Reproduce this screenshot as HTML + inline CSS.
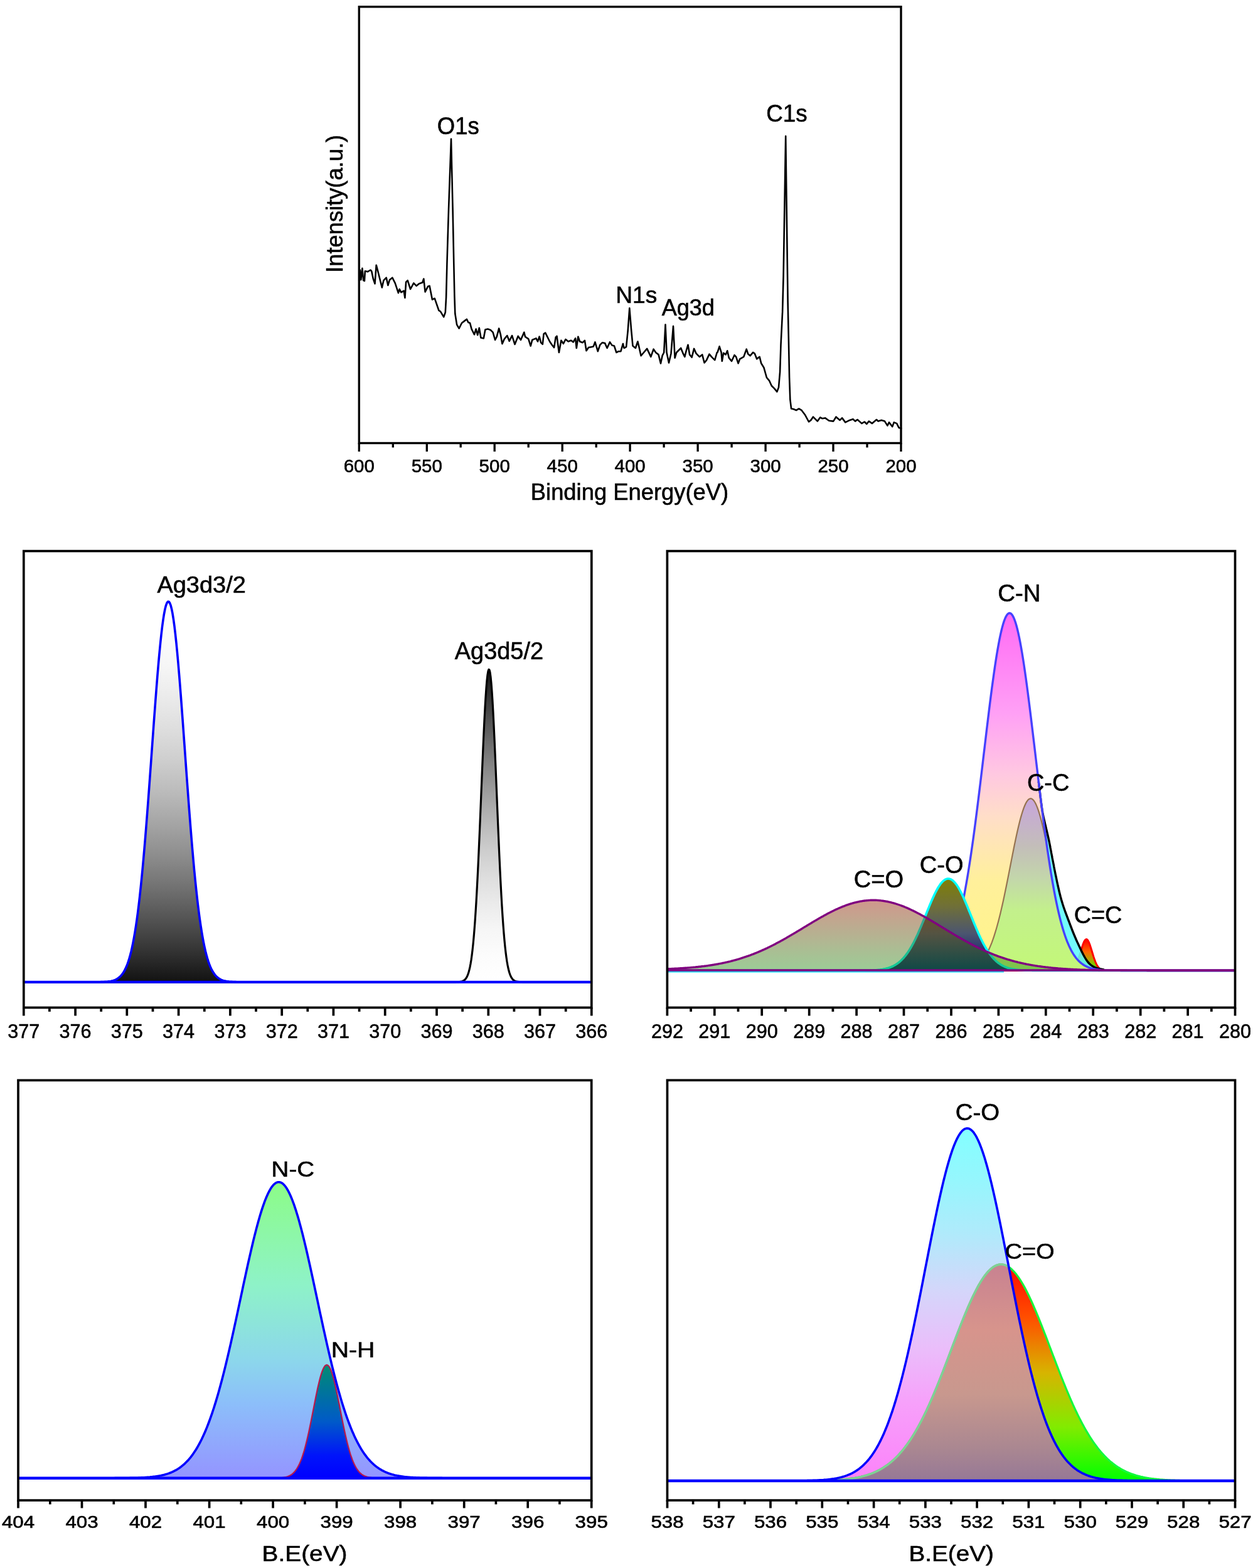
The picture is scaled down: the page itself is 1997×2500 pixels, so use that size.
<!DOCTYPE html>
<html lang="en"><head><meta charset="utf-8"><title>XPS spectra</title>
<style>html,body{margin:0;padding:0;background:#fff}body{width:1997px;height:2500px;overflow:hidden}svg{display:block}text{font-family:'Liberation Sans', sans-serif;fill:#000}</style>
</head><body>
<svg width="1997" height="2500" viewBox="0 0 1997 2500">
<rect width="1997" height="2500" fill="#fff"/>
<g id="survey">
<path d="M572.2 447.9 L573.9 430.5 L575.3 446.2 L577.4 427.9 L579.2 447.1 L580.9 447.9 L581.8 432.3 L586.1 433.1 L590.5 430.5 L592.2 432.3 L594.8 444.5 L597.5 452.3 L599.7 422.7 L601.8 430.5 L605.3 444.5 L608.8 458.4 L611.4 447.1 L615.7 442.7 L618.4 454.9 L621 446.2 L625.3 442.7 L629.7 451.4 L634.9 467.1 L636.7 461 L639.3 466.2 L643.6 463.6 L645.4 474.9 L647.1 449.7 L649.7 447.1 L654.1 461 L659.3 451.4 L663.7 455.8 L668 452.3 L673.2 450.6 L675.3 444.5 L677.6 465.4 L682 456.7 L684.6 455.8 L688.9 477.6 L692.8 475.8 L699.4 495 L702 496.7 L707.2 505.4 L709.8 498 L711.1 473.6 L712.4 421.3 L715 334.2 L719 221.5 L721.6 334.2 L723.3 421.3 L724.4 473 L725.3 500 L727.2 512 L728.1 517.6 L731.6 523.7 L736 515 L739.4 512.4 L743.8 508.9 L746.4 514.1 L749 515 L751.6 524.6 L756 533.3 L758.6 524.6 L761.2 534.2 L763.8 522.9 L766.4 538.5 L770.8 539.4 L773.4 525.5 L777.8 524.6 L782.1 526.3 L785.6 529.8 L789.1 542 L791.7 536.8 L795.2 523.7 L797.8 533.3 L800.4 548.1 L803.9 540.3 L808.3 535.1 L811.7 543.8 L816.1 535.1 L820.5 549 L825.7 535.9 L830 542 L835.3 529.8 L837 536.8 L842.2 540.3 L845.7 551.6 L848.3 542 L854.4 539.4 L857 544.5 L859.6 536.7 L862.2 546.3 L864.8 548.9 L866.6 532.3 L869.2 530.6 L871.8 535.8 L876.1 544.5 L879.6 549.8 L883.1 554.1 L885.7 537.6 L887.5 535.8 L890.9 562 L894.4 542.8 L897.9 548 L901.4 541 L905.7 544.5 L910.1 542.8 L913.6 545.4 L917.1 539.3 L918.8 555 L921.4 536.7 L924 544.5 L928.4 546.3 L931.9 542.8 L934.5 559.3 L938 554.1 L942.3 553.2 L945.8 552.4 L948.4 545.4 L952.8 560.2 L956.3 549.8 L959.8 546.3 L964.1 547.1 L967.6 555 L972 545.4 L975.4 550.6 L978.9 551.5 L982.4 562 L985.9 560.2 L989.4 560.2 L992.9 548 L994.6 555 L998.1 553.2 L1000.7 527.1 L1003.3 491.4 L1005.9 523.6 L1008.5 551.5 L1012.9 555 L1016.4 544.5 L1018.1 551.5 L1021.6 567.2 L1026 562 L1031.2 555.9 L1037.3 568.9 L1041.6 556.7 L1045.1 562 L1049.5 565.4 L1053 579.4 L1055.6 567.2 L1058.2 562 L1060.5 517.5 L1062.5 562 L1066 578.5 L1069.5 563.7 L1073 520.1 L1075.6 570.7 L1078.2 562 L1081.7 558.5 L1085.2 555 L1088.7 563.7 L1091.3 568.9 L1093.9 558.5 L1096.5 549.8 L1099.1 565.4 L1102.6 569.8 L1106.1 555.9 L1109.6 563.7 L1114.8 568.9 L1119.2 565.4 L1122.6 578.5 L1126.1 574.1 L1130.5 564.6 L1134 568.9 L1139.2 574.1 L1142.7 562 L1143.5 561.9 L1146.6 552.3 L1149.6 561.9 L1150.8 575.8 L1153.1 562.8 L1156.6 565.4 L1159.2 559.3 L1161.8 570.6 L1166.1 575.8 L1170.5 566.2 L1173.1 568.9 L1176.6 579.3 L1179.2 572.3 L1185.3 568.9 L1189.7 556.7 L1192.3 564.5 L1195.7 567.1 L1200.1 561.9 L1202.7 563.6 L1206.2 572.3 L1210.6 568.9 L1213.2 579.3 L1217.5 586.3 L1221.9 602 L1226.2 607.2 L1229.7 615 L1234.1 619.4 L1238.4 624.6 L1241 617.6 L1243.1 593.2 L1244.5 549.7 L1247.1 497.4 L1248.6 440 L1252.2 217 L1255.6 480 L1256.7 532.3 L1258.1 602 L1259.3 636.8 L1261.1 651.6 L1265.4 652.5 L1268.9 654.2 L1273.3 651.6 L1277.6 654.2 L1282.9 661.2 L1289 672.5 L1292.4 669.9 L1295.9 664.7 L1299.4 668.2 L1302.9 671.6 L1307.2 665.5 L1310.7 667.3 L1315.1 666.4 L1321.2 670.8 L1328.2 671.6 L1332.5 664.7 L1338.6 669.9 L1342.1 666.4 L1347.3 673.4 L1354.3 669.9 L1359.5 668.2 L1363 671.6 L1366.5 669 L1373.4 675.1 L1377.8 672.5 L1381.3 676 L1384.8 671.6 L1390 675.1 L1397 669 L1399.6 671.6 L1404.8 669.9 L1410 671.6 L1414.4 678.6 L1417 673.4 L1422.2 680.3 L1424.8 673.4 L1429.2 675.1 L1432.7 682.1 L1436.2 683" fill="none" stroke="#000" stroke-width="2.6" stroke-linejoin="round" stroke-linecap="round"/>
<rect x="572.3" y="10.8" width="863.7" height="695.7" fill="none" stroke="#000" stroke-width="3.4"/>
<path d="M572.3 706.5 V720 M626.3 706.5 V713.5 M680.3 706.5 V720 M734.2 706.5 V713.5 M788.2 706.5 V720 M842.2 706.5 V713.5 M896.2 706.5 V720 M950.2 706.5 V713.5 M1004.1 706.5 V720 M1058.1 706.5 V713.5 M1112.1 706.5 V720 M1166.1 706.5 V713.5 M1220.1 706.5 V720 M1274.1 706.5 V713.5 M1328 706.5 V720 M1382 706.5 V713.5 M1436 706.5 V720" fill="none" stroke="#000" stroke-width="3.3"/>
<g font-size="29.82" text-anchor="middle" stroke="#000" stroke-width="0.6">
<text transform="translate(572.30,752.50) scale(0.9891,1)">600</text>
<text transform="translate(680.26,752.50) scale(0.9891,1)">550</text>
<text transform="translate(788.22,752.50) scale(0.9891,1)">500</text>
<text transform="translate(896.19,752.50) scale(0.9891,1)">450</text>
<text transform="translate(1004.15,752.50) scale(0.9891,1)">400</text>
<text transform="translate(1112.11,752.50) scale(0.9891,1)">350</text>
<text transform="translate(1220.08,752.50) scale(0.9891,1)">300</text>
<text transform="translate(1328.04,752.50) scale(0.9891,1)">250</text>
<text transform="translate(1436.00,752.50) scale(0.9891,1)">200</text>
</g>
<text transform="translate(845.80,797.40) scale(0.9843,1)" font-size="36.95" stroke="#000" stroke-width="0.6">Binding Energy(eV)</text>
<text transform="translate(546.30,434.76) rotate(-90) scale(0.9818,1)" font-size="36.95" stroke="#000" stroke-width="0.6">Intensity(a.u.)</text>
<text transform="translate(696.77,213.72) scale(0.9534,1)" font-size="38.30" stroke="#000" stroke-width="0.6">O1s</text>
<text transform="translate(1221.26,193.92) scale(0.9681,1)" font-size="38.02" stroke="#000" stroke-width="0.6">C1s</text>
<text transform="translate(981.23,483.13) scale(0.9933,1)" font-size="37.42" stroke="#000" stroke-width="0.6">N1s</text>
<text transform="translate(1054.71,502.90) scale(0.9754,1)" font-size="36.95" stroke="#000" stroke-width="0.6">Ag3d</text>
</g>
<g id="ag3d">
<defs>
<linearGradient id="g2a" gradientUnits="userSpaceOnUse" x1="0" y1="959" x2="0" y2="1565.8"><stop offset="0" stop-color="rgb(255,255,255)"/><stop offset="0.083" stop-color="rgb(252,252,252)"/><stop offset="0.167" stop-color="rgb(246,246,246)"/><stop offset="0.25" stop-color="rgb(235,235,235)"/><stop offset="0.333" stop-color="rgb(222,222,222)"/><stop offset="0.417" stop-color="rgb(206,206,206)"/><stop offset="0.5" stop-color="rgb(187,187,187)"/><stop offset="0.583" stop-color="rgb(165,165,165)"/><stop offset="0.667" stop-color="rgb(141,141,141)"/><stop offset="0.75" stop-color="rgb(114,114,114)"/><stop offset="0.833" stop-color="rgb(84,84,84)"/><stop offset="0.917" stop-color="rgb(52,52,52)"/><stop offset="1" stop-color="rgb(18,18,18)"/></linearGradient>
<linearGradient id="g2b" gradientUnits="userSpaceOnUse" x1="0" y1="1067" x2="0" y2="1565.8"><stop offset="0" stop-color="rgb(18,18,18)"/><stop offset="0.083" stop-color="rgb(52,52,52)"/><stop offset="0.167" stop-color="rgb(84,84,84)"/><stop offset="0.25" stop-color="rgb(114,114,114)"/><stop offset="0.333" stop-color="rgb(141,141,141)"/><stop offset="0.417" stop-color="rgb(165,165,165)"/><stop offset="0.5" stop-color="rgb(187,187,187)"/><stop offset="0.583" stop-color="rgb(206,206,206)"/><stop offset="0.667" stop-color="rgb(222,222,222)"/><stop offset="0.75" stop-color="rgb(235,235,235)"/><stop offset="0.833" stop-color="rgb(246,246,246)"/><stop offset="0.917" stop-color="rgb(252,252,252)"/><stop offset="1" stop-color="rgb(255,255,255)"/></linearGradient>
</defs>
<path d="M715 1565.8 L716 1565.8 L717 1565.8 L718 1565.8 L719 1565.8 L720 1565.8 L721 1565.8 L722 1565.8 L723 1565.8 L724 1565.8 L725 1565.8 L726 1565.8 L727 1565.7 L728 1565.7 L729 1565.7 L730 1565.6 L731 1565.6 L732 1565.5 L733 1565.4 L734 1565.2 L735 1565 L736 1564.8 L737 1564.5 L738 1564 L739 1563.5 L740 1562.8 L741 1561.9 L742 1560.8 L743 1559.4 L744 1557.7 L745 1555.6 L746 1553 L747 1549.9 L748 1546.2 L749 1541.8 L750 1536.6 L751 1530.5 L752 1523.3 L753 1515.1 L754 1505.7 L755 1495 L756 1482.9 L757 1469.4 L758 1454.5 L759 1438.1 L760 1420.2 L761 1401 L762 1380.4 L763 1358.6 L764 1335.8 L765 1312.2 L766 1288 L767 1263.4 L768 1238.9 L769 1214.7 L770 1191.2 L771 1168.8 L772 1147.8 L773 1128.6 L774 1111.5 L775 1096.9 L776 1084.9 L777 1075.9 L778 1070.1 L779 1067.4 L780 1068.1 L781 1072 L782 1079.2 L783 1089.4 L784 1102.4 L785 1118.1 L786 1136 L787 1156 L788 1177.6 L789 1200.5 L790 1224.3 L791 1248.7 L792 1273.3 L793 1297.7 L794 1321.7 L795 1345.1 L796 1367.5 L797 1388.8 L798 1408.9 L799 1427.6 L800 1444.8 L801 1460.7 L802 1475 L803 1487.9 L804 1499.4 L805 1509.6 L806 1518.5 L807 1526.3 L808 1533 L809 1538.8 L810 1543.7 L811 1547.8 L812 1551.2 L813 1554.1 L814 1556.5 L815 1558.4 L816 1560 L817 1561.3 L818 1562.3 L819 1563.1 L820 1563.7 L821 1564.2 L822 1564.6 L823 1564.9 L824 1565.1 L825 1565.3 L826 1565.4 L827 1565.5 L828 1565.6 L829 1565.7 L830 1565.7 L831 1565.7 L832 1565.7 L833 1565.8 L834 1565.8 L835 1565.8 L836 1565.8 L837 1565.8 L838 1565.8 L839 1565.8 L840 1565.8 L841 1565.8 L842 1565.8 L843 1565.8 L844 1565.8 L845 1565.8 L845 1565.8 L715 1565.8 Z" fill="url(#g2b)" stroke="none"/>
<path d="M37.8 1565.8 L715 1565.8 L716 1565.8 L717 1565.8 L718 1565.8 L719 1565.8 L720 1565.8 L721 1565.8 L722 1565.8 L723 1565.8 L724 1565.8 L725 1565.8 L726 1565.8 L727 1565.7 L728 1565.7 L729 1565.7 L730 1565.6 L731 1565.6 L732 1565.5 L733 1565.4 L734 1565.2 L735 1565 L736 1564.8 L737 1564.5 L738 1564 L739 1563.5 L740 1562.8 L741 1561.9 L742 1560.8 L743 1559.4 L744 1557.7 L745 1555.6 L746 1553 L747 1549.9 L748 1546.2 L749 1541.8 L750 1536.6 L751 1530.5 L752 1523.3 L753 1515.1 L754 1505.7 L755 1495 L756 1482.9 L757 1469.4 L758 1454.5 L759 1438.1 L760 1420.2 L761 1401 L762 1380.4 L763 1358.6 L764 1335.8 L765 1312.2 L766 1288 L767 1263.4 L768 1238.9 L769 1214.7 L770 1191.2 L771 1168.8 L772 1147.8 L773 1128.6 L774 1111.5 L775 1096.9 L776 1084.9 L777 1075.9 L778 1070.1 L779 1067.4 L780 1068.1 L781 1072 L782 1079.2 L783 1089.4 L784 1102.4 L785 1118.1 L786 1136 L787 1156 L788 1177.6 L789 1200.5 L790 1224.3 L791 1248.7 L792 1273.3 L793 1297.7 L794 1321.7 L795 1345.1 L796 1367.5 L797 1388.8 L798 1408.9 L799 1427.6 L800 1444.8 L801 1460.7 L802 1475 L803 1487.9 L804 1499.4 L805 1509.6 L806 1518.5 L807 1526.3 L808 1533 L809 1538.8 L810 1543.7 L811 1547.8 L812 1551.2 L813 1554.1 L814 1556.5 L815 1558.4 L816 1560 L817 1561.3 L818 1562.3 L819 1563.1 L820 1563.7 L821 1564.2 L822 1564.6 L823 1564.9 L824 1565.1 L825 1565.3 L826 1565.4 L827 1565.5 L828 1565.6 L829 1565.7 L830 1565.7 L831 1565.7 L832 1565.7 L833 1565.8 L834 1565.8 L835 1565.8 L836 1565.8 L837 1565.8 L838 1565.8 L839 1565.8 L840 1565.8 L841 1565.8 L842 1565.8 L843 1565.8 L844 1565.8 L845 1565.8 L942.8 1565.8" fill="none" stroke="#000" stroke-width="3.2" stroke-linejoin="round"/>
<path d="M140 1565.8 L141.5 1565.8 L143 1565.8 L144.5 1565.8 L146 1565.8 L147.5 1565.8 L149 1565.8 L150.5 1565.8 L152 1565.8 L153.5 1565.8 L155 1565.7 L156.5 1565.7 L158 1565.7 L159.5 1565.7 L161 1565.6 L162.5 1565.6 L164 1565.6 L165.5 1565.5 L167 1565.4 L168.5 1565.3 L170 1565.2 L171.5 1565.1 L173 1564.9 L174.5 1564.7 L176 1564.5 L177.5 1564.2 L179 1563.8 L180.5 1563.4 L182 1562.9 L183.5 1562.3 L185 1561.6 L186.5 1560.8 L188 1559.9 L189.5 1558.7 L191 1557.5 L192.5 1556 L194 1554.2 L195.5 1552.3 L197 1550 L198.5 1547.4 L200 1544.4 L201.5 1541.1 L203 1537.3 L204.5 1533.1 L206 1528.3 L207.5 1523 L209 1517.1 L210.5 1510.6 L212 1503.4 L213.5 1495.4 L215 1486.7 L216.5 1477.3 L218 1467 L219.5 1455.9 L221 1443.9 L222.5 1431.1 L224 1417.3 L225.5 1402.8 L227 1387.3 L228.5 1371 L230 1354 L231.5 1336.1 L233 1317.6 L234.5 1298.4 L236 1278.7 L237.5 1258.6 L239 1238 L240.5 1217.3 L242 1196.4 L243.5 1175.5 L245 1154.7 L246.5 1134.3 L248 1114.3 L249.5 1094.9 L251 1076.2 L252.5 1058.5 L254 1041.8 L255.5 1026.3 L257 1012.1 L258.5 999.4 L260 988.3 L261.5 978.8 L263 971.1 L264.5 965.3 L266 961.3 L267.5 959.3 L269 959.2 L270.5 961.1 L272 964.9 L273.5 970.7 L275 978.2 L276.5 987.6 L278 998.6 L279.5 1011.2 L281 1025.3 L282.5 1040.7 L284 1057.3 L285.5 1075 L287 1093.6 L288.5 1113 L290 1133 L291.5 1153.4 L293 1174.1 L294.5 1195 L296 1215.9 L297.5 1236.6 L299 1257.2 L300.5 1277.4 L302 1297.1 L303.5 1316.3 L305 1334.9 L306.5 1352.8 L308 1369.9 L309.5 1386.3 L311 1401.8 L312.5 1416.4 L314 1430.2 L315.5 1443.1 L317 1455.1 L318.5 1466.3 L320 1476.6 L321.5 1486.1 L323 1494.9 L324.5 1502.9 L326 1510.1 L327.5 1516.7 L329 1522.6 L330.5 1528 L332 1532.8 L333.5 1537.1 L335 1540.9 L336.5 1544.2 L338 1547.2 L339.5 1549.8 L341 1552.1 L342.5 1554.1 L344 1555.9 L345.5 1557.4 L347 1558.7 L348.5 1559.8 L350 1560.7 L351.5 1561.6 L353 1562.3 L354.5 1562.9 L356 1563.4 L357.5 1563.8 L359 1564.1 L360.5 1564.4 L362 1564.7 L363.5 1564.9 L365 1565.1 L366.5 1565.2 L368 1565.3 L369.5 1565.4 L371 1565.5 L372.5 1565.5 L374 1565.6 L375.5 1565.6 L377 1565.7 L378.5 1565.7 L380 1565.7 L381.5 1565.7 L383 1565.8 L384.5 1565.8 L386 1565.8 L387.5 1565.8 L389 1565.8 L390.5 1565.8 L392 1565.8 L393.5 1565.8 L395 1565.8 L396.5 1565.8 L398 1565.8 L399.5 1565.8 L399.5 1565.8 L140 1565.8 Z" fill="url(#g2a)" stroke="none"/>
<path d="M37.8 1565.8 L140 1565.8 L141.5 1565.8 L143 1565.8 L144.5 1565.8 L146 1565.8 L147.5 1565.8 L149 1565.8 L150.5 1565.8 L152 1565.8 L153.5 1565.8 L155 1565.7 L156.5 1565.7 L158 1565.7 L159.5 1565.7 L161 1565.6 L162.5 1565.6 L164 1565.6 L165.5 1565.5 L167 1565.4 L168.5 1565.3 L170 1565.2 L171.5 1565.1 L173 1564.9 L174.5 1564.7 L176 1564.5 L177.5 1564.2 L179 1563.8 L180.5 1563.4 L182 1562.9 L183.5 1562.3 L185 1561.6 L186.5 1560.8 L188 1559.9 L189.5 1558.7 L191 1557.5 L192.5 1556 L194 1554.2 L195.5 1552.3 L197 1550 L198.5 1547.4 L200 1544.4 L201.5 1541.1 L203 1537.3 L204.5 1533.1 L206 1528.3 L207.5 1523 L209 1517.1 L210.5 1510.6 L212 1503.4 L213.5 1495.4 L215 1486.7 L216.5 1477.3 L218 1467 L219.5 1455.9 L221 1443.9 L222.5 1431.1 L224 1417.3 L225.5 1402.8 L227 1387.3 L228.5 1371 L230 1354 L231.5 1336.1 L233 1317.6 L234.5 1298.4 L236 1278.7 L237.5 1258.6 L239 1238 L240.5 1217.3 L242 1196.4 L243.5 1175.5 L245 1154.7 L246.5 1134.3 L248 1114.3 L249.5 1094.9 L251 1076.2 L252.5 1058.5 L254 1041.8 L255.5 1026.3 L257 1012.1 L258.5 999.4 L260 988.3 L261.5 978.8 L263 971.1 L264.5 965.3 L266 961.3 L267.5 959.3 L269 959.2 L270.5 961.1 L272 964.9 L273.5 970.7 L275 978.2 L276.5 987.6 L278 998.6 L279.5 1011.2 L281 1025.3 L282.5 1040.7 L284 1057.3 L285.5 1075 L287 1093.6 L288.5 1113 L290 1133 L291.5 1153.4 L293 1174.1 L294.5 1195 L296 1215.9 L297.5 1236.6 L299 1257.2 L300.5 1277.4 L302 1297.1 L303.5 1316.3 L305 1334.9 L306.5 1352.8 L308 1369.9 L309.5 1386.3 L311 1401.8 L312.5 1416.4 L314 1430.2 L315.5 1443.1 L317 1455.1 L318.5 1466.3 L320 1476.6 L321.5 1486.1 L323 1494.9 L324.5 1502.9 L326 1510.1 L327.5 1516.7 L329 1522.6 L330.5 1528 L332 1532.8 L333.5 1537.1 L335 1540.9 L336.5 1544.2 L338 1547.2 L339.5 1549.8 L341 1552.1 L342.5 1554.1 L344 1555.9 L345.5 1557.4 L347 1558.7 L348.5 1559.8 L350 1560.7 L351.5 1561.6 L353 1562.3 L354.5 1562.9 L356 1563.4 L357.5 1563.8 L359 1564.1 L360.5 1564.4 L362 1564.7 L363.5 1564.9 L365 1565.1 L366.5 1565.2 L368 1565.3 L369.5 1565.4 L371 1565.5 L372.5 1565.5 L374 1565.6 L375.5 1565.6 L377 1565.7 L378.5 1565.7 L380 1565.7 L381.5 1565.7 L383 1565.8 L384.5 1565.8 L386 1565.8 L387.5 1565.8 L389 1565.8 L390.5 1565.8 L392 1565.8 L393.5 1565.8 L395 1565.8 L396.5 1565.8 L398 1565.8 L399.5 1565.8 L942.8 1565.8" fill="none" stroke="#0000ff" stroke-width="3.6" stroke-linejoin="round"/>
<path d="M37.8 1565.8 H942.8" fill="none" stroke="#0000ff" stroke-width="4"/>
<rect x="37.8" y="878.6" width="905" height="727.9" fill="none" stroke="#000" stroke-width="3.7"/>
<path d="M37.8 1606.5 V1619.5 M78.9 1606.5 V1613 M120.1 1606.5 V1619.5 M161.2 1606.5 V1613 M202.3 1606.5 V1619.5 M243.5 1606.5 V1613 M284.6 1606.5 V1619.5 M325.8 1606.5 V1613 M366.9 1606.5 V1619.5 M408 1606.5 V1613 M449.2 1606.5 V1619.5 M490.3 1606.5 V1613 M531.4 1606.5 V1619.5 M572.6 1606.5 V1613 M613.7 1606.5 V1619.5 M654.8 1606.5 V1613 M696 1606.5 V1619.5 M737.1 1606.5 V1613 M778.3 1606.5 V1619.5 M819.4 1606.5 V1613 M860.5 1606.5 V1619.5 M901.7 1606.5 V1613 M942.8 1606.5 V1619.5" fill="none" stroke="#000" stroke-width="3.7"/>
<g font-size="32.23" text-anchor="middle" stroke="#000" stroke-width="0.6">
<text transform="translate(37.80,1655.18) scale(0.9485,1)">377</text>
<text transform="translate(120.07,1655.18) scale(0.9485,1)">376</text>
<text transform="translate(202.35,1655.18) scale(0.9485,1)">375</text>
<text transform="translate(284.62,1655.18) scale(0.9485,1)">374</text>
<text transform="translate(366.89,1655.18) scale(0.9485,1)">373</text>
<text transform="translate(449.16,1655.18) scale(0.9485,1)">372</text>
<text transform="translate(531.44,1655.18) scale(0.9485,1)">371</text>
<text transform="translate(613.71,1655.18) scale(0.9485,1)">370</text>
<text transform="translate(695.98,1655.18) scale(0.9485,1)">369</text>
<text transform="translate(778.25,1655.18) scale(0.9485,1)">368</text>
<text transform="translate(860.53,1655.18) scale(0.9485,1)">367</text>
<text transform="translate(942.80,1655.18) scale(0.9485,1)">366</text>
</g>
<text transform="translate(250.41,945.00) scale(1.0044,1)" font-size="37.82" stroke="#000" stroke-width="0.6">Ag3d3/2</text>
<text transform="translate(724.81,1051.20) scale(0.9915,1)" font-size="38.25" stroke="#000" stroke-width="0.6">Ag3d5/2</text>
</g>
<g id="c1s">
<defs>
<linearGradient id="g3cn" gradientUnits="userSpaceOnUse" x1="0" y1="977" x2="0" y2="1547.5"><stop offset="0" stop-color="rgb(255,105,245)"/><stop offset="0.28" stop-color="rgb(255,160,245)"/><stop offset="0.45" stop-color="rgb(255,200,225)"/><stop offset="0.57" stop-color="rgb(255,222,200)"/><stop offset="0.75" stop-color="rgb(255,240,155)"/><stop offset="1" stop-color="rgb(255,245,135)"/></linearGradient>
<linearGradient id="g3cc" gradientUnits="userSpaceOnUse" x1="0" y1="1273" x2="0" y2="1547.5"><stop offset="0" stop-color="rgb(200,165,220)"/><stop offset="0.28" stop-color="rgb(195,190,185)"/><stop offset="0.47" stop-color="rgb(195,215,170)"/><stop offset="0.65" stop-color="rgb(195,240,140)"/><stop offset="1" stop-color="rgb(195,248,120)"/></linearGradient>
<linearGradient id="g3co" gradientUnits="userSpaceOnUse" x1="0" y1="1400" x2="0" y2="1547.5"><stop offset="0" stop-color="rgb(128,128,5)"/><stop offset="0.3" stop-color="rgb(112,112,55)"/><stop offset="0.6" stop-color="rgb(75,85,112)"/><stop offset="1" stop-color="rgb(0,15,110)"/></linearGradient>
<linearGradient id="g3ceo" gradientUnits="userSpaceOnUse" x1="0" y1="1436" x2="0" y2="1547.5"><stop offset="0" stop-color="rgb(150,25,0)" stop-opacity="0.45"/><stop offset="1" stop-color="rgb(33,144,22)" stop-opacity="0.45"/></linearGradient>
<linearGradient id="g3cec" gradientUnits="userSpaceOnUse" x1="0" y1="1498" x2="0" y2="1547.5"><stop offset="0" stop-color="rgb(255,0,0)"/><stop offset="0.4" stop-color="rgb(255,100,0)"/><stop offset="1" stop-color="rgb(60,255,0)"/></linearGradient>
</defs>
<path d="M1063.4 1547.5 L1064.9 1547.5 L1066.4 1547.5 L1067.9 1547.5 L1069.4 1547.5 L1070.9 1547.5 L1072.4 1547.5 L1073.9 1547.5 L1075.4 1547.5 L1076.9 1547.5 L1078.4 1547.5 L1079.9 1547.5 L1081.4 1547.5 L1082.9 1547.5 L1084.4 1547.5 L1085.9 1547.5 L1087.4 1547.5 L1088.9 1547.5 L1090.4 1547.5 L1091.9 1547.5 L1093.4 1547.5 L1094.9 1547.5 L1096.4 1547.5 L1097.9 1547.5 L1099.4 1547.5 L1100.9 1547.5 L1102.4 1547.5 L1103.9 1547.5 L1105.4 1547.5 L1106.9 1547.5 L1108.4 1547.5 L1109.9 1547.5 L1111.4 1547.5 L1112.9 1547.5 L1114.4 1547.5 L1115.9 1547.5 L1117.4 1547.5 L1118.9 1547.5 L1120.4 1547.5 L1121.9 1547.5 L1123.4 1547.5 L1124.9 1547.5 L1126.4 1547.5 L1127.9 1547.5 L1129.4 1547.5 L1130.9 1547.5 L1132.4 1547.5 L1133.9 1547.5 L1135.4 1547.5 L1136.9 1547.5 L1138.4 1547.5 L1139.9 1547.5 L1141.4 1547.5 L1142.9 1547.5 L1144.4 1547.5 L1145.9 1547.5 L1147.4 1547.5 L1148.9 1547.5 L1150.4 1547.5 L1151.9 1547.5 L1153.4 1547.5 L1154.9 1547.5 L1156.4 1547.5 L1157.9 1547.5 L1159.4 1547.5 L1160.9 1547.5 L1162.4 1547.5 L1163.9 1547.5 L1165.4 1547.5 L1166.9 1547.5 L1168.4 1547.5 L1169.9 1547.5 L1171.4 1547.5 L1172.9 1547.5 L1174.4 1547.5 L1175.9 1547.5 L1177.4 1547.5 L1178.9 1547.5 L1180.4 1547.5 L1181.9 1547.5 L1183.4 1547.5 L1184.9 1547.5 L1186.4 1547.5 L1187.9 1547.5 L1189.4 1547.5 L1190.9 1547.5 L1192.4 1547.5 L1193.9 1547.5 L1195.4 1547.5 L1196.9 1547.5 L1198.4 1547.5 L1199.9 1547.5 L1201.4 1547.5 L1202.9 1547.5 L1204.4 1547.5 L1205.9 1547.5 L1207.4 1547.5 L1208.9 1547.5 L1210.4 1547.5 L1211.9 1547.5 L1213.4 1547.5 L1214.9 1547.5 L1216.4 1547.5 L1217.9 1547.5 L1219.4 1547.5 L1220.9 1547.5 L1222.4 1547.5 L1223.9 1547.5 L1225.4 1547.5 L1226.9 1547.5 L1228.4 1547.5 L1229.9 1547.5 L1231.4 1547.5 L1232.9 1547.5 L1234.4 1547.5 L1235.9 1547.5 L1237.4 1547.5 L1238.9 1547.5 L1240.4 1547.5 L1241.9 1547.5 L1243.4 1547.5 L1244.9 1547.5 L1246.4 1547.5 L1247.9 1547.5 L1249.4 1547.5 L1250.9 1547.5 L1252.4 1547.5 L1253.9 1547.5 L1255.4 1547.5 L1256.9 1547.5 L1258.4 1547.5 L1259.9 1547.5 L1261.4 1547.5 L1262.9 1547.5 L1264.4 1547.5 L1265.9 1547.5 L1267.4 1547.5 L1268.9 1547.5 L1270.4 1547.5 L1271.9 1547.5 L1273.4 1547.5 L1274.9 1547.5 L1276.4 1547.5 L1277.9 1547.5 L1279.4 1547.5 L1280.9 1547.5 L1282.4 1547.5 L1283.9 1547.5 L1285.4 1547.5 L1286.9 1547.5 L1288.4 1547.5 L1289.9 1547.5 L1291.4 1547.5 L1292.9 1547.5 L1294.4 1547.5 L1295.9 1547.5 L1297.4 1547.5 L1298.9 1547.5 L1300.4 1547.5 L1301.9 1547.5 L1303.4 1547.5 L1304.9 1547.5 L1306.4 1547.5 L1307.9 1547.5 L1309.4 1547.5 L1310.9 1547.5 L1312.4 1547.5 L1313.9 1547.5 L1315.4 1547.5 L1316.9 1547.5 L1318.4 1547.5 L1319.9 1547.5 L1321.4 1547.5 L1322.9 1547.5 L1324.4 1547.5 L1325.9 1547.5 L1327.4 1547.5 L1328.9 1547.5 L1330.4 1547.5 L1331.9 1547.5 L1333.4 1547.5 L1334.9 1547.5 L1336.4 1547.5 L1337.9 1547.5 L1339.4 1547.5 L1340.9 1547.5 L1342.4 1547.5 L1343.9 1547.5 L1345.4 1547.5 L1346.9 1547.5 L1348.4 1547.5 L1349.9 1547.5 L1351.4 1547.5 L1352.9 1547.5 L1354.4 1547.5 L1355.9 1547.5 L1357.4 1547.5 L1358.9 1547.5 L1360.4 1547.5 L1361.9 1547.5 L1363.4 1547.5 L1364.9 1547.5 L1366.4 1547.5 L1367.9 1547.5 L1369.4 1547.5 L1370.9 1547.5 L1372.4 1547.5 L1373.9 1547.5 L1375.4 1547.5 L1376.9 1547.5 L1378.4 1547.5 L1379.9 1547.5 L1381.4 1547.5 L1382.9 1547.5 L1384.4 1547.5 L1385.9 1547.5 L1387.4 1547.5 L1388.9 1547.5 L1390.4 1547.5 L1391.9 1547.5 L1393.4 1547.5 L1394.9 1547.5 L1396.4 1547.5 L1397.9 1547.5 L1399.4 1547.5 L1400.9 1547.5 L1402.4 1547.5 L1403.9 1547.5 L1405.4 1547.5 L1406.9 1547.5 L1408.4 1547.5 L1409.9 1547.5 L1411.4 1547.5 L1412.9 1547.5 L1414.4 1547.5 L1415.9 1547.5 L1417.4 1547.5 L1418.9 1547.5 L1420.4 1547.5 L1421.9 1547.5 L1423.4 1547.5 L1424.9 1547.5 L1426.4 1547.5 L1427.9 1547.5 L1429.4 1547.5 L1430.9 1547.5 L1432.4 1547.5 L1433.9 1547.5 L1435.4 1547.5 L1436.9 1547.5 L1438.4 1547.5 L1439.9 1547.5 L1441.4 1547.5 L1442.9 1547.5 L1444.4 1547.5 L1445.9 1547.5 L1447.4 1547.5 L1448.9 1547.5 L1450.4 1547.5 L1451.9 1547.5 L1453.4 1547.5 L1454.9 1547.5 L1456.4 1547.5 L1457.9 1547.5 L1459.4 1547.5 L1460.9 1547.5 L1462.4 1547.5 L1463.9 1547.5 L1465.4 1547.5 L1466.9 1547.5 L1468.4 1547.5 L1469.9 1547.5 L1471.4 1547.5 L1472.9 1547.5 L1474.4 1547.5 L1475.9 1547.5 L1477.4 1547.5 L1478.9 1547.5 L1480.4 1547.5 L1481.9 1547.5 L1483.4 1547.5 L1484.9 1547.5 L1486.4 1547.5 L1487.9 1547.5 L1489.4 1547.5 L1490.9 1547.5 L1492.4 1547.5 L1493.9 1547.5 L1495.4 1547.5 L1496.9 1547.5 L1498.4 1547.5 L1499.9 1547.5 L1501.4 1547.5 L1502.9 1547.5 L1504.4 1547.5 L1505.9 1547.5 L1507.4 1547.5 L1508.9 1547.5 L1510.4 1547.5 L1511.9 1547.5 L1513.4 1547.5 L1514.9 1547.5 L1516.4 1547.5 L1517.9 1547.5 L1519.4 1547.5 L1520.9 1547.5 L1522.4 1547.5 L1523.9 1547.5 L1525.4 1547.5 L1526.9 1547.5 L1528.4 1547.5 L1529.9 1547.5 L1531.4 1547.5 L1532.9 1547.5 L1534.4 1547.5 L1535.9 1547.5 L1537.4 1547.5 L1538.9 1547.5 L1540.4 1547.5 L1541.9 1547.5 L1543.4 1547.5 L1544.9 1547.5 L1546.4 1547.5 L1547.9 1547.5 L1549.4 1547.5 L1550.9 1547.5 L1552.4 1547.5 L1553.9 1547.5 L1555.4 1547.5 L1556.9 1547.5 L1558.4 1547.5 L1559.9 1547.5 L1561.4 1547.5 L1562.9 1547.5 L1564.4 1547.5 L1565.9 1547.5 L1567.4 1547.5 L1568.9 1547.5 L1570.4 1547.5 L1571.9 1547.5 L1573.4 1547.5 L1574.9 1547.5 L1576.4 1547.5 L1577.9 1547.5 L1579.4 1547.5 L1580.9 1547.5 L1582.4 1547.5 L1583.9 1547.5 L1585.4 1547.5 L1586.9 1547.5 L1588.4 1547.5 L1589.9 1547.5 L1591.4 1547.5 L1592.9 1547.5 L1594.4 1547.5 L1595.9 1547.5 L1597.4 1547.5 L1598.9 1547.5 L1600.4 1547.5 L1601.9 1547.5 L1603.4 1547.5 L1604.9 1547.5 L1606.4 1547.5 L1607.9 1547.5 L1609.4 1547.5 L1610.9 1547.5 L1612.4 1547.5 L1613.9 1547.5 L1615.4 1547.5 L1616.9 1547.5 L1618.4 1547.5 L1619.9 1547.5 L1621.4 1547.5 L1622.9 1547.5 L1624.4 1547.5 L1625.9 1547.5 L1627.4 1547.5 L1628.9 1547.5 L1630.4 1547.5 L1631.9 1547.5 L1633.4 1547.5 L1634.9 1547.5 L1636.4 1547.5 L1637.9 1547.5 L1639.4 1547.5 L1640.9 1547.5 L1642.4 1547.5 L1643.9 1547.5 L1645.4 1547.5 L1646.9 1547.5 L1648.4 1547.5 L1649.9 1547.5 L1651.4 1547.5 L1652.9 1547.5 L1654.4 1547.5 L1655.9 1547.5 L1657.4 1547.5 L1658.9 1547.5 L1660.4 1547.5 L1661.9 1547.5 L1663.4 1547.5 L1664.9 1547.5 L1666.4 1547.5 L1667.9 1547.5 L1669.4 1547.5 L1670.9 1547.5 L1672.4 1547.5 L1673.9 1547.5 L1675.4 1547.5 L1676.9 1547.5 L1678.4 1547.5 L1679.9 1547.5 L1681.4 1547.5 L1682.9 1547.5 L1684.4 1547.5 L1685.9 1547.5 L1687.4 1547.5 L1688.9 1547.5 L1690.4 1547.5 L1691.9 1547.5 L1693.4 1547.5 L1694.9 1547.5 L1696.4 1547.5 L1697.9 1547.5 L1699.4 1547.4 L1700.9 1547.3 L1702.4 1547.2 L1703.9 1547 L1705.4 1546.7 L1706.9 1546.3 L1708.4 1545.6 L1709.9 1544.6 L1711.4 1543.3 L1712.9 1541.5 L1714.4 1539.1 L1715.9 1536.2 L1717.4 1532.6 L1718.9 1528.4 L1720.4 1523.8 L1721.9 1518.9 L1723.4 1513.8 L1724.9 1509 L1726.4 1504.7 L1727.9 1501.1 L1729.4 1498.7 L1730.9 1497.6 L1732.4 1497.8 L1733.9 1499.4 L1735.4 1502.2 L1736.9 1506 L1738.4 1510.6 L1739.9 1515.5 L1741.4 1520.5 L1742.9 1525.4 L1744.4 1529.9 L1745.9 1533.8 L1747.4 1537.2 L1748.9 1539.9 L1750.4 1542.1 L1751.9 1543.8 L1753.4 1545 L1754.9 1545.8 L1756.4 1546.4 L1757.9 1546.8 L1759.4 1547.1 L1760.9 1547.3 L1762.4 1547.4 L1763.9 1547.4 L1765.4 1547.5 L1766.9 1547.5 L1768.4 1547.5 L1769.9 1547.5 L1771.4 1547.5 L1772.9 1547.5 L1774.4 1547.5 L1775.9 1547.5 L1777.4 1547.5 L1778.9 1547.5 L1780.4 1547.5 L1781.9 1547.5 L1783.4 1547.5 L1784.9 1547.5 L1786.4 1547.5 L1787.9 1547.5 L1789.4 1547.5 L1790.9 1547.5 L1792.4 1547.5 L1793.9 1547.5 L1795.4 1547.5 L1796.9 1547.5 L1798.4 1547.5 L1799.9 1547.5 L1801.4 1547.5 L1802.9 1547.5 L1804.4 1547.5 L1805.9 1547.5 L1807.4 1547.5 L1808.9 1547.5 L1810.4 1547.5 L1811.9 1547.5 L1813.4 1547.5 L1814.9 1547.5 L1816.4 1547.5 L1817.9 1547.5 L1819.4 1547.5 L1820.9 1547.5 L1822.4 1547.5 L1823.9 1547.5 L1825.4 1547.5 L1826.9 1547.5 L1828.4 1547.5 L1829.9 1547.5 L1831.4 1547.5 L1832.9 1547.5 L1834.4 1547.5 L1835.9 1547.5 L1837.4 1547.5 L1838.9 1547.5 L1840.4 1547.5 L1841.9 1547.5 L1843.4 1547.5 L1844.9 1547.5 L1846.4 1547.5 L1847.9 1547.5 L1849.4 1547.5 L1850.9 1547.5 L1852.4 1547.5 L1853.9 1547.5 L1855.4 1547.5 L1856.9 1547.5 L1858.4 1547.5 L1859.9 1547.5 L1861.4 1547.5 L1862.9 1547.5 L1864.4 1547.5 L1865.9 1547.5 L1867.4 1547.5 L1868.9 1547.5 L1870.4 1547.5 L1871.9 1547.5 L1873.4 1547.5 L1874.9 1547.5 L1876.4 1547.5 L1877.9 1547.5 L1879.4 1547.5 L1880.9 1547.5 L1882.4 1547.5 L1883.9 1547.5 L1885.4 1547.5 L1886.9 1547.5 L1888.4 1547.5 L1889.9 1547.5 L1891.4 1547.5 L1892.9 1547.5 L1894.4 1547.5 L1895.9 1547.5 L1897.4 1547.5 L1898.9 1547.5 L1900.4 1547.5 L1901.9 1547.5 L1903.4 1547.5 L1904.9 1547.5 L1906.4 1547.5 L1907.9 1547.5 L1909.4 1547.5 L1910.9 1547.5 L1912.4 1547.5 L1913.9 1547.5 L1915.4 1547.5 L1916.9 1547.5 L1918.4 1547.5 L1919.9 1547.5 L1921.4 1547.5 L1922.9 1547.5 L1924.4 1547.5 L1925.9 1547.5 L1927.4 1547.5 L1928.9 1547.5 L1930.4 1547.5 L1931.9 1547.5 L1933.4 1547.5 L1934.9 1547.5 L1936.4 1547.5 L1937.9 1547.5 L1939.4 1547.5 L1940.9 1547.5 L1942.4 1547.5 L1943.9 1547.5 L1945.4 1547.5 L1946.9 1547.5 L1948.4 1547.5 L1949.9 1547.5 L1951.4 1547.5 L1952.9 1547.5 L1954.4 1547.5 L1955.9 1547.5 L1957.4 1547.5 L1958.9 1547.5 L1960.4 1547.5 L1961.9 1547.5 L1963.4 1547.5 L1964.9 1547.5 L1966.4 1547.5 L1967.9 1547.5 L1968.5 1547.5 L1968.5 1547.5 L1063.4 1547.5 Z" fill="url(#g3cec)" stroke="#ff0000" stroke-width="3" stroke-linejoin="round"/>
<clipPath id="clip3cn"><path d="M1063.4 1547.5 L1064.9 1547.5 L1066.4 1547.5 L1067.9 1547.5 L1069.4 1547.5 L1070.9 1547.5 L1072.4 1547.5 L1073.9 1547.5 L1075.4 1547.5 L1076.9 1547.5 L1078.4 1547.5 L1079.9 1547.5 L1081.4 1547.5 L1082.9 1547.5 L1084.4 1547.5 L1085.9 1547.5 L1087.4 1547.5 L1088.9 1547.5 L1090.4 1547.5 L1091.9 1547.5 L1093.4 1547.5 L1094.9 1547.5 L1096.4 1547.5 L1097.9 1547.5 L1099.4 1547.5 L1100.9 1547.5 L1102.4 1547.5 L1103.9 1547.5 L1105.4 1547.5 L1106.9 1547.5 L1108.4 1547.5 L1109.9 1547.5 L1111.4 1547.5 L1112.9 1547.5 L1114.4 1547.5 L1115.9 1547.5 L1117.4 1547.5 L1118.9 1547.5 L1120.4 1547.5 L1121.9 1547.5 L1123.4 1547.5 L1124.9 1547.5 L1126.4 1547.5 L1127.9 1547.5 L1129.4 1547.5 L1130.9 1547.5 L1132.4 1547.5 L1133.9 1547.5 L1135.4 1547.5 L1136.9 1547.5 L1138.4 1547.5 L1139.9 1547.5 L1141.4 1547.5 L1142.9 1547.5 L1144.4 1547.5 L1145.9 1547.5 L1147.4 1547.5 L1148.9 1547.5 L1150.4 1547.5 L1151.9 1547.5 L1153.4 1547.5 L1154.9 1547.5 L1156.4 1547.5 L1157.9 1547.5 L1159.4 1547.5 L1160.9 1547.5 L1162.4 1547.5 L1163.9 1547.5 L1165.4 1547.5 L1166.9 1547.5 L1168.4 1547.5 L1169.9 1547.5 L1171.4 1547.5 L1172.9 1547.5 L1174.4 1547.5 L1175.9 1547.5 L1177.4 1547.5 L1178.9 1547.5 L1180.4 1547.5 L1181.9 1547.5 L1183.4 1547.5 L1184.9 1547.5 L1186.4 1547.5 L1187.9 1547.5 L1189.4 1547.5 L1190.9 1547.5 L1192.4 1547.5 L1193.9 1547.5 L1195.4 1547.5 L1196.9 1547.5 L1198.4 1547.5 L1199.9 1547.5 L1201.4 1547.5 L1202.9 1547.5 L1204.4 1547.5 L1205.9 1547.5 L1207.4 1547.5 L1208.9 1547.5 L1210.4 1547.5 L1211.9 1547.5 L1213.4 1547.5 L1214.9 1547.5 L1216.4 1547.5 L1217.9 1547.5 L1219.4 1547.5 L1220.9 1547.5 L1222.4 1547.5 L1223.9 1547.5 L1225.4 1547.5 L1226.9 1547.5 L1228.4 1547.5 L1229.9 1547.5 L1231.4 1547.5 L1232.9 1547.5 L1234.4 1547.5 L1235.9 1547.5 L1237.4 1547.5 L1238.9 1547.5 L1240.4 1547.5 L1241.9 1547.5 L1243.4 1547.5 L1244.9 1547.5 L1246.4 1547.5 L1247.9 1547.5 L1249.4 1547.5 L1250.9 1547.5 L1252.4 1547.5 L1253.9 1547.5 L1255.4 1547.5 L1256.9 1547.5 L1258.4 1547.5 L1259.9 1547.5 L1261.4 1547.5 L1262.9 1547.5 L1264.4 1547.5 L1265.9 1547.5 L1267.4 1547.5 L1268.9 1547.5 L1270.4 1547.5 L1271.9 1547.5 L1273.4 1547.5 L1274.9 1547.5 L1276.4 1547.5 L1277.9 1547.5 L1279.4 1547.5 L1280.9 1547.5 L1282.4 1547.5 L1283.9 1547.5 L1285.4 1547.5 L1286.9 1547.5 L1288.4 1547.5 L1289.9 1547.5 L1291.4 1547.5 L1292.9 1547.5 L1294.4 1547.5 L1295.9 1547.5 L1297.4 1547.5 L1298.9 1547.5 L1300.4 1547.5 L1301.9 1547.5 L1303.4 1547.5 L1304.9 1547.5 L1306.4 1547.5 L1307.9 1547.5 L1309.4 1547.5 L1310.9 1547.5 L1312.4 1547.5 L1313.9 1547.5 L1315.4 1547.5 L1316.9 1547.5 L1318.4 1547.5 L1319.9 1547.5 L1321.4 1547.5 L1322.9 1547.5 L1324.4 1547.5 L1325.9 1547.5 L1327.4 1547.5 L1328.9 1547.5 L1330.4 1547.5 L1331.9 1547.5 L1333.4 1547.5 L1334.9 1547.5 L1336.4 1547.5 L1337.9 1547.5 L1339.4 1547.5 L1340.9 1547.5 L1342.4 1547.5 L1343.9 1547.5 L1345.4 1547.5 L1346.9 1547.5 L1348.4 1547.5 L1349.9 1547.5 L1351.4 1547.5 L1352.9 1547.5 L1354.4 1547.5 L1355.9 1547.5 L1357.4 1547.5 L1358.9 1547.5 L1360.4 1547.5 L1361.9 1547.5 L1363.4 1547.5 L1364.9 1547.5 L1366.4 1547.5 L1367.9 1547.5 L1369.4 1547.5 L1370.9 1547.5 L1372.4 1547.5 L1373.9 1547.5 L1375.4 1547.5 L1376.9 1547.5 L1378.4 1547.5 L1379.9 1547.5 L1381.4 1547.5 L1382.9 1547.5 L1384.4 1547.5 L1385.9 1547.5 L1387.4 1547.5 L1388.9 1547.5 L1390.4 1547.5 L1391.9 1547.5 L1393.4 1547.5 L1394.9 1547.5 L1396.4 1547.5 L1397.9 1547.5 L1399.4 1547.5 L1400.9 1547.5 L1402.4 1547.5 L1403.9 1547.5 L1405.4 1547.5 L1406.9 1547.5 L1408.4 1547.5 L1409.9 1547.5 L1411.4 1547.5 L1412.9 1547.5 L1414.4 1547.5 L1415.9 1547.5 L1417.4 1547.5 L1418.9 1547.5 L1420.4 1547.5 L1421.9 1547.5 L1423.4 1547.5 L1424.9 1547.5 L1426.4 1547.5 L1427.9 1547.5 L1429.4 1547.5 L1430.9 1547.5 L1432.4 1547.4 L1433.9 1547.4 L1435.4 1547.4 L1436.9 1547.4 L1438.4 1547.4 L1439.9 1547.4 L1441.4 1547.4 L1442.9 1547.3 L1444.4 1547.3 L1445.9 1547.3 L1447.4 1547.3 L1448.9 1547.2 L1450.4 1547.2 L1451.9 1547.1 L1453.4 1547.1 L1454.9 1547 L1456.4 1546.9 L1457.9 1546.9 L1459.4 1546.8 L1460.9 1546.7 L1462.4 1546.5 L1463.9 1546.4 L1465.4 1546.3 L1466.9 1546.1 L1468.4 1545.9 L1469.9 1545.7 L1471.4 1545.5 L1472.9 1545.2 L1474.4 1544.9 L1475.9 1544.6 L1477.4 1544.2 L1478.9 1543.8 L1480.4 1543.3 L1481.9 1542.8 L1483.4 1542.3 L1484.9 1541.7 L1486.4 1541 L1487.9 1540.2 L1489.4 1539.4 L1490.9 1538.5 L1492.4 1537.5 L1493.9 1536.4 L1495.4 1535.2 L1496.9 1533.9 L1498.4 1532.5 L1499.9 1531 L1501.4 1529.3 L1502.9 1527.5 L1504.4 1525.5 L1505.9 1523.4 L1507.4 1521 L1508.9 1518.6 L1510.4 1515.9 L1511.9 1513 L1513.4 1509.9 L1514.9 1506.6 L1516.4 1503 L1517.9 1499.2 L1519.4 1495.2 L1520.9 1490.8 L1522.4 1486.3 L1523.9 1481.4 L1525.4 1476.2 L1526.9 1470.7 L1528.4 1465 L1529.9 1458.9 L1531.4 1452.4 L1532.9 1445.7 L1534.4 1438.6 L1535.9 1431.2 L1537.4 1423.4 L1538.9 1415.3 L1540.4 1406.9 L1541.9 1398.1 L1543.4 1389 L1544.9 1379.6 L1546.4 1369.8 L1547.9 1359.7 L1549.4 1349.3 L1550.9 1338.7 L1552.4 1327.7 L1553.9 1316.5 L1555.4 1305 L1556.9 1293.3 L1558.4 1281.3 L1559.9 1269.2 L1561.4 1257 L1562.9 1244.6 L1564.4 1232.1 L1565.9 1219.5 L1567.4 1206.8 L1568.9 1194.2 L1570.4 1181.6 L1571.9 1169 L1573.4 1156.5 L1574.9 1144.2 L1576.4 1132 L1577.9 1120 L1579.4 1108.3 L1580.9 1096.8 L1582.4 1085.7 L1583.9 1074.9 L1585.4 1064.5 L1586.9 1054.6 L1588.4 1045.1 L1589.9 1036.1 L1591.4 1027.7 L1592.9 1019.8 L1594.4 1012.5 L1595.9 1005.9 L1597.4 999.9 L1598.9 994.5 L1600.4 989.9 L1601.9 986 L1603.4 982.8 L1604.9 980.3 L1606.4 978.6 L1607.9 977.7 L1609.4 977.5 L1610.9 978.1 L1612.4 979.5 L1613.9 981.6 L1615.4 984.4 L1616.9 988 L1618.4 992.3 L1619.9 997.3 L1621.4 1003 L1622.9 1009.3 L1624.4 1016.3 L1625.9 1023.9 L1627.4 1032.1 L1628.9 1040.8 L1630.4 1050.1 L1631.9 1059.8 L1633.4 1070 L1634.9 1080.6 L1636.4 1091.6 L1637.9 1102.9 L1639.4 1114.5 L1640.9 1126.4 L1642.4 1138.5 L1643.9 1150.7 L1645.4 1163.2 L1646.9 1175.7 L1648.4 1188.3 L1649.9 1200.9 L1651.4 1213.6 L1652.9 1226.2 L1654.4 1238.7 L1655.9 1251.2 L1657.4 1263.5 L1658.9 1275.7 L1660.4 1287.7 L1661.9 1299.5 L1663.4 1311.1 L1664.9 1322.5 L1666.4 1333.6 L1667.9 1344.4 L1669.4 1354.9 L1670.9 1365.1 L1672.4 1375.1 L1673.9 1384.7 L1675.4 1393.9 L1676.9 1402.9 L1678.4 1411.4 L1679.9 1419.7 L1681.4 1427.6 L1682.9 1435.2 L1684.4 1442.4 L1685.9 1449.3 L1687.4 1455.9 L1688.9 1462.1 L1690.4 1468.1 L1691.9 1473.7 L1693.4 1479 L1694.9 1484 L1696.4 1488.7 L1697.9 1493.2 L1699.4 1497.4 L1700.9 1501.3 L1702.4 1504.9 L1703.9 1508.4 L1705.4 1511.6 L1706.9 1514.6 L1708.4 1517.3 L1709.9 1519.9 L1711.4 1522.3 L1712.9 1524.5 L1714.4 1526.6 L1715.9 1528.5 L1717.4 1530.2 L1718.9 1531.8 L1720.4 1533.3 L1721.9 1534.6 L1723.4 1535.9 L1724.9 1537 L1726.4 1538 L1727.9 1539 L1729.4 1539.9 L1730.9 1540.6 L1732.4 1541.4 L1733.9 1542 L1735.4 1542.6 L1736.9 1543.1 L1738.4 1543.6 L1739.9 1544 L1741.4 1544.4 L1742.9 1544.7 L1744.4 1545.1 L1745.9 1545.3 L1747.4 1545.6 L1748.9 1545.8 L1750.4 1546 L1751.9 1546.2 L1753.4 1546.3 L1754.9 1546.5 L1756.4 1546.6 L1757.9 1546.7 L1759.4 1546.8 L1760.9 1546.9 L1762.4 1547 L1763.9 1547 L1765.4 1547.1 L1766.9 1547.2 L1768.4 1547.2 L1769.9 1547.2 L1771.4 1547.3 L1772.9 1547.3 L1774.4 1547.3 L1775.9 1547.4 L1777.4 1547.4 L1778.9 1547.4 L1780.4 1547.4 L1781.9 1547.4 L1783.4 1547.4 L1784.9 1547.4 L1786.4 1547.5 L1787.9 1547.5 L1789.4 1547.5 L1790.9 1547.5 L1792.4 1547.5 L1793.9 1547.5 L1795.4 1547.5 L1796.9 1547.5 L1798.4 1547.5 L1799.9 1547.5 L1801.4 1547.5 L1802.9 1547.5 L1804.4 1547.5 L1805.9 1547.5 L1807.4 1547.5 L1808.9 1547.5 L1810.4 1547.5 L1811.9 1547.5 L1813.4 1547.5 L1814.9 1547.5 L1816.4 1547.5 L1817.9 1547.5 L1819.4 1547.5 L1820.9 1547.5 L1822.4 1547.5 L1823.9 1547.5 L1825.4 1547.5 L1826.9 1547.5 L1828.4 1547.5 L1829.9 1547.5 L1831.4 1547.5 L1832.9 1547.5 L1834.4 1547.5 L1835.9 1547.5 L1837.4 1547.5 L1838.9 1547.5 L1840.4 1547.5 L1841.9 1547.5 L1843.4 1547.5 L1844.9 1547.5 L1846.4 1547.5 L1847.9 1547.5 L1849.4 1547.5 L1850.9 1547.5 L1852.4 1547.5 L1853.9 1547.5 L1855.4 1547.5 L1856.9 1547.5 L1858.4 1547.5 L1859.9 1547.5 L1861.4 1547.5 L1862.9 1547.5 L1864.4 1547.5 L1865.9 1547.5 L1867.4 1547.5 L1868.9 1547.5 L1870.4 1547.5 L1871.9 1547.5 L1873.4 1547.5 L1874.9 1547.5 L1876.4 1547.5 L1877.9 1547.5 L1879.4 1547.5 L1880.9 1547.5 L1882.4 1547.5 L1883.9 1547.5 L1885.4 1547.5 L1886.9 1547.5 L1888.4 1547.5 L1889.9 1547.5 L1891.4 1547.5 L1892.9 1547.5 L1894.4 1547.5 L1895.9 1547.5 L1897.4 1547.5 L1898.9 1547.5 L1900.4 1547.5 L1901.9 1547.5 L1903.4 1547.5 L1904.9 1547.5 L1906.4 1547.5 L1907.9 1547.5 L1909.4 1547.5 L1910.9 1547.5 L1912.4 1547.5 L1913.9 1547.5 L1915.4 1547.5 L1916.9 1547.5 L1918.4 1547.5 L1919.9 1547.5 L1921.4 1547.5 L1922.9 1547.5 L1924.4 1547.5 L1925.9 1547.5 L1927.4 1547.5 L1928.9 1547.5 L1930.4 1547.5 L1931.9 1547.5 L1933.4 1547.5 L1934.9 1547.5 L1936.4 1547.5 L1937.9 1547.5 L1939.4 1547.5 L1940.9 1547.5 L1942.4 1547.5 L1943.9 1547.5 L1945.4 1547.5 L1946.9 1547.5 L1948.4 1547.5 L1949.9 1547.5 L1951.4 1547.5 L1952.9 1547.5 L1954.4 1547.5 L1955.9 1547.5 L1957.4 1547.5 L1958.9 1547.5 L1960.4 1547.5 L1961.9 1547.5 L1963.4 1547.5 L1964.9 1547.5 L1966.4 1547.5 L1967.9 1547.5 L1968.5 1547.5 L1968.5 1547.5 L1063.4 1547.5 Z"/></clipPath>
<path d="M1063.4 1547.5 L1064.9 1547.5 L1066.4 1547.5 L1067.9 1547.5 L1069.4 1547.5 L1070.9 1547.5 L1072.4 1547.5 L1073.9 1547.5 L1075.4 1547.5 L1076.9 1547.5 L1078.4 1547.5 L1079.9 1547.5 L1081.4 1547.5 L1082.9 1547.5 L1084.4 1547.5 L1085.9 1547.5 L1087.4 1547.5 L1088.9 1547.5 L1090.4 1547.5 L1091.9 1547.5 L1093.4 1547.5 L1094.9 1547.5 L1096.4 1547.5 L1097.9 1547.5 L1099.4 1547.5 L1100.9 1547.5 L1102.4 1547.5 L1103.9 1547.5 L1105.4 1547.5 L1106.9 1547.5 L1108.4 1547.5 L1109.9 1547.5 L1111.4 1547.5 L1112.9 1547.5 L1114.4 1547.5 L1115.9 1547.5 L1117.4 1547.5 L1118.9 1547.5 L1120.4 1547.5 L1121.9 1547.5 L1123.4 1547.5 L1124.9 1547.5 L1126.4 1547.5 L1127.9 1547.5 L1129.4 1547.5 L1130.9 1547.5 L1132.4 1547.5 L1133.9 1547.5 L1135.4 1547.5 L1136.9 1547.5 L1138.4 1547.5 L1139.9 1547.5 L1141.4 1547.5 L1142.9 1547.5 L1144.4 1547.5 L1145.9 1547.5 L1147.4 1547.5 L1148.9 1547.5 L1150.4 1547.5 L1151.9 1547.5 L1153.4 1547.5 L1154.9 1547.5 L1156.4 1547.5 L1157.9 1547.5 L1159.4 1547.5 L1160.9 1547.5 L1162.4 1547.5 L1163.9 1547.5 L1165.4 1547.5 L1166.9 1547.5 L1168.4 1547.5 L1169.9 1547.5 L1171.4 1547.5 L1172.9 1547.5 L1174.4 1547.5 L1175.9 1547.5 L1177.4 1547.5 L1178.9 1547.5 L1180.4 1547.5 L1181.9 1547.5 L1183.4 1547.5 L1184.9 1547.5 L1186.4 1547.5 L1187.9 1547.5 L1189.4 1547.5 L1190.9 1547.5 L1192.4 1547.5 L1193.9 1547.5 L1195.4 1547.5 L1196.9 1547.5 L1198.4 1547.5 L1199.9 1547.5 L1201.4 1547.5 L1202.9 1547.5 L1204.4 1547.5 L1205.9 1547.5 L1207.4 1547.5 L1208.9 1547.5 L1210.4 1547.5 L1211.9 1547.5 L1213.4 1547.5 L1214.9 1547.5 L1216.4 1547.5 L1217.9 1547.5 L1219.4 1547.5 L1220.9 1547.5 L1222.4 1547.5 L1223.9 1547.5 L1225.4 1547.5 L1226.9 1547.5 L1228.4 1547.5 L1229.9 1547.5 L1231.4 1547.5 L1232.9 1547.5 L1234.4 1547.5 L1235.9 1547.5 L1237.4 1547.5 L1238.9 1547.5 L1240.4 1547.5 L1241.9 1547.5 L1243.4 1547.5 L1244.9 1547.5 L1246.4 1547.5 L1247.9 1547.5 L1249.4 1547.5 L1250.9 1547.5 L1252.4 1547.5 L1253.9 1547.5 L1255.4 1547.5 L1256.9 1547.5 L1258.4 1547.5 L1259.9 1547.5 L1261.4 1547.5 L1262.9 1547.5 L1264.4 1547.5 L1265.9 1547.5 L1267.4 1547.5 L1268.9 1547.5 L1270.4 1547.5 L1271.9 1547.5 L1273.4 1547.5 L1274.9 1547.5 L1276.4 1547.5 L1277.9 1547.5 L1279.4 1547.5 L1280.9 1547.5 L1282.4 1547.5 L1283.9 1547.5 L1285.4 1547.5 L1286.9 1547.5 L1288.4 1547.5 L1289.9 1547.5 L1291.4 1547.5 L1292.9 1547.5 L1294.4 1547.5 L1295.9 1547.5 L1297.4 1547.5 L1298.9 1547.5 L1300.4 1547.5 L1301.9 1547.5 L1303.4 1547.5 L1304.9 1547.5 L1306.4 1547.5 L1307.9 1547.5 L1309.4 1547.5 L1310.9 1547.5 L1312.4 1547.5 L1313.9 1547.5 L1315.4 1547.5 L1316.9 1547.5 L1318.4 1547.5 L1319.9 1547.5 L1321.4 1547.5 L1322.9 1547.5 L1324.4 1547.5 L1325.9 1547.5 L1327.4 1547.5 L1328.9 1547.5 L1330.4 1547.5 L1331.9 1547.5 L1333.4 1547.5 L1334.9 1547.5 L1336.4 1547.5 L1337.9 1547.5 L1339.4 1547.5 L1340.9 1547.5 L1342.4 1547.5 L1343.9 1547.5 L1345.4 1547.5 L1346.9 1547.5 L1348.4 1547.5 L1349.9 1547.5 L1351.4 1547.5 L1352.9 1547.5 L1354.4 1547.5 L1355.9 1547.5 L1357.4 1547.5 L1358.9 1547.5 L1360.4 1547.5 L1361.9 1547.5 L1363.4 1547.5 L1364.9 1547.5 L1366.4 1547.5 L1367.9 1547.5 L1369.4 1547.5 L1370.9 1547.5 L1372.4 1547.5 L1373.9 1547.5 L1375.4 1547.5 L1376.9 1547.5 L1378.4 1547.5 L1379.9 1547.5 L1381.4 1547.5 L1382.9 1547.5 L1384.4 1547.5 L1385.9 1547.5 L1387.4 1547.5 L1388.9 1547.5 L1390.4 1547.5 L1391.9 1547.5 L1393.4 1547.5 L1394.9 1547.5 L1396.4 1547.5 L1397.9 1547.5 L1399.4 1547.5 L1400.9 1547.5 L1402.4 1547.5 L1403.9 1547.5 L1405.4 1547.5 L1406.9 1547.5 L1408.4 1547.5 L1409.9 1547.5 L1411.4 1547.5 L1412.9 1547.5 L1414.4 1547.5 L1415.9 1547.5 L1417.4 1547.5 L1418.9 1547.5 L1420.4 1547.5 L1421.9 1547.5 L1423.4 1547.5 L1424.9 1547.5 L1426.4 1547.5 L1427.9 1547.5 L1429.4 1547.5 L1430.9 1547.5 L1432.4 1547.4 L1433.9 1547.4 L1435.4 1547.4 L1436.9 1547.4 L1438.4 1547.4 L1439.9 1547.4 L1441.4 1547.4 L1442.9 1547.3 L1444.4 1547.3 L1445.9 1547.3 L1447.4 1547.3 L1448.9 1547.2 L1450.4 1547.2 L1451.9 1547.1 L1453.4 1547.1 L1454.9 1547 L1456.4 1546.9 L1457.9 1546.9 L1459.4 1546.8 L1460.9 1546.7 L1462.4 1546.5 L1463.9 1546.4 L1465.4 1546.3 L1466.9 1546.1 L1468.4 1545.9 L1469.9 1545.7 L1471.4 1545.5 L1472.9 1545.2 L1474.4 1544.9 L1475.9 1544.6 L1477.4 1544.2 L1478.9 1543.8 L1480.4 1543.3 L1481.9 1542.8 L1483.4 1542.3 L1484.9 1541.7 L1486.4 1541 L1487.9 1540.2 L1489.4 1539.4 L1490.9 1538.5 L1492.4 1537.5 L1493.9 1536.4 L1495.4 1535.2 L1496.9 1533.9 L1498.4 1532.5 L1499.9 1531 L1501.4 1529.3 L1502.9 1527.5 L1504.4 1525.5 L1505.9 1523.4 L1507.4 1521 L1508.9 1518.6 L1510.4 1515.9 L1511.9 1513 L1513.4 1509.9 L1514.9 1506.6 L1516.4 1503 L1517.9 1499.2 L1519.4 1495.2 L1520.9 1490.8 L1522.4 1486.3 L1523.9 1481.4 L1525.4 1476.2 L1526.9 1470.7 L1528.4 1465 L1529.9 1458.9 L1531.4 1452.4 L1532.9 1445.7 L1534.4 1438.6 L1535.9 1431.2 L1537.4 1423.4 L1538.9 1415.3 L1540.4 1406.9 L1541.9 1398.1 L1543.4 1389 L1544.9 1379.6 L1546.4 1369.8 L1547.9 1359.7 L1549.4 1349.3 L1550.9 1338.7 L1552.4 1327.7 L1553.9 1316.5 L1555.4 1305 L1556.9 1293.3 L1558.4 1281.3 L1559.9 1269.2 L1561.4 1257 L1562.9 1244.6 L1564.4 1232.1 L1565.9 1219.5 L1567.4 1206.8 L1568.9 1194.2 L1570.4 1181.6 L1571.9 1169 L1573.4 1156.5 L1574.9 1144.2 L1576.4 1132 L1577.9 1120 L1579.4 1108.3 L1580.9 1096.8 L1582.4 1085.7 L1583.9 1074.9 L1585.4 1064.5 L1586.9 1054.6 L1588.4 1045.1 L1589.9 1036.1 L1591.4 1027.7 L1592.9 1019.8 L1594.4 1012.5 L1595.9 1005.9 L1597.4 999.9 L1598.9 994.5 L1600.4 989.9 L1601.9 986 L1603.4 982.8 L1604.9 980.3 L1606.4 978.6 L1607.9 977.7 L1609.4 977.5 L1610.9 978.1 L1612.4 979.5 L1613.9 981.6 L1615.4 984.4 L1616.9 988 L1618.4 992.3 L1619.9 997.3 L1621.4 1003 L1622.9 1009.3 L1624.4 1016.3 L1625.9 1023.9 L1627.4 1032.1 L1628.9 1040.8 L1630.4 1050.1 L1631.9 1059.8 L1633.4 1070 L1634.9 1080.6 L1636.4 1091.6 L1637.9 1102.9 L1639.4 1114.5 L1640.9 1126.4 L1642.4 1138.5 L1643.9 1150.7 L1645.4 1163.2 L1646.9 1175.7 L1648.4 1188.3 L1649.9 1200.9 L1651.4 1213.6 L1652.9 1226.2 L1654.4 1238.7 L1655.9 1251.2 L1657.4 1263.5 L1658.9 1275.7 L1660.4 1287.7 L1661.9 1299.5 L1663.4 1311.1 L1664.9 1322.5 L1666.4 1333.6 L1667.9 1344.4 L1669.4 1354.9 L1670.9 1365.1 L1672.4 1375.1 L1673.9 1384.7 L1675.4 1393.9 L1676.9 1402.9 L1678.4 1411.4 L1679.9 1419.7 L1681.4 1427.6 L1682.9 1435.2 L1684.4 1442.4 L1685.9 1449.3 L1687.4 1455.9 L1688.9 1462.1 L1690.4 1468.1 L1691.9 1473.7 L1693.4 1479 L1694.9 1484 L1696.4 1488.7 L1697.9 1493.2 L1699.4 1497.4 L1700.9 1501.3 L1702.4 1504.9 L1703.9 1508.4 L1705.4 1511.6 L1706.9 1514.6 L1708.4 1517.3 L1709.9 1519.9 L1711.4 1522.3 L1712.9 1524.5 L1714.4 1526.6 L1715.9 1528.5 L1717.4 1530.2 L1718.9 1531.8 L1720.4 1533.3 L1721.9 1534.6 L1723.4 1535.9 L1724.9 1537 L1726.4 1538 L1727.9 1539 L1729.4 1539.9 L1730.9 1540.6 L1732.4 1541.4 L1733.9 1542 L1735.4 1542.6 L1736.9 1543.1 L1738.4 1543.6 L1739.9 1544 L1741.4 1544.4 L1742.9 1544.7 L1744.4 1545.1 L1745.9 1545.3 L1747.4 1545.6 L1748.9 1545.8 L1750.4 1546 L1751.9 1546.2 L1753.4 1546.3 L1754.9 1546.5 L1756.4 1546.6 L1757.9 1546.7 L1759.4 1546.8 L1760.9 1546.9 L1762.4 1547 L1763.9 1547 L1765.4 1547.1 L1766.9 1547.2 L1768.4 1547.2 L1769.9 1547.2 L1771.4 1547.3 L1772.9 1547.3 L1774.4 1547.3 L1775.9 1547.4 L1777.4 1547.4 L1778.9 1547.4 L1780.4 1547.4 L1781.9 1547.4 L1783.4 1547.4 L1784.9 1547.4 L1786.4 1547.5 L1787.9 1547.5 L1789.4 1547.5 L1790.9 1547.5 L1792.4 1547.5 L1793.9 1547.5 L1795.4 1547.5 L1796.9 1547.5 L1798.4 1547.5 L1799.9 1547.5 L1801.4 1547.5 L1802.9 1547.5 L1804.4 1547.5 L1805.9 1547.5 L1807.4 1547.5 L1808.9 1547.5 L1810.4 1547.5 L1811.9 1547.5 L1813.4 1547.5 L1814.9 1547.5 L1816.4 1547.5 L1817.9 1547.5 L1819.4 1547.5 L1820.9 1547.5 L1822.4 1547.5 L1823.9 1547.5 L1825.4 1547.5 L1826.9 1547.5 L1828.4 1547.5 L1829.9 1547.5 L1831.4 1547.5 L1832.9 1547.5 L1834.4 1547.5 L1835.9 1547.5 L1837.4 1547.5 L1838.9 1547.5 L1840.4 1547.5 L1841.9 1547.5 L1843.4 1547.5 L1844.9 1547.5 L1846.4 1547.5 L1847.9 1547.5 L1849.4 1547.5 L1850.9 1547.5 L1852.4 1547.5 L1853.9 1547.5 L1855.4 1547.5 L1856.9 1547.5 L1858.4 1547.5 L1859.9 1547.5 L1861.4 1547.5 L1862.9 1547.5 L1864.4 1547.5 L1865.9 1547.5 L1867.4 1547.5 L1868.9 1547.5 L1870.4 1547.5 L1871.9 1547.5 L1873.4 1547.5 L1874.9 1547.5 L1876.4 1547.5 L1877.9 1547.5 L1879.4 1547.5 L1880.9 1547.5 L1882.4 1547.5 L1883.9 1547.5 L1885.4 1547.5 L1886.9 1547.5 L1888.4 1547.5 L1889.9 1547.5 L1891.4 1547.5 L1892.9 1547.5 L1894.4 1547.5 L1895.9 1547.5 L1897.4 1547.5 L1898.9 1547.5 L1900.4 1547.5 L1901.9 1547.5 L1903.4 1547.5 L1904.9 1547.5 L1906.4 1547.5 L1907.9 1547.5 L1909.4 1547.5 L1910.9 1547.5 L1912.4 1547.5 L1913.9 1547.5 L1915.4 1547.5 L1916.9 1547.5 L1918.4 1547.5 L1919.9 1547.5 L1921.4 1547.5 L1922.9 1547.5 L1924.4 1547.5 L1925.9 1547.5 L1927.4 1547.5 L1928.9 1547.5 L1930.4 1547.5 L1931.9 1547.5 L1933.4 1547.5 L1934.9 1547.5 L1936.4 1547.5 L1937.9 1547.5 L1939.4 1547.5 L1940.9 1547.5 L1942.4 1547.5 L1943.9 1547.5 L1945.4 1547.5 L1946.9 1547.5 L1948.4 1547.5 L1949.9 1547.5 L1951.4 1547.5 L1952.9 1547.5 L1954.4 1547.5 L1955.9 1547.5 L1957.4 1547.5 L1958.9 1547.5 L1960.4 1547.5 L1961.9 1547.5 L1963.4 1547.5 L1964.9 1547.5 L1966.4 1547.5 L1967.9 1547.5 L1968.5 1547.5 L1968.5 1547.5 L1063.4 1547.5 Z" fill="#fff" stroke="none"/>
<path d="M1063.4 1547.5 L1064.9 1547.5 L1066.4 1547.5 L1067.9 1547.5 L1069.4 1547.5 L1070.9 1547.5 L1072.4 1547.5 L1073.9 1547.5 L1075.4 1547.5 L1076.9 1547.5 L1078.4 1547.5 L1079.9 1547.5 L1081.4 1547.5 L1082.9 1547.5 L1084.4 1547.5 L1085.9 1547.5 L1087.4 1547.5 L1088.9 1547.5 L1090.4 1547.5 L1091.9 1547.5 L1093.4 1547.5 L1094.9 1547.5 L1096.4 1547.5 L1097.9 1547.5 L1099.4 1547.5 L1100.9 1547.5 L1102.4 1547.5 L1103.9 1547.5 L1105.4 1547.5 L1106.9 1547.5 L1108.4 1547.5 L1109.9 1547.5 L1111.4 1547.5 L1112.9 1547.5 L1114.4 1547.5 L1115.9 1547.5 L1117.4 1547.5 L1118.9 1547.5 L1120.4 1547.5 L1121.9 1547.5 L1123.4 1547.5 L1124.9 1547.5 L1126.4 1547.5 L1127.9 1547.5 L1129.4 1547.5 L1130.9 1547.5 L1132.4 1547.5 L1133.9 1547.5 L1135.4 1547.5 L1136.9 1547.5 L1138.4 1547.5 L1139.9 1547.5 L1141.4 1547.5 L1142.9 1547.5 L1144.4 1547.5 L1145.9 1547.5 L1147.4 1547.5 L1148.9 1547.5 L1150.4 1547.5 L1151.9 1547.5 L1153.4 1547.5 L1154.9 1547.5 L1156.4 1547.5 L1157.9 1547.5 L1159.4 1547.5 L1160.9 1547.5 L1162.4 1547.5 L1163.9 1547.5 L1165.4 1547.5 L1166.9 1547.5 L1168.4 1547.5 L1169.9 1547.5 L1171.4 1547.5 L1172.9 1547.5 L1174.4 1547.5 L1175.9 1547.5 L1177.4 1547.5 L1178.9 1547.5 L1180.4 1547.5 L1181.9 1547.5 L1183.4 1547.5 L1184.9 1547.5 L1186.4 1547.5 L1187.9 1547.5 L1189.4 1547.5 L1190.9 1547.5 L1192.4 1547.5 L1193.9 1547.5 L1195.4 1547.5 L1196.9 1547.5 L1198.4 1547.5 L1199.9 1547.5 L1201.4 1547.5 L1202.9 1547.5 L1204.4 1547.5 L1205.9 1547.5 L1207.4 1547.5 L1208.9 1547.5 L1210.4 1547.5 L1211.9 1547.5 L1213.4 1547.5 L1214.9 1547.5 L1216.4 1547.5 L1217.9 1547.5 L1219.4 1547.5 L1220.9 1547.5 L1222.4 1547.5 L1223.9 1547.5 L1225.4 1547.5 L1226.9 1547.5 L1228.4 1547.5 L1229.9 1547.5 L1231.4 1547.5 L1232.9 1547.5 L1234.4 1547.5 L1235.9 1547.5 L1237.4 1547.5 L1238.9 1547.5 L1240.4 1547.5 L1241.9 1547.5 L1243.4 1547.5 L1244.9 1547.5 L1246.4 1547.5 L1247.9 1547.5 L1249.4 1547.5 L1250.9 1547.5 L1252.4 1547.5 L1253.9 1547.5 L1255.4 1547.5 L1256.9 1547.5 L1258.4 1547.5 L1259.9 1547.5 L1261.4 1547.5 L1262.9 1547.5 L1264.4 1547.5 L1265.9 1547.5 L1267.4 1547.5 L1268.9 1547.5 L1270.4 1547.5 L1271.9 1547.5 L1273.4 1547.5 L1274.9 1547.5 L1276.4 1547.5 L1277.9 1547.5 L1279.4 1547.5 L1280.9 1547.5 L1282.4 1547.5 L1283.9 1547.5 L1285.4 1547.5 L1286.9 1547.5 L1288.4 1547.5 L1289.9 1547.5 L1291.4 1547.5 L1292.9 1547.5 L1294.4 1547.5 L1295.9 1547.5 L1297.4 1547.5 L1298.9 1547.5 L1300.4 1547.5 L1301.9 1547.5 L1303.4 1547.5 L1304.9 1547.5 L1306.4 1547.5 L1307.9 1547.5 L1309.4 1547.5 L1310.9 1547.5 L1312.4 1547.5 L1313.9 1547.5 L1315.4 1547.5 L1316.9 1547.5 L1318.4 1547.5 L1319.9 1547.5 L1321.4 1547.5 L1322.9 1547.5 L1324.4 1547.5 L1325.9 1547.5 L1327.4 1547.5 L1328.9 1547.5 L1330.4 1547.5 L1331.9 1547.5 L1333.4 1547.5 L1334.9 1547.5 L1336.4 1547.5 L1337.9 1547.5 L1339.4 1547.5 L1340.9 1547.5 L1342.4 1547.5 L1343.9 1547.5 L1345.4 1547.5 L1346.9 1547.5 L1348.4 1547.5 L1349.9 1547.5 L1351.4 1547.5 L1352.9 1547.5 L1354.4 1547.5 L1355.9 1547.5 L1357.4 1547.5 L1358.9 1547.5 L1360.4 1547.5 L1361.9 1547.5 L1363.4 1547.5 L1364.9 1547.5 L1366.4 1547.5 L1367.9 1547.5 L1369.4 1547.5 L1370.9 1547.5 L1372.4 1547.5 L1373.9 1547.5 L1375.4 1547.5 L1376.9 1547.5 L1378.4 1547.5 L1379.9 1547.5 L1381.4 1547.5 L1382.9 1547.5 L1384.4 1547.5 L1385.9 1547.5 L1387.4 1547.5 L1388.9 1547.5 L1390.4 1547.5 L1391.9 1547.5 L1393.4 1547.5 L1394.9 1547.5 L1396.4 1547.5 L1397.9 1547.5 L1399.4 1547.5 L1400.9 1547.5 L1402.4 1547.5 L1403.9 1547.5 L1405.4 1547.5 L1406.9 1547.5 L1408.4 1547.5 L1409.9 1547.5 L1411.4 1547.5 L1412.9 1547.5 L1414.4 1547.5 L1415.9 1547.5 L1417.4 1547.5 L1418.9 1547.5 L1420.4 1547.5 L1421.9 1547.5 L1423.4 1547.5 L1424.9 1547.5 L1426.4 1547.5 L1427.9 1547.5 L1429.4 1547.5 L1430.9 1547.5 L1432.4 1547.4 L1433.9 1547.4 L1435.4 1547.4 L1436.9 1547.4 L1438.4 1547.4 L1439.9 1547.4 L1441.4 1547.4 L1442.9 1547.3 L1444.4 1547.3 L1445.9 1547.3 L1447.4 1547.3 L1448.9 1547.2 L1450.4 1547.2 L1451.9 1547.1 L1453.4 1547.1 L1454.9 1547 L1456.4 1546.9 L1457.9 1546.9 L1459.4 1546.8 L1460.9 1546.7 L1462.4 1546.5 L1463.9 1546.4 L1465.4 1546.3 L1466.9 1546.1 L1468.4 1545.9 L1469.9 1545.7 L1471.4 1545.5 L1472.9 1545.2 L1474.4 1544.9 L1475.9 1544.6 L1477.4 1544.2 L1478.9 1543.8 L1480.4 1543.3 L1481.9 1542.8 L1483.4 1542.3 L1484.9 1541.7 L1486.4 1541 L1487.9 1540.2 L1489.4 1539.4 L1490.9 1538.5 L1492.4 1537.5 L1493.9 1536.4 L1495.4 1535.2 L1496.9 1533.9 L1498.4 1532.5 L1499.9 1531 L1501.4 1529.3 L1502.9 1527.5 L1504.4 1525.5 L1505.9 1523.4 L1507.4 1521 L1508.9 1518.6 L1510.4 1515.9 L1511.9 1513 L1513.4 1509.9 L1514.9 1506.6 L1516.4 1503 L1517.9 1499.2 L1519.4 1495.2 L1520.9 1490.8 L1522.4 1486.3 L1523.9 1481.4 L1525.4 1476.2 L1526.9 1470.7 L1528.4 1465 L1529.9 1458.9 L1531.4 1452.4 L1532.9 1445.7 L1534.4 1438.6 L1535.9 1431.2 L1537.4 1423.4 L1538.9 1415.3 L1540.4 1406.9 L1541.9 1398.1 L1543.4 1389 L1544.9 1379.6 L1546.4 1369.8 L1547.9 1359.7 L1549.4 1349.3 L1550.9 1338.7 L1552.4 1327.7 L1553.9 1316.5 L1555.4 1305 L1556.9 1293.3 L1558.4 1281.3 L1559.9 1269.2 L1561.4 1257 L1562.9 1244.6 L1564.4 1232.1 L1565.9 1219.5 L1567.4 1206.8 L1568.9 1194.2 L1570.4 1181.6 L1571.9 1169 L1573.4 1156.5 L1574.9 1144.2 L1576.4 1132 L1577.9 1120 L1579.4 1108.3 L1580.9 1096.8 L1582.4 1085.7 L1583.9 1074.9 L1585.4 1064.5 L1586.9 1054.6 L1588.4 1045.1 L1589.9 1036.1 L1591.4 1027.7 L1592.9 1019.8 L1594.4 1012.5 L1595.9 1005.9 L1597.4 999.9 L1598.9 994.5 L1600.4 989.9 L1601.9 986 L1603.4 982.8 L1604.9 980.3 L1606.4 978.6 L1607.9 977.7 L1609.4 977.5 L1610.9 978.1 L1612.4 979.5 L1613.9 981.6 L1615.4 984.4 L1616.9 988 L1618.4 992.3 L1619.9 997.3 L1621.4 1003 L1622.9 1009.3 L1624.4 1016.3 L1625.9 1023.9 L1627.4 1032.1 L1628.9 1040.8 L1630.4 1050.1 L1631.9 1059.8 L1633.4 1070 L1634.9 1080.6 L1636.4 1091.6 L1637.9 1102.9 L1639.4 1114.5 L1640.9 1126.4 L1642.4 1138.5 L1643.9 1150.7 L1645.4 1163.2 L1646.9 1175.7 L1648.4 1188.3 L1649.9 1200.9 L1651.4 1213.6 L1652.9 1226.2 L1654.4 1238.7 L1655.9 1251.2 L1657.4 1263.5 L1658.9 1275.7 L1660.4 1287.7 L1661.9 1299.5 L1663.4 1311.1 L1664.9 1322.5 L1666.4 1333.6 L1667.9 1344.4 L1669.4 1354.9 L1670.9 1365.1 L1672.4 1375.1 L1673.9 1384.7 L1675.4 1393.9 L1676.9 1402.9 L1678.4 1411.4 L1679.9 1419.7 L1681.4 1427.6 L1682.9 1435.2 L1684.4 1442.4 L1685.9 1449.3 L1687.4 1455.9 L1688.9 1462.1 L1690.4 1468.1 L1691.9 1473.7 L1693.4 1479 L1694.9 1484 L1696.4 1488.7 L1697.9 1493.2 L1699.4 1497.4 L1700.9 1501.3 L1702.4 1504.9 L1703.9 1508.4 L1705.4 1511.6 L1706.9 1514.6 L1708.4 1517.3 L1709.9 1519.9 L1711.4 1522.3 L1712.9 1524.5 L1714.4 1526.6 L1715.9 1528.5 L1717.4 1530.2 L1718.9 1531.8 L1720.4 1533.3 L1721.9 1534.6 L1723.4 1535.9 L1724.9 1537 L1726.4 1538 L1727.9 1539 L1729.4 1539.9 L1730.9 1540.6 L1732.4 1541.4 L1733.9 1542 L1735.4 1542.6 L1736.9 1543.1 L1738.4 1543.6 L1739.9 1544 L1741.4 1544.4 L1742.9 1544.7 L1744.4 1545.1 L1745.9 1545.3 L1747.4 1545.6 L1748.9 1545.8 L1750.4 1546 L1751.9 1546.2 L1753.4 1546.3 L1754.9 1546.5 L1756.4 1546.6 L1757.9 1546.7 L1759.4 1546.8 L1760.9 1546.9 L1762.4 1547 L1763.9 1547 L1765.4 1547.1 L1766.9 1547.2 L1768.4 1547.2 L1769.9 1547.2 L1771.4 1547.3 L1772.9 1547.3 L1774.4 1547.3 L1775.9 1547.4 L1777.4 1547.4 L1778.9 1547.4 L1780.4 1547.4 L1781.9 1547.4 L1783.4 1547.4 L1784.9 1547.4 L1786.4 1547.5 L1787.9 1547.5 L1789.4 1547.5 L1790.9 1547.5 L1792.4 1547.5 L1793.9 1547.5 L1795.4 1547.5 L1796.9 1547.5 L1798.4 1547.5 L1799.9 1547.5 L1801.4 1547.5 L1802.9 1547.5 L1804.4 1547.5 L1805.9 1547.5 L1807.4 1547.5 L1808.9 1547.5 L1810.4 1547.5 L1811.9 1547.5 L1813.4 1547.5 L1814.9 1547.5 L1816.4 1547.5 L1817.9 1547.5 L1819.4 1547.5 L1820.9 1547.5 L1822.4 1547.5 L1823.9 1547.5 L1825.4 1547.5 L1826.9 1547.5 L1828.4 1547.5 L1829.9 1547.5 L1831.4 1547.5 L1832.9 1547.5 L1834.4 1547.5 L1835.9 1547.5 L1837.4 1547.5 L1838.9 1547.5 L1840.4 1547.5 L1841.9 1547.5 L1843.4 1547.5 L1844.9 1547.5 L1846.4 1547.5 L1847.9 1547.5 L1849.4 1547.5 L1850.9 1547.5 L1852.4 1547.5 L1853.9 1547.5 L1855.4 1547.5 L1856.9 1547.5 L1858.4 1547.5 L1859.9 1547.5 L1861.4 1547.5 L1862.9 1547.5 L1864.4 1547.5 L1865.9 1547.5 L1867.4 1547.5 L1868.9 1547.5 L1870.4 1547.5 L1871.9 1547.5 L1873.4 1547.5 L1874.9 1547.5 L1876.4 1547.5 L1877.9 1547.5 L1879.4 1547.5 L1880.9 1547.5 L1882.4 1547.5 L1883.9 1547.5 L1885.4 1547.5 L1886.9 1547.5 L1888.4 1547.5 L1889.9 1547.5 L1891.4 1547.5 L1892.9 1547.5 L1894.4 1547.5 L1895.9 1547.5 L1897.4 1547.5 L1898.9 1547.5 L1900.4 1547.5 L1901.9 1547.5 L1903.4 1547.5 L1904.9 1547.5 L1906.4 1547.5 L1907.9 1547.5 L1909.4 1547.5 L1910.9 1547.5 L1912.4 1547.5 L1913.9 1547.5 L1915.4 1547.5 L1916.9 1547.5 L1918.4 1547.5 L1919.9 1547.5 L1921.4 1547.5 L1922.9 1547.5 L1924.4 1547.5 L1925.9 1547.5 L1927.4 1547.5 L1928.9 1547.5 L1930.4 1547.5 L1931.9 1547.5 L1933.4 1547.5 L1934.9 1547.5 L1936.4 1547.5 L1937.9 1547.5 L1939.4 1547.5 L1940.9 1547.5 L1942.4 1547.5 L1943.9 1547.5 L1945.4 1547.5 L1946.9 1547.5 L1948.4 1547.5 L1949.9 1547.5 L1951.4 1547.5 L1952.9 1547.5 L1954.4 1547.5 L1955.9 1547.5 L1957.4 1547.5 L1958.9 1547.5 L1960.4 1547.5 L1961.9 1547.5 L1963.4 1547.5 L1964.9 1547.5 L1966.4 1547.5 L1967.9 1547.5 L1968.5 1547.5 L1968.5 1547.5 L1063.4 1547.5 Z" fill="url(#g3cn)" stroke="none"/>
<g clip-path="url(#clip3cn)">
<path d="M1063.4 1547.5 L1064.9 1547.5 L1066.4 1547.5 L1067.9 1547.5 L1069.4 1547.5 L1070.9 1547.5 L1072.4 1547.5 L1073.9 1547.5 L1075.4 1547.5 L1076.9 1547.5 L1078.4 1547.5 L1079.9 1547.5 L1081.4 1547.5 L1082.9 1547.5 L1084.4 1547.5 L1085.9 1547.5 L1087.4 1547.5 L1088.9 1547.5 L1090.4 1547.5 L1091.9 1547.5 L1093.4 1547.5 L1094.9 1547.5 L1096.4 1547.5 L1097.9 1547.5 L1099.4 1547.5 L1100.9 1547.5 L1102.4 1547.5 L1103.9 1547.5 L1105.4 1547.5 L1106.9 1547.5 L1108.4 1547.5 L1109.9 1547.5 L1111.4 1547.5 L1112.9 1547.5 L1114.4 1547.5 L1115.9 1547.5 L1117.4 1547.5 L1118.9 1547.5 L1120.4 1547.5 L1121.9 1547.5 L1123.4 1547.5 L1124.9 1547.5 L1126.4 1547.5 L1127.9 1547.5 L1129.4 1547.5 L1130.9 1547.5 L1132.4 1547.5 L1133.9 1547.5 L1135.4 1547.5 L1136.9 1547.5 L1138.4 1547.5 L1139.9 1547.5 L1141.4 1547.5 L1142.9 1547.5 L1144.4 1547.5 L1145.9 1547.5 L1147.4 1547.5 L1148.9 1547.5 L1150.4 1547.5 L1151.9 1547.5 L1153.4 1547.5 L1154.9 1547.5 L1156.4 1547.5 L1157.9 1547.5 L1159.4 1547.5 L1160.9 1547.5 L1162.4 1547.5 L1163.9 1547.5 L1165.4 1547.5 L1166.9 1547.5 L1168.4 1547.5 L1169.9 1547.5 L1171.4 1547.5 L1172.9 1547.5 L1174.4 1547.5 L1175.9 1547.5 L1177.4 1547.5 L1178.9 1547.5 L1180.4 1547.5 L1181.9 1547.5 L1183.4 1547.5 L1184.9 1547.5 L1186.4 1547.5 L1187.9 1547.5 L1189.4 1547.5 L1190.9 1547.5 L1192.4 1547.5 L1193.9 1547.5 L1195.4 1547.5 L1196.9 1547.5 L1198.4 1547.5 L1199.9 1547.5 L1201.4 1547.5 L1202.9 1547.5 L1204.4 1547.5 L1205.9 1547.5 L1207.4 1547.5 L1208.9 1547.5 L1210.4 1547.5 L1211.9 1547.5 L1213.4 1547.5 L1214.9 1547.5 L1216.4 1547.5 L1217.9 1547.5 L1219.4 1547.5 L1220.9 1547.5 L1222.4 1547.5 L1223.9 1547.5 L1225.4 1547.5 L1226.9 1547.5 L1228.4 1547.5 L1229.9 1547.5 L1231.4 1547.5 L1232.9 1547.5 L1234.4 1547.5 L1235.9 1547.5 L1237.4 1547.5 L1238.9 1547.5 L1240.4 1547.5 L1241.9 1547.5 L1243.4 1547.5 L1244.9 1547.5 L1246.4 1547.5 L1247.9 1547.5 L1249.4 1547.5 L1250.9 1547.5 L1252.4 1547.5 L1253.9 1547.5 L1255.4 1547.5 L1256.9 1547.5 L1258.4 1547.5 L1259.9 1547.5 L1261.4 1547.5 L1262.9 1547.5 L1264.4 1547.5 L1265.9 1547.5 L1267.4 1547.5 L1268.9 1547.5 L1270.4 1547.5 L1271.9 1547.5 L1273.4 1547.5 L1274.9 1547.5 L1276.4 1547.5 L1277.9 1547.5 L1279.4 1547.5 L1280.9 1547.5 L1282.4 1547.5 L1283.9 1547.5 L1285.4 1547.5 L1286.9 1547.5 L1288.4 1547.5 L1289.9 1547.5 L1291.4 1547.5 L1292.9 1547.5 L1294.4 1547.5 L1295.9 1547.5 L1297.4 1547.5 L1298.9 1547.5 L1300.4 1547.5 L1301.9 1547.5 L1303.4 1547.5 L1304.9 1547.5 L1306.4 1547.5 L1307.9 1547.5 L1309.4 1547.5 L1310.9 1547.5 L1312.4 1547.5 L1313.9 1547.5 L1315.4 1547.5 L1316.9 1547.5 L1318.4 1547.5 L1319.9 1547.5 L1321.4 1547.5 L1322.9 1547.5 L1324.4 1547.5 L1325.9 1547.5 L1327.4 1547.5 L1328.9 1547.5 L1330.4 1547.5 L1331.9 1547.5 L1333.4 1547.5 L1334.9 1547.5 L1336.4 1547.5 L1337.9 1547.5 L1339.4 1547.5 L1340.9 1547.5 L1342.4 1547.5 L1343.9 1547.5 L1345.4 1547.5 L1346.9 1547.5 L1348.4 1547.5 L1349.9 1547.5 L1351.4 1547.5 L1352.9 1547.5 L1354.4 1547.5 L1355.9 1547.5 L1357.4 1547.5 L1358.9 1547.5 L1360.4 1547.5 L1361.9 1547.5 L1363.4 1547.5 L1364.9 1547.5 L1366.4 1547.5 L1367.9 1547.5 L1369.4 1547.5 L1370.9 1547.5 L1372.4 1547.5 L1373.9 1547.5 L1375.4 1547.5 L1376.9 1547.5 L1378.4 1547.5 L1379.9 1547.5 L1381.4 1547.5 L1382.9 1547.5 L1384.4 1547.5 L1385.9 1547.5 L1387.4 1547.5 L1388.9 1547.5 L1390.4 1547.5 L1391.9 1547.5 L1393.4 1547.5 L1394.9 1547.5 L1396.4 1547.5 L1397.9 1547.5 L1399.4 1547.5 L1400.9 1547.5 L1402.4 1547.5 L1403.9 1547.5 L1405.4 1547.5 L1406.9 1547.5 L1408.4 1547.5 L1409.9 1547.5 L1411.4 1547.5 L1412.9 1547.5 L1414.4 1547.5 L1415.9 1547.5 L1417.4 1547.5 L1418.9 1547.5 L1420.4 1547.5 L1421.9 1547.5 L1423.4 1547.5 L1424.9 1547.5 L1426.4 1547.5 L1427.9 1547.5 L1429.4 1547.5 L1430.9 1547.5 L1432.4 1547.5 L1433.9 1547.5 L1435.4 1547.5 L1436.9 1547.5 L1438.4 1547.5 L1439.9 1547.5 L1441.4 1547.5 L1442.9 1547.5 L1444.4 1547.5 L1445.9 1547.5 L1447.4 1547.5 L1448.9 1547.5 L1450.4 1547.5 L1451.9 1547.5 L1453.4 1547.5 L1454.9 1547.5 L1456.4 1547.5 L1457.9 1547.5 L1459.4 1547.5 L1460.9 1547.5 L1462.4 1547.5 L1463.9 1547.5 L1465.4 1547.5 L1466.9 1547.5 L1468.4 1547.5 L1469.9 1547.5 L1471.4 1547.5 L1472.9 1547.5 L1474.4 1547.5 L1475.9 1547.5 L1477.4 1547.5 L1478.9 1547.5 L1480.4 1547.5 L1481.9 1547.5 L1483.4 1547.5 L1484.9 1547.5 L1486.4 1547.5 L1487.9 1547.5 L1489.4 1547.5 L1490.9 1547.5 L1492.4 1547.5 L1493.9 1547.5 L1495.4 1547.5 L1496.9 1547.5 L1498.4 1547.5 L1499.9 1547.5 L1501.4 1547.5 L1502.9 1547.5 L1504.4 1547.5 L1505.9 1547.5 L1507.4 1547.5 L1508.9 1547.4 L1510.4 1547.4 L1511.9 1547.4 L1513.4 1547.4 L1514.9 1547.4 L1516.4 1547.4 L1517.9 1547.3 L1519.4 1547.3 L1520.9 1547.3 L1522.4 1547.2 L1523.9 1547.2 L1525.4 1547.1 L1526.9 1547 L1528.4 1546.9 L1529.9 1546.8 L1531.4 1546.7 L1532.9 1546.6 L1534.4 1546.4 L1535.9 1546.2 L1537.4 1546 L1538.9 1545.8 L1540.4 1545.5 L1541.9 1545.2 L1543.4 1544.9 L1544.9 1544.5 L1546.4 1544.1 L1547.9 1543.6 L1549.4 1543 L1550.9 1542.4 L1552.4 1541.7 L1553.9 1540.9 L1555.4 1540 L1556.9 1539 L1558.4 1537.9 L1559.9 1536.7 L1561.4 1535.4 L1562.9 1533.9 L1564.4 1532.3 L1565.9 1530.6 L1567.4 1528.6 L1568.9 1526.5 L1570.4 1524.2 L1571.9 1521.8 L1573.4 1519.1 L1574.9 1516.2 L1576.4 1513 L1577.9 1509.7 L1579.4 1506.1 L1580.9 1502.3 L1582.4 1498.2 L1583.9 1493.8 L1585.4 1489.2 L1586.9 1484.3 L1588.4 1479.2 L1589.9 1473.8 L1591.4 1468.2 L1592.9 1462.3 L1594.4 1456.2 L1595.9 1449.8 L1597.4 1443.2 L1598.9 1436.4 L1600.4 1429.4 L1601.9 1422.3 L1603.4 1415 L1604.9 1407.5 L1606.4 1400 L1607.9 1392.4 L1609.4 1384.7 L1610.9 1377 L1612.4 1369.4 L1613.9 1361.8 L1615.4 1354.2 L1616.9 1346.8 L1618.4 1339.6 L1619.9 1332.6 L1621.4 1325.8 L1622.9 1319.2 L1624.4 1313 L1625.9 1307.1 L1627.4 1301.6 L1628.9 1296.5 L1630.4 1291.9 L1631.9 1287.7 L1633.4 1284 L1634.9 1280.8 L1636.4 1278.1 L1637.9 1276.1 L1639.4 1274.5 L1640.9 1273.6 L1642.4 1273.2 L1643.9 1273.4 L1645.4 1274.2 L1646.9 1275.6 L1648.4 1277.5 L1649.9 1280 L1651.4 1283.1 L1652.9 1286.6 L1654.4 1290.7 L1655.9 1295.2 L1657.4 1300.2 L1658.9 1305.6 L1660.4 1311.4 L1661.9 1317.5 L1663.4 1324 L1664.9 1330.7 L1666.4 1337.7 L1667.9 1344.9 L1669.4 1352.3 L1670.9 1359.8 L1672.4 1367.3 L1673.9 1375 L1675.4 1382.7 L1676.9 1390.3 L1678.4 1398 L1679.9 1405.5 L1681.4 1413 L1682.9 1420.3 L1684.4 1427.5 L1685.9 1434.6 L1687.4 1441.4 L1688.9 1448.1 L1690.4 1454.5 L1691.9 1460.7 L1693.4 1466.6 L1694.9 1472.4 L1696.4 1477.8 L1697.9 1483 L1699.4 1487.9 L1700.9 1492.6 L1702.4 1497 L1703.9 1501.2 L1705.4 1505.1 L1706.9 1508.8 L1708.4 1512.2 L1709.9 1515.4 L1711.4 1518.3 L1712.9 1521.1 L1714.4 1523.6 L1715.9 1525.9 L1717.4 1528.1 L1718.9 1530.1 L1720.4 1531.9 L1721.9 1533.5 L1723.4 1535 L1724.9 1536.4 L1726.4 1537.6 L1727.9 1538.7 L1729.4 1539.7 L1730.9 1540.7 L1732.4 1541.5 L1733.9 1542.2 L1735.4 1542.8 L1736.9 1543.4 L1738.4 1543.9 L1739.9 1544.4 L1741.4 1544.8 L1742.9 1545.2 L1744.4 1545.5 L1745.9 1545.7 L1747.4 1546 L1748.9 1546.2 L1750.4 1546.4 L1751.9 1546.5 L1753.4 1546.7 L1754.9 1546.8 L1756.4 1546.9 L1757.9 1547 L1759.4 1547.1 L1760.9 1547.1 L1762.4 1547.2 L1763.9 1547.2 L1765.4 1547.3 L1766.9 1547.3 L1768.4 1547.3 L1769.9 1547.4 L1771.4 1547.4 L1772.9 1547.4 L1774.4 1547.4 L1775.9 1547.4 L1777.4 1547.4 L1778.9 1547.5 L1780.4 1547.5 L1781.9 1547.5 L1783.4 1547.5 L1784.9 1547.5 L1786.4 1547.5 L1787.9 1547.5 L1789.4 1547.5 L1790.9 1547.5 L1792.4 1547.5 L1793.9 1547.5 L1795.4 1547.5 L1796.9 1547.5 L1798.4 1547.5 L1799.9 1547.5 L1801.4 1547.5 L1802.9 1547.5 L1804.4 1547.5 L1805.9 1547.5 L1807.4 1547.5 L1808.9 1547.5 L1810.4 1547.5 L1811.9 1547.5 L1813.4 1547.5 L1814.9 1547.5 L1816.4 1547.5 L1817.9 1547.5 L1819.4 1547.5 L1820.9 1547.5 L1822.4 1547.5 L1823.9 1547.5 L1825.4 1547.5 L1826.9 1547.5 L1828.4 1547.5 L1829.9 1547.5 L1831.4 1547.5 L1832.9 1547.5 L1834.4 1547.5 L1835.9 1547.5 L1837.4 1547.5 L1838.9 1547.5 L1840.4 1547.5 L1841.9 1547.5 L1843.4 1547.5 L1844.9 1547.5 L1846.4 1547.5 L1847.9 1547.5 L1849.4 1547.5 L1850.9 1547.5 L1852.4 1547.5 L1853.9 1547.5 L1855.4 1547.5 L1856.9 1547.5 L1858.4 1547.5 L1859.9 1547.5 L1861.4 1547.5 L1862.9 1547.5 L1864.4 1547.5 L1865.9 1547.5 L1867.4 1547.5 L1868.9 1547.5 L1870.4 1547.5 L1871.9 1547.5 L1873.4 1547.5 L1874.9 1547.5 L1876.4 1547.5 L1877.9 1547.5 L1879.4 1547.5 L1880.9 1547.5 L1882.4 1547.5 L1883.9 1547.5 L1885.4 1547.5 L1886.9 1547.5 L1888.4 1547.5 L1889.9 1547.5 L1891.4 1547.5 L1892.9 1547.5 L1894.4 1547.5 L1895.9 1547.5 L1897.4 1547.5 L1898.9 1547.5 L1900.4 1547.5 L1901.9 1547.5 L1903.4 1547.5 L1904.9 1547.5 L1906.4 1547.5 L1907.9 1547.5 L1909.4 1547.5 L1910.9 1547.5 L1912.4 1547.5 L1913.9 1547.5 L1915.4 1547.5 L1916.9 1547.5 L1918.4 1547.5 L1919.9 1547.5 L1921.4 1547.5 L1922.9 1547.5 L1924.4 1547.5 L1925.9 1547.5 L1927.4 1547.5 L1928.9 1547.5 L1930.4 1547.5 L1931.9 1547.5 L1933.4 1547.5 L1934.9 1547.5 L1936.4 1547.5 L1937.9 1547.5 L1939.4 1547.5 L1940.9 1547.5 L1942.4 1547.5 L1943.9 1547.5 L1945.4 1547.5 L1946.9 1547.5 L1948.4 1547.5 L1949.9 1547.5 L1951.4 1547.5 L1952.9 1547.5 L1954.4 1547.5 L1955.9 1547.5 L1957.4 1547.5 L1958.9 1547.5 L1960.4 1547.5 L1961.9 1547.5 L1963.4 1547.5 L1964.9 1547.5 L1966.4 1547.5 L1967.9 1547.5 L1968.5 1547.5 L1968.5 1547.5 L1063.4 1547.5 Z" fill="url(#g3cc)" stroke="none"/>
<path d="M1063.4 1547.5 L1064.9 1547.5 L1066.4 1547.5 L1067.9 1547.5 L1069.4 1547.5 L1070.9 1547.5 L1072.4 1547.5 L1073.9 1547.5 L1075.4 1547.5 L1076.9 1547.5 L1078.4 1547.5 L1079.9 1547.5 L1081.4 1547.5 L1082.9 1547.5 L1084.4 1547.5 L1085.9 1547.5 L1087.4 1547.5 L1088.9 1547.5 L1090.4 1547.5 L1091.9 1547.5 L1093.4 1547.5 L1094.9 1547.5 L1096.4 1547.5 L1097.9 1547.5 L1099.4 1547.5 L1100.9 1547.5 L1102.4 1547.5 L1103.9 1547.5 L1105.4 1547.5 L1106.9 1547.5 L1108.4 1547.5 L1109.9 1547.5 L1111.4 1547.5 L1112.9 1547.5 L1114.4 1547.5 L1115.9 1547.5 L1117.4 1547.5 L1118.9 1547.5 L1120.4 1547.5 L1121.9 1547.5 L1123.4 1547.5 L1124.9 1547.5 L1126.4 1547.5 L1127.9 1547.5 L1129.4 1547.5 L1130.9 1547.5 L1132.4 1547.5 L1133.9 1547.5 L1135.4 1547.5 L1136.9 1547.5 L1138.4 1547.5 L1139.9 1547.5 L1141.4 1547.5 L1142.9 1547.5 L1144.4 1547.5 L1145.9 1547.5 L1147.4 1547.5 L1148.9 1547.5 L1150.4 1547.5 L1151.9 1547.5 L1153.4 1547.5 L1154.9 1547.5 L1156.4 1547.5 L1157.9 1547.5 L1159.4 1547.5 L1160.9 1547.5 L1162.4 1547.5 L1163.9 1547.5 L1165.4 1547.5 L1166.9 1547.5 L1168.4 1547.5 L1169.9 1547.5 L1171.4 1547.5 L1172.9 1547.5 L1174.4 1547.5 L1175.9 1547.5 L1177.4 1547.5 L1178.9 1547.5 L1180.4 1547.5 L1181.9 1547.5 L1183.4 1547.5 L1184.9 1547.5 L1186.4 1547.5 L1187.9 1547.5 L1189.4 1547.5 L1190.9 1547.5 L1192.4 1547.5 L1193.9 1547.5 L1195.4 1547.5 L1196.9 1547.5 L1198.4 1547.5 L1199.9 1547.5 L1201.4 1547.5 L1202.9 1547.5 L1204.4 1547.5 L1205.9 1547.5 L1207.4 1547.5 L1208.9 1547.5 L1210.4 1547.5 L1211.9 1547.5 L1213.4 1547.5 L1214.9 1547.5 L1216.4 1547.5 L1217.9 1547.5 L1219.4 1547.5 L1220.9 1547.5 L1222.4 1547.5 L1223.9 1547.5 L1225.4 1547.5 L1226.9 1547.5 L1228.4 1547.5 L1229.9 1547.5 L1231.4 1547.5 L1232.9 1547.5 L1234.4 1547.5 L1235.9 1547.5 L1237.4 1547.5 L1238.9 1547.5 L1240.4 1547.5 L1241.9 1547.5 L1243.4 1547.5 L1244.9 1547.5 L1246.4 1547.5 L1247.9 1547.5 L1249.4 1547.5 L1250.9 1547.5 L1252.4 1547.5 L1253.9 1547.5 L1255.4 1547.5 L1256.9 1547.5 L1258.4 1547.5 L1259.9 1547.5 L1261.4 1547.5 L1262.9 1547.5 L1264.4 1547.5 L1265.9 1547.5 L1267.4 1547.5 L1268.9 1547.5 L1270.4 1547.5 L1271.9 1547.5 L1273.4 1547.5 L1274.9 1547.5 L1276.4 1547.5 L1277.9 1547.5 L1279.4 1547.5 L1280.9 1547.5 L1282.4 1547.5 L1283.9 1547.5 L1285.4 1547.5 L1286.9 1547.5 L1288.4 1547.5 L1289.9 1547.5 L1291.4 1547.5 L1292.9 1547.5 L1294.4 1547.5 L1295.9 1547.5 L1297.4 1547.5 L1298.9 1547.5 L1300.4 1547.5 L1301.9 1547.5 L1303.4 1547.5 L1304.9 1547.5 L1306.4 1547.5 L1307.9 1547.5 L1309.4 1547.5 L1310.9 1547.5 L1312.4 1547.5 L1313.9 1547.5 L1315.4 1547.5 L1316.9 1547.5 L1318.4 1547.5 L1319.9 1547.5 L1321.4 1547.5 L1322.9 1547.5 L1324.4 1547.5 L1325.9 1547.5 L1327.4 1547.5 L1328.9 1547.5 L1330.4 1547.5 L1331.9 1547.5 L1333.4 1547.5 L1334.9 1547.5 L1336.4 1547.5 L1337.9 1547.5 L1339.4 1547.5 L1340.9 1547.5 L1342.4 1547.5 L1343.9 1547.5 L1345.4 1547.5 L1346.9 1547.5 L1348.4 1547.5 L1349.9 1547.5 L1351.4 1547.5 L1352.9 1547.5 L1354.4 1547.5 L1355.9 1547.5 L1357.4 1547.5 L1358.9 1547.5 L1360.4 1547.5 L1361.9 1547.5 L1363.4 1547.5 L1364.9 1547.5 L1366.4 1547.5 L1367.9 1547.5 L1369.4 1547.5 L1370.9 1547.5 L1372.4 1547.5 L1373.9 1547.5 L1375.4 1547.5 L1376.9 1547.5 L1378.4 1547.5 L1379.9 1547.5 L1381.4 1547.5 L1382.9 1547.5 L1384.4 1547.5 L1385.9 1547.5 L1387.4 1547.5 L1388.9 1547.5 L1390.4 1547.5 L1391.9 1547.5 L1393.4 1547.5 L1394.9 1547.5 L1396.4 1547.5 L1397.9 1547.5 L1399.4 1547.5 L1400.9 1547.5 L1402.4 1547.5 L1403.9 1547.5 L1405.4 1547.5 L1406.9 1547.5 L1408.4 1547.5 L1409.9 1547.5 L1411.4 1547.5 L1412.9 1547.5 L1414.4 1547.5 L1415.9 1547.5 L1417.4 1547.5 L1418.9 1547.5 L1420.4 1547.5 L1421.9 1547.5 L1423.4 1547.5 L1424.9 1547.5 L1426.4 1547.5 L1427.9 1547.5 L1429.4 1547.5 L1430.9 1547.5 L1432.4 1547.5 L1433.9 1547.5 L1435.4 1547.5 L1436.9 1547.5 L1438.4 1547.5 L1439.9 1547.5 L1441.4 1547.5 L1442.9 1547.5 L1444.4 1547.5 L1445.9 1547.5 L1447.4 1547.5 L1448.9 1547.5 L1450.4 1547.5 L1451.9 1547.5 L1453.4 1547.5 L1454.9 1547.5 L1456.4 1547.5 L1457.9 1547.5 L1459.4 1547.5 L1460.9 1547.5 L1462.4 1547.5 L1463.9 1547.5 L1465.4 1547.5 L1466.9 1547.5 L1468.4 1547.5 L1469.9 1547.5 L1471.4 1547.5 L1472.9 1547.5 L1474.4 1547.5 L1475.9 1547.5 L1477.4 1547.5 L1478.9 1547.5 L1480.4 1547.5 L1481.9 1547.5 L1483.4 1547.5 L1484.9 1547.5 L1486.4 1547.5 L1487.9 1547.5 L1489.4 1547.5 L1490.9 1547.5 L1492.4 1547.5 L1493.9 1547.5 L1495.4 1547.5 L1496.9 1547.5 L1498.4 1547.5 L1499.9 1547.5 L1501.4 1547.5 L1502.9 1547.5 L1504.4 1547.5 L1505.9 1547.5 L1507.4 1547.5 L1508.9 1547.4 L1510.4 1547.4 L1511.9 1547.4 L1513.4 1547.4 L1514.9 1547.4 L1516.4 1547.4 L1517.9 1547.3 L1519.4 1547.3 L1520.9 1547.3 L1522.4 1547.2 L1523.9 1547.2 L1525.4 1547.1 L1526.9 1547 L1528.4 1546.9 L1529.9 1546.8 L1531.4 1546.7 L1532.9 1546.6 L1534.4 1546.4 L1535.9 1546.2 L1537.4 1546 L1538.9 1545.8 L1540.4 1545.5 L1541.9 1545.2 L1543.4 1544.9 L1544.9 1544.5 L1546.4 1544.1 L1547.9 1543.6 L1549.4 1543 L1550.9 1542.4 L1552.4 1541.7 L1553.9 1540.9 L1555.4 1540 L1556.9 1539 L1558.4 1537.9 L1559.9 1536.7 L1561.4 1535.4 L1562.9 1533.9 L1564.4 1532.3 L1565.9 1530.6 L1567.4 1528.6 L1568.9 1526.5 L1570.4 1524.2 L1571.9 1521.8 L1573.4 1519.1 L1574.9 1516.2 L1576.4 1513 L1577.9 1509.7 L1579.4 1506.1 L1580.9 1502.3 L1582.4 1498.2 L1583.9 1493.8 L1585.4 1489.2 L1586.9 1484.3 L1588.4 1479.2 L1589.9 1473.8 L1591.4 1468.2 L1592.9 1462.3 L1594.4 1456.2 L1595.9 1449.8 L1597.4 1443.2 L1598.9 1436.4 L1600.4 1429.4 L1601.9 1422.3 L1603.4 1415 L1604.9 1407.5 L1606.4 1400 L1607.9 1392.4 L1609.4 1384.7 L1610.9 1377 L1612.4 1369.4 L1613.9 1361.8 L1615.4 1354.2 L1616.9 1346.8 L1618.4 1339.6 L1619.9 1332.6 L1621.4 1325.8 L1622.9 1319.2 L1624.4 1313 L1625.9 1307.1 L1627.4 1301.6 L1628.9 1296.5 L1630.4 1291.9 L1631.9 1287.7 L1633.4 1284 L1634.9 1280.8 L1636.4 1278.1 L1637.9 1276.1 L1639.4 1274.5 L1640.9 1273.6 L1642.4 1273.2 L1643.9 1273.4 L1645.4 1274.2 L1646.9 1275.6 L1648.4 1277.5 L1649.9 1280 L1651.4 1283.1 L1652.9 1286.6 L1654.4 1290.7 L1655.9 1295.2 L1657.4 1300.2 L1658.9 1305.6 L1660.4 1311.4 L1661.9 1317.5 L1663.4 1324 L1664.9 1330.7 L1666.4 1337.7 L1667.9 1344.9 L1669.4 1352.3 L1670.9 1359.8 L1672.4 1367.3 L1673.9 1375 L1675.4 1382.7 L1676.9 1390.3 L1678.4 1398 L1679.9 1405.5 L1681.4 1413 L1682.9 1420.3 L1684.4 1427.5 L1685.9 1434.6 L1687.4 1441.4 L1688.9 1448.1 L1690.4 1454.5 L1691.9 1460.7 L1693.4 1466.6 L1694.9 1472.4 L1696.4 1477.8 L1697.9 1483 L1699.4 1487.9 L1700.9 1492.6 L1702.4 1497 L1703.9 1501.2 L1705.4 1505.1 L1706.9 1508.8 L1708.4 1512.2 L1709.9 1515.4 L1711.4 1518.3 L1712.9 1521.1 L1714.4 1523.6 L1715.9 1525.9 L1717.4 1528.1 L1718.9 1530.1 L1720.4 1531.9 L1721.9 1533.5 L1723.4 1535 L1724.9 1536.4 L1726.4 1537.6 L1727.9 1538.7 L1729.4 1539.7 L1730.9 1540.7 L1732.4 1541.5 L1733.9 1542.2 L1735.4 1542.8 L1736.9 1543.4 L1738.4 1543.9 L1739.9 1544.4 L1741.4 1544.8 L1742.9 1545.2 L1744.4 1545.5 L1745.9 1545.7 L1747.4 1546 L1748.9 1546.2 L1750.4 1546.4 L1751.9 1546.5 L1753.4 1546.7 L1754.9 1546.8 L1756.4 1546.9 L1757.9 1547 L1759.4 1547.1 L1760.9 1547.1 L1762.4 1547.2 L1763.9 1547.2 L1765.4 1547.3 L1766.9 1547.3 L1768.4 1547.3 L1769.9 1547.4 L1771.4 1547.4 L1772.9 1547.4 L1774.4 1547.4 L1775.9 1547.4 L1777.4 1547.4 L1778.9 1547.5 L1780.4 1547.5 L1781.9 1547.5 L1783.4 1547.5 L1784.9 1547.5 L1786.4 1547.5 L1787.9 1547.5 L1789.4 1547.5 L1790.9 1547.5 L1792.4 1547.5 L1793.9 1547.5 L1795.4 1547.5 L1796.9 1547.5 L1798.4 1547.5 L1799.9 1547.5 L1801.4 1547.5 L1802.9 1547.5 L1804.4 1547.5 L1805.9 1547.5 L1807.4 1547.5 L1808.9 1547.5 L1810.4 1547.5 L1811.9 1547.5 L1813.4 1547.5 L1814.9 1547.5 L1816.4 1547.5 L1817.9 1547.5 L1819.4 1547.5 L1820.9 1547.5 L1822.4 1547.5 L1823.9 1547.5 L1825.4 1547.5 L1826.9 1547.5 L1828.4 1547.5 L1829.9 1547.5 L1831.4 1547.5 L1832.9 1547.5 L1834.4 1547.5 L1835.9 1547.5 L1837.4 1547.5 L1838.9 1547.5 L1840.4 1547.5 L1841.9 1547.5 L1843.4 1547.5 L1844.9 1547.5 L1846.4 1547.5 L1847.9 1547.5 L1849.4 1547.5 L1850.9 1547.5 L1852.4 1547.5 L1853.9 1547.5 L1855.4 1547.5 L1856.9 1547.5 L1858.4 1547.5 L1859.9 1547.5 L1861.4 1547.5 L1862.9 1547.5 L1864.4 1547.5 L1865.9 1547.5 L1867.4 1547.5 L1868.9 1547.5 L1870.4 1547.5 L1871.9 1547.5 L1873.4 1547.5 L1874.9 1547.5 L1876.4 1547.5 L1877.9 1547.5 L1879.4 1547.5 L1880.9 1547.5 L1882.4 1547.5 L1883.9 1547.5 L1885.4 1547.5 L1886.9 1547.5 L1888.4 1547.5 L1889.9 1547.5 L1891.4 1547.5 L1892.9 1547.5 L1894.4 1547.5 L1895.9 1547.5 L1897.4 1547.5 L1898.9 1547.5 L1900.4 1547.5 L1901.9 1547.5 L1903.4 1547.5 L1904.9 1547.5 L1906.4 1547.5 L1907.9 1547.5 L1909.4 1547.5 L1910.9 1547.5 L1912.4 1547.5 L1913.9 1547.5 L1915.4 1547.5 L1916.9 1547.5 L1918.4 1547.5 L1919.9 1547.5 L1921.4 1547.5 L1922.9 1547.5 L1924.4 1547.5 L1925.9 1547.5 L1927.4 1547.5 L1928.9 1547.5 L1930.4 1547.5 L1931.9 1547.5 L1933.4 1547.5 L1934.9 1547.5 L1936.4 1547.5 L1937.9 1547.5 L1939.4 1547.5 L1940.9 1547.5 L1942.4 1547.5 L1943.9 1547.5 L1945.4 1547.5 L1946.9 1547.5 L1948.4 1547.5 L1949.9 1547.5 L1951.4 1547.5 L1952.9 1547.5 L1954.4 1547.5 L1955.9 1547.5 L1957.4 1547.5 L1958.9 1547.5 L1960.4 1547.5 L1961.9 1547.5 L1963.4 1547.5 L1964.9 1547.5 L1966.4 1547.5 L1967.9 1547.5 L1968.5 1547.5" fill="none" stroke="rgb(150,115,80)" stroke-width="2.2" stroke-linejoin="round"/>
</g>
<path d="M1655.3 1246 L1655.5 1248 L1655.8 1250 L1656 1252 L1656.2 1254 L1656.5 1256 L1656.7 1258 L1657 1260 L1657.2 1262 L1657.5 1264 L1657.7 1266 L1657.9 1268 L1658.2 1270 L1658.4 1272 L1658.7 1274 L1658.9 1276 L1659.2 1278 L1659.4 1280 L1659.7 1282 L1660 1284 L1660.2 1286 L1660.5 1288 L1660.8 1290 L1661.1 1292 L1661.5 1294 L1661.8 1296 L1662.2 1298 L1662.6 1300 L1663 1302 L1663.4 1304 L1663.9 1306 L1664.3 1308 L1664.8 1310 L1665.2 1312 L1665.7 1314 L1666.2 1316 L1666.7 1318 L1667.1 1320 L1667.6 1322 L1668.1 1324 L1668.6 1326 L1669 1328 L1669.5 1330 L1670 1332 L1670.4 1334 L1670.9 1336 L1671.3 1338 L1671.7 1340 L1672.2 1342 L1672.6 1344 L1673 1346 L1673.4 1348 L1673.8 1350 L1674.1 1352 L1674.5 1354 L1674.9 1356 L1675.3 1358 L1675.6 1360 L1676 1362 L1676.4 1364 L1676.8 1366 L1677.1 1368 L1677.5 1370 L1677.9 1372 L1678.3 1374 L1678.7 1376 L1679.1 1378 L1679.5 1380 L1679.8 1382 L1680.2 1384 L1680.6 1386 L1681 1388 L1681.4 1390 L1681.8 1392 L1682.2 1394 L1682.6 1396 L1683.1 1398 L1683.5 1400 L1683.9 1402 L1684.3 1404 L1684.7 1406 L1685.1 1408 L1685.6 1410 L1686 1412 L1686.5 1414 L1686.9 1416 L1687.4 1418 L1687.8 1420 L1688.3 1422 L1688.8 1424 L1689.3 1426 L1689.8 1428 L1690.3 1430 L1690.9 1432 L1691.4 1434 L1692 1436 L1692.6 1438 L1693.2 1440 L1693.8 1442 L1694.5 1444 L1695.1 1446 L1695.8 1448 L1696.5 1450 L1697.2 1452 L1697.9 1454 L1698.7 1456 L1699.4 1458 L1700.2 1460 L1700.9 1462 L1701.7 1464 L1702.4 1466 L1703.2 1468 L1704 1470 L1704.7 1472 L1705.5 1474 L1706.2 1476 L1707 1478 L1707.8 1480 L1708.5 1482 L1709.3 1484 L1710.1 1486 L1710.9 1488 L1711.7 1490 L1712.6 1492 L1713.4 1494 L1714.3 1496 L1715.1 1498 L1716 1500 L1716.9 1502 L1717.9 1504 L1718.8 1506 L1719.7 1508 L1720.7 1510 L1721.6 1512 L1722.6 1514 L1723.5 1516 L1724.5 1518 L1725.5 1520 L1726.5 1522 L1727.6 1524 L1728.7 1526 L1729.9 1528 L1731.1 1530 L1732.5 1532 L1734 1534 L1735.8 1536 L1737.9 1538 L1740.5 1540 L1744 1542 L1749.2 1544 L1758.9 1546 L1751 1547.5 L1751 1547.5 L1750.3 1546 L1739.9 1544 L1733.9 1542 L1729.7 1540 L1726.3 1538 L1723.6 1536 L1721.2 1534 L1719.1 1532 L1717.2 1530 L1715.5 1528 L1714 1526 L1712.5 1524 L1711.2 1522 L1710 1520 L1708.8 1518 L1707.7 1516 L1706.6 1514 L1705.6 1512 L1704.7 1510 L1703.7 1508 L1702.9 1506 L1702 1504 L1701.2 1502 L1700.4 1500 L1699.6 1498 L1698.9 1496 L1698.2 1494 L1697.5 1492 L1696.8 1490 L1696.2 1488 L1695.5 1486 L1694.9 1484 L1694.3 1482 L1693.7 1480 L1693.1 1478 L1692.5 1476 L1692 1474 L1691.4 1472 L1690.9 1470 L1690.4 1468 L1689.9 1466 L1689.4 1464 L1688.9 1462 L1688.4 1460 L1687.9 1458 L1687.4 1456 L1687 1454 L1686.5 1452 L1686 1450 L1685.6 1448 L1685.2 1446 L1684.7 1444 L1684.3 1442 L1683.9 1440 L1683.5 1438 L1683.1 1436 L1682.7 1434 L1682.3 1432 L1681.9 1430 L1681.5 1428 L1681.1 1426 L1680.7 1424 L1680.3 1422 L1680 1420 L1679.6 1418 L1679.2 1416 L1678.9 1414 L1678.5 1412 L1678.1 1410 L1677.8 1408 L1677.4 1406 L1677.1 1404 L1676.8 1402 L1676.4 1400 L1676.1 1398 L1675.7 1396 L1675.4 1394 L1675.1 1392 L1674.8 1390 L1674.4 1388 L1674.1 1386 L1673.8 1384 L1673.5 1382 L1673.2 1380 L1672.9 1378 L1672.5 1376 L1672.2 1374 L1671.9 1372 L1671.6 1370 L1671.3 1368 L1671 1366 L1670.7 1364 L1670.4 1362 L1670.1 1360 L1669.8 1358 L1669.6 1356 L1669.3 1354 L1669 1352 L1668.7 1350 L1668.4 1348 L1668.1 1346 L1667.8 1344 L1667.6 1342 L1667.3 1340 L1667 1338 L1666.7 1336 L1666.5 1334 L1666.2 1332 L1665.9 1330 L1665.6 1328 L1665.4 1326 L1665.1 1324 L1664.8 1322 L1664.6 1320 L1664.3 1318 L1664 1316 L1663.8 1314 L1663.5 1312 L1663.3 1310 L1663 1308 L1662.7 1306 L1662.5 1304 L1662.2 1302 L1662 1300 L1661.7 1298 L1661.4 1296 L1661.2 1294 L1660.9 1292 L1660.7 1290 L1660.4 1288 L1660.2 1286 L1659.9 1284 L1659.7 1282 L1659.4 1280 L1659.2 1278 L1658.9 1276 L1658.7 1274 L1658.4 1272 L1658.2 1270 L1657.9 1268 L1657.7 1266 L1657.5 1264 L1657.2 1262 L1657 1260 L1656.7 1258 L1656.5 1256 L1656.2 1254 L1656 1252 L1655.8 1250 L1655.5 1248 L1655.3 1246 Z" fill="rgb(95,250,250)" fill-opacity="0.88" stroke="none"/>
<path d="M1655.3 1246 L1655.5 1248 L1655.8 1250 L1656 1252 L1656.2 1254 L1656.5 1256 L1656.7 1258 L1657 1260 L1657.2 1262 L1657.5 1264 L1657.7 1266 L1657.9 1268 L1658.2 1270 L1658.4 1272 L1658.7 1274 L1658.9 1276 L1659.2 1278 L1659.4 1280 L1659.7 1282 L1660 1284 L1660.2 1286 L1660.5 1288 L1660.8 1290 L1661.1 1292 L1661.5 1294 L1661.8 1296 L1662.2 1298 L1662.6 1300 L1663 1302 L1663.4 1304 L1663.9 1306 L1664.3 1308 L1664.8 1310 L1665.2 1312 L1665.7 1314 L1666.2 1316 L1666.7 1318 L1667.1 1320 L1667.6 1322 L1668.1 1324 L1668.6 1326 L1669 1328 L1669.5 1330 L1670 1332 L1670.4 1334 L1670.9 1336 L1671.3 1338 L1671.7 1340 L1672.2 1342 L1672.6 1344 L1673 1346 L1673.4 1348 L1673.8 1350 L1674.1 1352 L1674.5 1354 L1674.9 1356 L1675.3 1358 L1675.6 1360 L1676 1362 L1676.4 1364 L1676.8 1366 L1677.1 1368 L1677.5 1370 L1677.9 1372 L1678.3 1374 L1678.7 1376 L1679.1 1378 L1679.5 1380 L1679.8 1382 L1680.2 1384 L1680.6 1386 L1681 1388 L1681.4 1390 L1681.8 1392 L1682.2 1394 L1682.6 1396 L1683.1 1398 L1683.5 1400 L1683.9 1402 L1684.3 1404 L1684.7 1406 L1685.1 1408 L1685.6 1410 L1686 1412 L1686.5 1414 L1686.9 1416 L1687.4 1418 L1687.8 1420 L1688.3 1422 L1688.8 1424 L1689.3 1426 L1689.8 1428 L1690.3 1430 L1690.9 1432 L1691.4 1434 L1692 1436 L1692.6 1438 L1693.2 1440 L1693.8 1442 L1694.5 1444 L1695.1 1446 L1695.8 1448 L1696.5 1450 L1697.2 1452 L1697.9 1454 L1698.7 1456 L1699.4 1458 L1700.2 1460 L1700.9 1462 L1701.7 1464 L1702.4 1466 L1703.2 1468 L1704 1470 L1704.7 1472 L1705.5 1474 L1706.2 1476 L1707 1478 L1707.8 1480 L1708.5 1482 L1709.3 1484 L1710.1 1486 L1710.9 1488 L1711.7 1490 L1712.6 1492 L1713.4 1494 L1714.3 1496 L1715.1 1498 L1716 1500 L1716.9 1502 L1717.9 1504 L1718.8 1506 L1719.7 1508 L1720.7 1510 L1721.6 1512 L1722.6 1514 L1723.5 1516 L1724.5 1518 L1725.5 1520 L1726.5 1522 L1727.6 1524 L1728.7 1526 L1729.9 1528 L1731.1 1530 L1732.5 1532 L1734 1534 L1735.8 1536 L1737.9 1538 L1740.5 1540 L1744 1542 L1749.2 1544 L1758.9 1546 L1751 1547.5" fill="none" stroke="#000" stroke-width="3.4" stroke-linejoin="round"/>
<path d="M1063.4 1547.5 L1064.9 1547.5 L1066.4 1547.5 L1067.9 1547.5 L1069.4 1547.5 L1070.9 1547.5 L1072.4 1547.5 L1073.9 1547.5 L1075.4 1547.5 L1076.9 1547.5 L1078.4 1547.5 L1079.9 1547.5 L1081.4 1547.5 L1082.9 1547.5 L1084.4 1547.5 L1085.9 1547.5 L1087.4 1547.5 L1088.9 1547.5 L1090.4 1547.5 L1091.9 1547.5 L1093.4 1547.5 L1094.9 1547.5 L1096.4 1547.5 L1097.9 1547.5 L1099.4 1547.5 L1100.9 1547.5 L1102.4 1547.5 L1103.9 1547.5 L1105.4 1547.5 L1106.9 1547.5 L1108.4 1547.5 L1109.9 1547.5 L1111.4 1547.5 L1112.9 1547.5 L1114.4 1547.5 L1115.9 1547.5 L1117.4 1547.5 L1118.9 1547.5 L1120.4 1547.5 L1121.9 1547.5 L1123.4 1547.5 L1124.9 1547.5 L1126.4 1547.5 L1127.9 1547.5 L1129.4 1547.5 L1130.9 1547.5 L1132.4 1547.5 L1133.9 1547.5 L1135.4 1547.5 L1136.9 1547.5 L1138.4 1547.5 L1139.9 1547.5 L1141.4 1547.5 L1142.9 1547.5 L1144.4 1547.5 L1145.9 1547.5 L1147.4 1547.5 L1148.9 1547.5 L1150.4 1547.5 L1151.9 1547.5 L1153.4 1547.5 L1154.9 1547.5 L1156.4 1547.5 L1157.9 1547.5 L1159.4 1547.5 L1160.9 1547.5 L1162.4 1547.5 L1163.9 1547.5 L1165.4 1547.5 L1166.9 1547.5 L1168.4 1547.5 L1169.9 1547.5 L1171.4 1547.5 L1172.9 1547.5 L1174.4 1547.5 L1175.9 1547.5 L1177.4 1547.5 L1178.9 1547.5 L1180.4 1547.5 L1181.9 1547.5 L1183.4 1547.5 L1184.9 1547.5 L1186.4 1547.5 L1187.9 1547.5 L1189.4 1547.5 L1190.9 1547.5 L1192.4 1547.5 L1193.9 1547.5 L1195.4 1547.5 L1196.9 1547.5 L1198.4 1547.5 L1199.9 1547.5 L1201.4 1547.5 L1202.9 1547.5 L1204.4 1547.5 L1205.9 1547.5 L1207.4 1547.5 L1208.9 1547.5 L1210.4 1547.5 L1211.9 1547.5 L1213.4 1547.5 L1214.9 1547.5 L1216.4 1547.5 L1217.9 1547.5 L1219.4 1547.5 L1220.9 1547.5 L1222.4 1547.5 L1223.9 1547.5 L1225.4 1547.5 L1226.9 1547.5 L1228.4 1547.5 L1229.9 1547.5 L1231.4 1547.5 L1232.9 1547.5 L1234.4 1547.5 L1235.9 1547.5 L1237.4 1547.5 L1238.9 1547.5 L1240.4 1547.5 L1241.9 1547.5 L1243.4 1547.5 L1244.9 1547.5 L1246.4 1547.5 L1247.9 1547.5 L1249.4 1547.5 L1250.9 1547.5 L1252.4 1547.5 L1253.9 1547.5 L1255.4 1547.5 L1256.9 1547.5 L1258.4 1547.5 L1259.9 1547.5 L1261.4 1547.5 L1262.9 1547.5 L1264.4 1547.5 L1265.9 1547.5 L1267.4 1547.5 L1268.9 1547.5 L1270.4 1547.5 L1271.9 1547.5 L1273.4 1547.5 L1274.9 1547.5 L1276.4 1547.5 L1277.9 1547.5 L1279.4 1547.5 L1280.9 1547.5 L1282.4 1547.5 L1283.9 1547.5 L1285.4 1547.5 L1286.9 1547.5 L1288.4 1547.5 L1289.9 1547.5 L1291.4 1547.5 L1292.9 1547.5 L1294.4 1547.5 L1295.9 1547.5 L1297.4 1547.5 L1298.9 1547.5 L1300.4 1547.5 L1301.9 1547.5 L1303.4 1547.5 L1304.9 1547.5 L1306.4 1547.5 L1307.9 1547.5 L1309.4 1547.5 L1310.9 1547.5 L1312.4 1547.5 L1313.9 1547.5 L1315.4 1547.5 L1316.9 1547.5 L1318.4 1547.5 L1319.9 1547.5 L1321.4 1547.5 L1322.9 1547.5 L1324.4 1547.5 L1325.9 1547.5 L1327.4 1547.5 L1328.9 1547.5 L1330.4 1547.5 L1331.9 1547.5 L1333.4 1547.5 L1334.9 1547.5 L1336.4 1547.5 L1337.9 1547.5 L1339.4 1547.5 L1340.9 1547.5 L1342.4 1547.5 L1343.9 1547.5 L1345.4 1547.5 L1346.9 1547.5 L1348.4 1547.5 L1349.9 1547.5 L1351.4 1547.5 L1352.9 1547.5 L1354.4 1547.5 L1355.9 1547.5 L1357.4 1547.5 L1358.9 1547.5 L1360.4 1547.5 L1361.9 1547.5 L1363.4 1547.5 L1364.9 1547.5 L1366.4 1547.5 L1367.9 1547.5 L1369.4 1547.5 L1370.9 1547.5 L1372.4 1547.5 L1373.9 1547.5 L1375.4 1547.5 L1376.9 1547.5 L1378.4 1547.5 L1379.9 1547.5 L1381.4 1547.5 L1382.9 1547.5 L1384.4 1547.5 L1385.9 1547.5 L1387.4 1547.5 L1388.9 1547.5 L1390.4 1547.5 L1391.9 1547.5 L1393.4 1547.5 L1394.9 1547.5 L1396.4 1547.5 L1397.9 1547.5 L1399.4 1547.5 L1400.9 1547.5 L1402.4 1547.5 L1403.9 1547.5 L1405.4 1547.5 L1406.9 1547.5 L1408.4 1547.5 L1409.9 1547.5 L1411.4 1547.5 L1412.9 1547.5 L1414.4 1547.5 L1415.9 1547.5 L1417.4 1547.5 L1418.9 1547.5 L1420.4 1547.5 L1421.9 1547.5 L1423.4 1547.5 L1424.9 1547.5 L1426.4 1547.5 L1427.9 1547.5 L1429.4 1547.5 L1430.9 1547.5 L1432.4 1547.4 L1433.9 1547.4 L1435.4 1547.4 L1436.9 1547.4 L1438.4 1547.4 L1439.9 1547.4 L1441.4 1547.4 L1442.9 1547.3 L1444.4 1547.3 L1445.9 1547.3 L1447.4 1547.3 L1448.9 1547.2 L1450.4 1547.2 L1451.9 1547.1 L1453.4 1547.1 L1454.9 1547 L1456.4 1546.9 L1457.9 1546.9 L1459.4 1546.8 L1460.9 1546.7 L1462.4 1546.5 L1463.9 1546.4 L1465.4 1546.3 L1466.9 1546.1 L1468.4 1545.9 L1469.9 1545.7 L1471.4 1545.5 L1472.9 1545.2 L1474.4 1544.9 L1475.9 1544.6 L1477.4 1544.2 L1478.9 1543.8 L1480.4 1543.3 L1481.9 1542.8 L1483.4 1542.3 L1484.9 1541.7 L1486.4 1541 L1487.9 1540.2 L1489.4 1539.4 L1490.9 1538.5 L1492.4 1537.5 L1493.9 1536.4 L1495.4 1535.2 L1496.9 1533.9 L1498.4 1532.5 L1499.9 1531 L1501.4 1529.3 L1502.9 1527.5 L1504.4 1525.5 L1505.9 1523.4 L1507.4 1521 L1508.9 1518.6 L1510.4 1515.9 L1511.9 1513 L1513.4 1509.9 L1514.9 1506.6 L1516.4 1503 L1517.9 1499.2 L1519.4 1495.2 L1520.9 1490.8 L1522.4 1486.3 L1523.9 1481.4 L1525.4 1476.2 L1526.9 1470.7 L1528.4 1465 L1529.9 1458.9 L1531.4 1452.4 L1532.9 1445.7 L1534.4 1438.6 L1535.9 1431.2 L1537.4 1423.4 L1538.9 1415.3 L1540.4 1406.9 L1541.9 1398.1 L1543.4 1389 L1544.9 1379.6 L1546.4 1369.8 L1547.9 1359.7 L1549.4 1349.3 L1550.9 1338.7 L1552.4 1327.7 L1553.9 1316.5 L1555.4 1305 L1556.9 1293.3 L1558.4 1281.3 L1559.9 1269.2 L1561.4 1257 L1562.9 1244.6 L1564.4 1232.1 L1565.9 1219.5 L1567.4 1206.8 L1568.9 1194.2 L1570.4 1181.6 L1571.9 1169 L1573.4 1156.5 L1574.9 1144.2 L1576.4 1132 L1577.9 1120 L1579.4 1108.3 L1580.9 1096.8 L1582.4 1085.7 L1583.9 1074.9 L1585.4 1064.5 L1586.9 1054.6 L1588.4 1045.1 L1589.9 1036.1 L1591.4 1027.7 L1592.9 1019.8 L1594.4 1012.5 L1595.9 1005.9 L1597.4 999.9 L1598.9 994.5 L1600.4 989.9 L1601.9 986 L1603.4 982.8 L1604.9 980.3 L1606.4 978.6 L1607.9 977.7 L1609.4 977.5 L1610.9 978.1 L1612.4 979.5 L1613.9 981.6 L1615.4 984.4 L1616.9 988 L1618.4 992.3 L1619.9 997.3 L1621.4 1003 L1622.9 1009.3 L1624.4 1016.3 L1625.9 1023.9 L1627.4 1032.1 L1628.9 1040.8 L1630.4 1050.1 L1631.9 1059.8 L1633.4 1070 L1634.9 1080.6 L1636.4 1091.6 L1637.9 1102.9 L1639.4 1114.5 L1640.9 1126.4 L1642.4 1138.5 L1643.9 1150.7 L1645.4 1163.2 L1646.9 1175.7 L1648.4 1188.3 L1649.9 1200.9 L1651.4 1213.6 L1652.9 1226.2 L1654.4 1238.7 L1655.9 1251.2 L1657.4 1263.5 L1658.9 1275.7 L1660.4 1287.7 L1661.9 1299.5 L1663.4 1311.1 L1664.9 1322.5 L1666.4 1333.6 L1667.9 1344.4 L1669.4 1354.9 L1670.9 1365.1 L1672.4 1375.1 L1673.9 1384.7 L1675.4 1393.9 L1676.9 1402.9 L1678.4 1411.4 L1679.9 1419.7 L1681.4 1427.6 L1682.9 1435.2 L1684.4 1442.4 L1685.9 1449.3 L1687.4 1455.9 L1688.9 1462.1 L1690.4 1468.1 L1691.9 1473.7 L1693.4 1479 L1694.9 1484 L1696.4 1488.7 L1697.9 1493.2 L1699.4 1497.4 L1700.9 1501.3 L1702.4 1504.9 L1703.9 1508.4 L1705.4 1511.6 L1706.9 1514.6 L1708.4 1517.3 L1709.9 1519.9 L1711.4 1522.3 L1712.9 1524.5 L1714.4 1526.6 L1715.9 1528.5 L1717.4 1530.2 L1718.9 1531.8 L1720.4 1533.3 L1721.9 1534.6 L1723.4 1535.9 L1724.9 1537 L1726.4 1538 L1727.9 1539 L1729.4 1539.9 L1730.9 1540.6 L1732.4 1541.4 L1733.9 1542 L1735.4 1542.6 L1736.9 1543.1 L1738.4 1543.6 L1739.9 1544 L1741.4 1544.4 L1742.9 1544.7 L1744.4 1545.1 L1745.9 1545.3 L1747.4 1545.6 L1748.9 1545.8 L1750.4 1546 L1751.9 1546.2 L1753.4 1546.3 L1754.9 1546.5 L1756.4 1546.6 L1757.9 1546.7 L1759.4 1546.8 L1760.9 1546.9 L1762.4 1547 L1763.9 1547 L1765.4 1547.1 L1766.9 1547.2 L1768.4 1547.2 L1769.9 1547.2 L1771.4 1547.3 L1772.9 1547.3 L1774.4 1547.3 L1775.9 1547.4 L1777.4 1547.4 L1778.9 1547.4 L1780.4 1547.4 L1781.9 1547.4 L1783.4 1547.4 L1784.9 1547.4 L1786.4 1547.5 L1787.9 1547.5 L1789.4 1547.5 L1790.9 1547.5 L1792.4 1547.5 L1793.9 1547.5 L1795.4 1547.5 L1796.9 1547.5 L1798.4 1547.5 L1799.9 1547.5 L1801.4 1547.5 L1802.9 1547.5 L1804.4 1547.5 L1805.9 1547.5 L1807.4 1547.5 L1808.9 1547.5 L1810.4 1547.5 L1811.9 1547.5 L1813.4 1547.5 L1814.9 1547.5 L1816.4 1547.5 L1817.9 1547.5 L1819.4 1547.5 L1820.9 1547.5 L1822.4 1547.5 L1823.9 1547.5 L1825.4 1547.5 L1826.9 1547.5 L1828.4 1547.5 L1829.9 1547.5 L1831.4 1547.5 L1832.9 1547.5 L1834.4 1547.5 L1835.9 1547.5 L1837.4 1547.5 L1838.9 1547.5 L1840.4 1547.5 L1841.9 1547.5 L1843.4 1547.5 L1844.9 1547.5 L1846.4 1547.5 L1847.9 1547.5 L1849.4 1547.5 L1850.9 1547.5 L1852.4 1547.5 L1853.9 1547.5 L1855.4 1547.5 L1856.9 1547.5 L1858.4 1547.5 L1859.9 1547.5 L1861.4 1547.5 L1862.9 1547.5 L1864.4 1547.5 L1865.9 1547.5 L1867.4 1547.5 L1868.9 1547.5 L1870.4 1547.5 L1871.9 1547.5 L1873.4 1547.5 L1874.9 1547.5 L1876.4 1547.5 L1877.9 1547.5 L1879.4 1547.5 L1880.9 1547.5 L1882.4 1547.5 L1883.9 1547.5 L1885.4 1547.5 L1886.9 1547.5 L1888.4 1547.5 L1889.9 1547.5 L1891.4 1547.5 L1892.9 1547.5 L1894.4 1547.5 L1895.9 1547.5 L1897.4 1547.5 L1898.9 1547.5 L1900.4 1547.5 L1901.9 1547.5 L1903.4 1547.5 L1904.9 1547.5 L1906.4 1547.5 L1907.9 1547.5 L1909.4 1547.5 L1910.9 1547.5 L1912.4 1547.5 L1913.9 1547.5 L1915.4 1547.5 L1916.9 1547.5 L1918.4 1547.5 L1919.9 1547.5 L1921.4 1547.5 L1922.9 1547.5 L1924.4 1547.5 L1925.9 1547.5 L1927.4 1547.5 L1928.9 1547.5 L1930.4 1547.5 L1931.9 1547.5 L1933.4 1547.5 L1934.9 1547.5 L1936.4 1547.5 L1937.9 1547.5 L1939.4 1547.5 L1940.9 1547.5 L1942.4 1547.5 L1943.9 1547.5 L1945.4 1547.5 L1946.9 1547.5 L1948.4 1547.5 L1949.9 1547.5 L1951.4 1547.5 L1952.9 1547.5 L1954.4 1547.5 L1955.9 1547.5 L1957.4 1547.5 L1958.9 1547.5 L1960.4 1547.5 L1961.9 1547.5 L1963.4 1547.5 L1964.9 1547.5 L1966.4 1547.5 L1967.9 1547.5 L1968.5 1547.5" fill="none" stroke="rgb(70,65,255)" stroke-width="3.4" stroke-linejoin="round"/>
<path d="M1063.4 1548.7 H1600" fill="none" stroke="#28d0f5" stroke-width="3.4"/>
<path d="M1063.4 1547.5 L1064.9 1547.5 L1066.4 1547.5 L1067.9 1547.5 L1069.4 1547.5 L1070.9 1547.5 L1072.4 1547.5 L1073.9 1547.5 L1075.4 1547.5 L1076.9 1547.5 L1078.4 1547.5 L1079.9 1547.5 L1081.4 1547.5 L1082.9 1547.5 L1084.4 1547.5 L1085.9 1547.5 L1087.4 1547.5 L1088.9 1547.5 L1090.4 1547.5 L1091.9 1547.5 L1093.4 1547.5 L1094.9 1547.5 L1096.4 1547.5 L1097.9 1547.5 L1099.4 1547.5 L1100.9 1547.5 L1102.4 1547.5 L1103.9 1547.5 L1105.4 1547.5 L1106.9 1547.5 L1108.4 1547.5 L1109.9 1547.5 L1111.4 1547.5 L1112.9 1547.5 L1114.4 1547.5 L1115.9 1547.5 L1117.4 1547.5 L1118.9 1547.5 L1120.4 1547.5 L1121.9 1547.5 L1123.4 1547.5 L1124.9 1547.5 L1126.4 1547.5 L1127.9 1547.5 L1129.4 1547.5 L1130.9 1547.5 L1132.4 1547.5 L1133.9 1547.5 L1135.4 1547.5 L1136.9 1547.5 L1138.4 1547.5 L1139.9 1547.5 L1141.4 1547.5 L1142.9 1547.5 L1144.4 1547.5 L1145.9 1547.5 L1147.4 1547.5 L1148.9 1547.5 L1150.4 1547.5 L1151.9 1547.5 L1153.4 1547.5 L1154.9 1547.5 L1156.4 1547.5 L1157.9 1547.5 L1159.4 1547.5 L1160.9 1547.5 L1162.4 1547.5 L1163.9 1547.5 L1165.4 1547.5 L1166.9 1547.5 L1168.4 1547.5 L1169.9 1547.5 L1171.4 1547.5 L1172.9 1547.5 L1174.4 1547.5 L1175.9 1547.5 L1177.4 1547.5 L1178.9 1547.5 L1180.4 1547.5 L1181.9 1547.5 L1183.4 1547.5 L1184.9 1547.5 L1186.4 1547.5 L1187.9 1547.5 L1189.4 1547.5 L1190.9 1547.5 L1192.4 1547.5 L1193.9 1547.5 L1195.4 1547.5 L1196.9 1547.5 L1198.4 1547.5 L1199.9 1547.5 L1201.4 1547.5 L1202.9 1547.5 L1204.4 1547.5 L1205.9 1547.5 L1207.4 1547.5 L1208.9 1547.5 L1210.4 1547.5 L1211.9 1547.5 L1213.4 1547.5 L1214.9 1547.5 L1216.4 1547.5 L1217.9 1547.5 L1219.4 1547.5 L1220.9 1547.5 L1222.4 1547.5 L1223.9 1547.5 L1225.4 1547.5 L1226.9 1547.5 L1228.4 1547.5 L1229.9 1547.5 L1231.4 1547.5 L1232.9 1547.5 L1234.4 1547.5 L1235.9 1547.5 L1237.4 1547.5 L1238.9 1547.5 L1240.4 1547.5 L1241.9 1547.5 L1243.4 1547.5 L1244.9 1547.5 L1246.4 1547.5 L1247.9 1547.5 L1249.4 1547.5 L1250.9 1547.5 L1252.4 1547.5 L1253.9 1547.5 L1255.4 1547.5 L1256.9 1547.5 L1258.4 1547.5 L1259.9 1547.5 L1261.4 1547.5 L1262.9 1547.5 L1264.4 1547.5 L1265.9 1547.5 L1267.4 1547.5 L1268.9 1547.5 L1270.4 1547.5 L1271.9 1547.5 L1273.4 1547.5 L1274.9 1547.5 L1276.4 1547.5 L1277.9 1547.5 L1279.4 1547.5 L1280.9 1547.5 L1282.4 1547.5 L1283.9 1547.5 L1285.4 1547.5 L1286.9 1547.5 L1288.4 1547.5 L1289.9 1547.5 L1291.4 1547.5 L1292.9 1547.5 L1294.4 1547.5 L1295.9 1547.5 L1297.4 1547.5 L1298.9 1547.5 L1300.4 1547.5 L1301.9 1547.5 L1303.4 1547.5 L1304.9 1547.5 L1306.4 1547.5 L1307.9 1547.5 L1309.4 1547.5 L1310.9 1547.5 L1312.4 1547.5 L1313.9 1547.5 L1315.4 1547.5 L1316.9 1547.5 L1318.4 1547.5 L1319.9 1547.5 L1321.4 1547.5 L1322.9 1547.5 L1324.4 1547.5 L1325.9 1547.5 L1327.4 1547.5 L1328.9 1547.5 L1330.4 1547.5 L1331.9 1547.5 L1333.4 1547.5 L1334.9 1547.5 L1336.4 1547.5 L1337.9 1547.5 L1339.4 1547.5 L1340.9 1547.5 L1342.4 1547.5 L1343.9 1547.5 L1345.4 1547.5 L1346.9 1547.5 L1348.4 1547.5 L1349.9 1547.5 L1351.4 1547.5 L1352.9 1547.5 L1354.4 1547.5 L1355.9 1547.5 L1357.4 1547.5 L1358.9 1547.5 L1360.4 1547.5 L1361.9 1547.5 L1363.4 1547.5 L1364.9 1547.5 L1366.4 1547.5 L1367.9 1547.5 L1369.4 1547.4 L1370.9 1547.4 L1372.4 1547.4 L1373.9 1547.4 L1375.4 1547.4 L1376.9 1547.4 L1378.4 1547.4 L1379.9 1547.3 L1381.4 1547.3 L1382.9 1547.3 L1384.4 1547.2 L1385.9 1547.2 L1387.4 1547.1 L1388.9 1547.1 L1390.4 1547 L1391.9 1546.9 L1393.4 1546.9 L1394.9 1546.8 L1396.4 1546.7 L1397.9 1546.5 L1399.4 1546.4 L1400.9 1546.2 L1402.4 1546.1 L1403.9 1545.9 L1405.4 1545.7 L1406.9 1545.4 L1408.4 1545.1 L1409.9 1544.8 L1411.4 1544.5 L1412.9 1544.1 L1414.4 1543.7 L1415.9 1543.3 L1417.4 1542.8 L1418.9 1542.3 L1420.4 1541.7 L1421.9 1541 L1423.4 1540.3 L1424.9 1539.5 L1426.4 1538.7 L1427.9 1537.8 L1429.4 1536.8 L1430.9 1535.7 L1432.4 1534.6 L1433.9 1533.3 L1435.4 1532 L1436.9 1530.6 L1438.4 1529.1 L1439.9 1527.5 L1441.4 1525.7 L1442.9 1523.9 L1444.4 1521.9 L1445.9 1519.9 L1447.4 1517.7 L1448.9 1515.4 L1450.4 1513 L1451.9 1510.5 L1453.4 1507.9 L1454.9 1505.1 L1456.4 1502.3 L1457.9 1499.3 L1459.4 1496.3 L1460.9 1493.1 L1462.4 1489.9 L1463.9 1486.5 L1465.4 1483.1 L1466.9 1479.6 L1468.4 1476 L1469.9 1472.4 L1471.4 1468.8 L1472.9 1465.1 L1474.4 1461.4 L1475.9 1457.7 L1477.4 1453.9 L1478.9 1450.2 L1480.4 1446.6 L1481.9 1442.9 L1483.4 1439.4 L1484.9 1435.9 L1486.4 1432.5 L1487.9 1429.2 L1489.4 1426 L1490.9 1423 L1492.4 1420.1 L1493.9 1417.3 L1495.4 1414.8 L1496.9 1412.4 L1498.4 1410.2 L1499.9 1408.2 L1501.4 1406.5 L1502.9 1405 L1504.4 1403.7 L1505.9 1402.7 L1507.4 1401.9 L1508.9 1401.3 L1510.4 1401 L1511.9 1401 L1513.4 1401.3 L1514.9 1401.7 L1516.4 1402.5 L1517.9 1403.5 L1519.4 1404.7 L1520.9 1406.2 L1522.4 1407.9 L1523.9 1409.8 L1525.4 1411.9 L1526.9 1414.3 L1528.4 1416.8 L1529.9 1419.5 L1531.4 1422.4 L1532.9 1425.4 L1534.4 1428.5 L1535.9 1431.8 L1537.4 1435.2 L1538.9 1438.7 L1540.4 1442.2 L1541.9 1445.8 L1543.4 1449.5 L1544.9 1453.2 L1546.4 1456.9 L1547.9 1460.6 L1549.4 1464.3 L1550.9 1468 L1552.4 1471.7 L1553.9 1475.3 L1555.4 1478.9 L1556.9 1482.4 L1558.4 1485.8 L1559.9 1489.2 L1561.4 1492.5 L1562.9 1495.7 L1564.4 1498.7 L1565.9 1501.7 L1567.4 1504.6 L1568.9 1507.3 L1570.4 1510 L1571.9 1512.5 L1573.4 1515 L1574.9 1517.3 L1576.4 1519.5 L1577.9 1521.5 L1579.4 1523.5 L1580.9 1525.4 L1582.4 1527.1 L1583.9 1528.8 L1585.4 1530.3 L1586.9 1531.7 L1588.4 1533.1 L1589.9 1534.3 L1591.4 1535.5 L1592.9 1536.6 L1594.4 1537.6 L1595.9 1538.5 L1597.4 1539.4 L1598.9 1540.2 L1600.4 1540.9 L1601.9 1541.5 L1603.4 1542.1 L1604.9 1542.7 L1606.4 1543.2 L1607.9 1543.7 L1609.4 1544.1 L1610.9 1544.4 L1612.4 1544.8 L1613.9 1545.1 L1615.4 1545.4 L1616.9 1545.6 L1618.4 1545.8 L1619.9 1546 L1621.4 1546.2 L1622.9 1546.4 L1624.4 1546.5 L1625.9 1546.6 L1627.4 1546.7 L1628.9 1546.8 L1630.4 1546.9 L1631.9 1547 L1633.4 1547.1 L1634.9 1547.1 L1636.4 1547.2 L1637.9 1547.2 L1639.4 1547.3 L1640.9 1547.3 L1642.4 1547.3 L1643.9 1547.3 L1645.4 1547.4 L1646.9 1547.4 L1648.4 1547.4 L1649.9 1547.4 L1651.4 1547.4 L1652.9 1547.4 L1654.4 1547.5 L1655.9 1547.5 L1657.4 1547.5 L1658.9 1547.5 L1660.4 1547.5 L1661.9 1547.5 L1663.4 1547.5 L1664.9 1547.5 L1666.4 1547.5 L1667.9 1547.5 L1669.4 1547.5 L1670.9 1547.5 L1672.4 1547.5 L1673.9 1547.5 L1675.4 1547.5 L1676.9 1547.5 L1678.4 1547.5 L1679.9 1547.5 L1681.4 1547.5 L1682.9 1547.5 L1684.4 1547.5 L1685.9 1547.5 L1687.4 1547.5 L1688.9 1547.5 L1690.4 1547.5 L1691.9 1547.5 L1693.4 1547.5 L1694.9 1547.5 L1696.4 1547.5 L1697.9 1547.5 L1699.4 1547.5 L1700.9 1547.5 L1702.4 1547.5 L1703.9 1547.5 L1705.4 1547.5 L1706.9 1547.5 L1708.4 1547.5 L1709.9 1547.5 L1711.4 1547.5 L1712.9 1547.5 L1714.4 1547.5 L1715.9 1547.5 L1717.4 1547.5 L1718.9 1547.5 L1720.4 1547.5 L1721.9 1547.5 L1723.4 1547.5 L1724.9 1547.5 L1726.4 1547.5 L1727.9 1547.5 L1729.4 1547.5 L1730.9 1547.5 L1732.4 1547.5 L1733.9 1547.5 L1735.4 1547.5 L1736.9 1547.5 L1738.4 1547.5 L1739.9 1547.5 L1741.4 1547.5 L1742.9 1547.5 L1744.4 1547.5 L1745.9 1547.5 L1747.4 1547.5 L1748.9 1547.5 L1750.4 1547.5 L1751.9 1547.5 L1753.4 1547.5 L1754.9 1547.5 L1756.4 1547.5 L1757.9 1547.5 L1759.4 1547.5 L1760.9 1547.5 L1762.4 1547.5 L1763.9 1547.5 L1765.4 1547.5 L1766.9 1547.5 L1768.4 1547.5 L1769.9 1547.5 L1771.4 1547.5 L1772.9 1547.5 L1774.4 1547.5 L1775.9 1547.5 L1777.4 1547.5 L1778.9 1547.5 L1780.4 1547.5 L1781.9 1547.5 L1783.4 1547.5 L1784.9 1547.5 L1786.4 1547.5 L1787.9 1547.5 L1789.4 1547.5 L1790.9 1547.5 L1792.4 1547.5 L1793.9 1547.5 L1795.4 1547.5 L1796.9 1547.5 L1798.4 1547.5 L1799.9 1547.5 L1801.4 1547.5 L1802.9 1547.5 L1804.4 1547.5 L1805.9 1547.5 L1807.4 1547.5 L1808.9 1547.5 L1810.4 1547.5 L1811.9 1547.5 L1813.4 1547.5 L1814.9 1547.5 L1816.4 1547.5 L1817.9 1547.5 L1819.4 1547.5 L1820.9 1547.5 L1822.4 1547.5 L1823.9 1547.5 L1825.4 1547.5 L1826.9 1547.5 L1828.4 1547.5 L1829.9 1547.5 L1831.4 1547.5 L1832.9 1547.5 L1834.4 1547.5 L1835.9 1547.5 L1837.4 1547.5 L1838.9 1547.5 L1840.4 1547.5 L1841.9 1547.5 L1843.4 1547.5 L1844.9 1547.5 L1846.4 1547.5 L1847.9 1547.5 L1849.4 1547.5 L1850.9 1547.5 L1852.4 1547.5 L1853.9 1547.5 L1855.4 1547.5 L1856.9 1547.5 L1858.4 1547.5 L1859.9 1547.5 L1861.4 1547.5 L1862.9 1547.5 L1864.4 1547.5 L1865.9 1547.5 L1867.4 1547.5 L1868.9 1547.5 L1870.4 1547.5 L1871.9 1547.5 L1873.4 1547.5 L1874.9 1547.5 L1876.4 1547.5 L1877.9 1547.5 L1879.4 1547.5 L1880.9 1547.5 L1882.4 1547.5 L1883.9 1547.5 L1885.4 1547.5 L1886.9 1547.5 L1888.4 1547.5 L1889.9 1547.5 L1891.4 1547.5 L1892.9 1547.5 L1894.4 1547.5 L1895.9 1547.5 L1897.4 1547.5 L1898.9 1547.5 L1900.4 1547.5 L1901.9 1547.5 L1903.4 1547.5 L1904.9 1547.5 L1906.4 1547.5 L1907.9 1547.5 L1909.4 1547.5 L1910.9 1547.5 L1912.4 1547.5 L1913.9 1547.5 L1915.4 1547.5 L1916.9 1547.5 L1918.4 1547.5 L1919.9 1547.5 L1921.4 1547.5 L1922.9 1547.5 L1924.4 1547.5 L1925.9 1547.5 L1927.4 1547.5 L1928.9 1547.5 L1930.4 1547.5 L1931.9 1547.5 L1933.4 1547.5 L1934.9 1547.5 L1936.4 1547.5 L1937.9 1547.5 L1939.4 1547.5 L1940.9 1547.5 L1942.4 1547.5 L1943.9 1547.5 L1945.4 1547.5 L1946.9 1547.5 L1948.4 1547.5 L1949.9 1547.5 L1951.4 1547.5 L1952.9 1547.5 L1954.4 1547.5 L1955.9 1547.5 L1957.4 1547.5 L1958.9 1547.5 L1960.4 1547.5 L1961.9 1547.5 L1963.4 1547.5 L1964.9 1547.5 L1966.4 1547.5 L1967.9 1547.5 L1968.5 1547.5 L1968.5 1547.5 L1063.4 1547.5 Z" fill="url(#g3co)" stroke="none"/>
<path d="M1063.4 1547.5 L1064.9 1547.5 L1066.4 1547.5 L1067.9 1547.5 L1069.4 1547.5 L1070.9 1547.5 L1072.4 1547.5 L1073.9 1547.5 L1075.4 1547.5 L1076.9 1547.5 L1078.4 1547.5 L1079.9 1547.5 L1081.4 1547.5 L1082.9 1547.5 L1084.4 1547.5 L1085.9 1547.5 L1087.4 1547.5 L1088.9 1547.5 L1090.4 1547.5 L1091.9 1547.5 L1093.4 1547.5 L1094.9 1547.5 L1096.4 1547.5 L1097.9 1547.5 L1099.4 1547.5 L1100.9 1547.5 L1102.4 1547.5 L1103.9 1547.5 L1105.4 1547.5 L1106.9 1547.5 L1108.4 1547.5 L1109.9 1547.5 L1111.4 1547.5 L1112.9 1547.5 L1114.4 1547.5 L1115.9 1547.5 L1117.4 1547.5 L1118.9 1547.5 L1120.4 1547.5 L1121.9 1547.5 L1123.4 1547.5 L1124.9 1547.5 L1126.4 1547.5 L1127.9 1547.5 L1129.4 1547.5 L1130.9 1547.5 L1132.4 1547.5 L1133.9 1547.5 L1135.4 1547.5 L1136.9 1547.5 L1138.4 1547.5 L1139.9 1547.5 L1141.4 1547.5 L1142.9 1547.5 L1144.4 1547.5 L1145.9 1547.5 L1147.4 1547.5 L1148.9 1547.5 L1150.4 1547.5 L1151.9 1547.5 L1153.4 1547.5 L1154.9 1547.5 L1156.4 1547.5 L1157.9 1547.5 L1159.4 1547.5 L1160.9 1547.5 L1162.4 1547.5 L1163.9 1547.5 L1165.4 1547.5 L1166.9 1547.5 L1168.4 1547.5 L1169.9 1547.5 L1171.4 1547.5 L1172.9 1547.5 L1174.4 1547.5 L1175.9 1547.5 L1177.4 1547.5 L1178.9 1547.5 L1180.4 1547.5 L1181.9 1547.5 L1183.4 1547.5 L1184.9 1547.5 L1186.4 1547.5 L1187.9 1547.5 L1189.4 1547.5 L1190.9 1547.5 L1192.4 1547.5 L1193.9 1547.5 L1195.4 1547.5 L1196.9 1547.5 L1198.4 1547.5 L1199.9 1547.5 L1201.4 1547.5 L1202.9 1547.5 L1204.4 1547.5 L1205.9 1547.5 L1207.4 1547.5 L1208.9 1547.5 L1210.4 1547.5 L1211.9 1547.5 L1213.4 1547.5 L1214.9 1547.5 L1216.4 1547.5 L1217.9 1547.5 L1219.4 1547.5 L1220.9 1547.5 L1222.4 1547.5 L1223.9 1547.5 L1225.4 1547.5 L1226.9 1547.5 L1228.4 1547.5 L1229.9 1547.5 L1231.4 1547.5 L1232.9 1547.5 L1234.4 1547.5 L1235.9 1547.5 L1237.4 1547.5 L1238.9 1547.5 L1240.4 1547.5 L1241.9 1547.5 L1243.4 1547.5 L1244.9 1547.5 L1246.4 1547.5 L1247.9 1547.5 L1249.4 1547.5 L1250.9 1547.5 L1252.4 1547.5 L1253.9 1547.5 L1255.4 1547.5 L1256.9 1547.5 L1258.4 1547.5 L1259.9 1547.5 L1261.4 1547.5 L1262.9 1547.5 L1264.4 1547.5 L1265.9 1547.5 L1267.4 1547.5 L1268.9 1547.5 L1270.4 1547.5 L1271.9 1547.5 L1273.4 1547.5 L1274.9 1547.5 L1276.4 1547.5 L1277.9 1547.5 L1279.4 1547.5 L1280.9 1547.5 L1282.4 1547.5 L1283.9 1547.5 L1285.4 1547.5 L1286.9 1547.5 L1288.4 1547.5 L1289.9 1547.5 L1291.4 1547.5 L1292.9 1547.5 L1294.4 1547.5 L1295.9 1547.5 L1297.4 1547.5 L1298.9 1547.5 L1300.4 1547.5 L1301.9 1547.5 L1303.4 1547.5 L1304.9 1547.5 L1306.4 1547.5 L1307.9 1547.5 L1309.4 1547.5 L1310.9 1547.5 L1312.4 1547.5 L1313.9 1547.5 L1315.4 1547.5 L1316.9 1547.5 L1318.4 1547.5 L1319.9 1547.5 L1321.4 1547.5 L1322.9 1547.5 L1324.4 1547.5 L1325.9 1547.5 L1327.4 1547.5 L1328.9 1547.5 L1330.4 1547.5 L1331.9 1547.5 L1333.4 1547.5 L1334.9 1547.5 L1336.4 1547.5 L1337.9 1547.5 L1339.4 1547.5 L1340.9 1547.5 L1342.4 1547.5 L1343.9 1547.5 L1345.4 1547.5 L1346.9 1547.5 L1348.4 1547.5 L1349.9 1547.5 L1351.4 1547.5 L1352.9 1547.5 L1354.4 1547.5 L1355.9 1547.5 L1357.4 1547.5 L1358.9 1547.5 L1360.4 1547.5 L1361.9 1547.5 L1363.4 1547.5 L1364.9 1547.5 L1366.4 1547.5 L1367.9 1547.5 L1369.4 1547.4 L1370.9 1547.4 L1372.4 1547.4 L1373.9 1547.4 L1375.4 1547.4 L1376.9 1547.4 L1378.4 1547.4 L1379.9 1547.3 L1381.4 1547.3 L1382.9 1547.3 L1384.4 1547.2 L1385.9 1547.2 L1387.4 1547.1 L1388.9 1547.1 L1390.4 1547 L1391.9 1546.9 L1393.4 1546.9 L1394.9 1546.8 L1396.4 1546.7 L1397.9 1546.5 L1399.4 1546.4 L1400.9 1546.2 L1402.4 1546.1 L1403.9 1545.9 L1405.4 1545.7 L1406.9 1545.4 L1408.4 1545.1 L1409.9 1544.8 L1411.4 1544.5 L1412.9 1544.1 L1414.4 1543.7 L1415.9 1543.3 L1417.4 1542.8 L1418.9 1542.3 L1420.4 1541.7 L1421.9 1541 L1423.4 1540.3 L1424.9 1539.5 L1426.4 1538.7 L1427.9 1537.8 L1429.4 1536.8 L1430.9 1535.7 L1432.4 1534.6 L1433.9 1533.3 L1435.4 1532 L1436.9 1530.6 L1438.4 1529.1 L1439.9 1527.5 L1441.4 1525.7 L1442.9 1523.9 L1444.4 1521.9 L1445.9 1519.9 L1447.4 1517.7 L1448.9 1515.4 L1450.4 1513 L1451.9 1510.5 L1453.4 1507.9 L1454.9 1505.1 L1456.4 1502.3 L1457.9 1499.3 L1459.4 1496.3 L1460.9 1493.1 L1462.4 1489.9 L1463.9 1486.5 L1465.4 1483.1 L1466.9 1479.6 L1468.4 1476 L1469.9 1472.4 L1471.4 1468.8 L1472.9 1465.1 L1474.4 1461.4 L1475.9 1457.7 L1477.4 1453.9 L1478.9 1450.2 L1480.4 1446.6 L1481.9 1442.9 L1483.4 1439.4 L1484.9 1435.9 L1486.4 1432.5 L1487.9 1429.2 L1489.4 1426 L1490.9 1423 L1492.4 1420.1 L1493.9 1417.3 L1495.4 1414.8 L1496.9 1412.4 L1498.4 1410.2 L1499.9 1408.2 L1501.4 1406.5 L1502.9 1405 L1504.4 1403.7 L1505.9 1402.7 L1507.4 1401.9 L1508.9 1401.3 L1510.4 1401 L1511.9 1401 L1513.4 1401.3 L1514.9 1401.7 L1516.4 1402.5 L1517.9 1403.5 L1519.4 1404.7 L1520.9 1406.2 L1522.4 1407.9 L1523.9 1409.8 L1525.4 1411.9 L1526.9 1414.3 L1528.4 1416.8 L1529.9 1419.5 L1531.4 1422.4 L1532.9 1425.4 L1534.4 1428.5 L1535.9 1431.8 L1537.4 1435.2 L1538.9 1438.7 L1540.4 1442.2 L1541.9 1445.8 L1543.4 1449.5 L1544.9 1453.2 L1546.4 1456.9 L1547.9 1460.6 L1549.4 1464.3 L1550.9 1468 L1552.4 1471.7 L1553.9 1475.3 L1555.4 1478.9 L1556.9 1482.4 L1558.4 1485.8 L1559.9 1489.2 L1561.4 1492.5 L1562.9 1495.7 L1564.4 1498.7 L1565.9 1501.7 L1567.4 1504.6 L1568.9 1507.3 L1570.4 1510 L1571.9 1512.5 L1573.4 1515 L1574.9 1517.3 L1576.4 1519.5 L1577.9 1521.5 L1579.4 1523.5 L1580.9 1525.4 L1582.4 1527.1 L1583.9 1528.8 L1585.4 1530.3 L1586.9 1531.7 L1588.4 1533.1 L1589.9 1534.3 L1591.4 1535.5 L1592.9 1536.6 L1594.4 1537.6 L1595.9 1538.5 L1597.4 1539.4 L1598.9 1540.2 L1600.4 1540.9 L1601.9 1541.5 L1603.4 1542.1 L1604.9 1542.7 L1606.4 1543.2 L1607.9 1543.7 L1609.4 1544.1 L1610.9 1544.4 L1612.4 1544.8 L1613.9 1545.1 L1615.4 1545.4 L1616.9 1545.6 L1618.4 1545.8 L1619.9 1546 L1621.4 1546.2 L1622.9 1546.4 L1624.4 1546.5 L1625.9 1546.6 L1627.4 1546.7 L1628.9 1546.8 L1630.4 1546.9 L1631.9 1547 L1633.4 1547.1 L1634.9 1547.1 L1636.4 1547.2 L1637.9 1547.2 L1639.4 1547.3 L1640.9 1547.3 L1642.4 1547.3 L1643.9 1547.3 L1645.4 1547.4 L1646.9 1547.4 L1648.4 1547.4 L1649.9 1547.4 L1651.4 1547.4 L1652.9 1547.4 L1654.4 1547.5 L1655.9 1547.5 L1657.4 1547.5 L1658.9 1547.5 L1660.4 1547.5 L1661.9 1547.5 L1663.4 1547.5 L1664.9 1547.5 L1666.4 1547.5 L1667.9 1547.5 L1669.4 1547.5 L1670.9 1547.5 L1672.4 1547.5 L1673.9 1547.5 L1675.4 1547.5 L1676.9 1547.5 L1678.4 1547.5 L1679.9 1547.5 L1681.4 1547.5 L1682.9 1547.5 L1684.4 1547.5 L1685.9 1547.5 L1687.4 1547.5 L1688.9 1547.5 L1690.4 1547.5 L1691.9 1547.5 L1693.4 1547.5 L1694.9 1547.5 L1696.4 1547.5 L1697.9 1547.5 L1699.4 1547.5 L1700.9 1547.5 L1702.4 1547.5 L1703.9 1547.5 L1705.4 1547.5 L1706.9 1547.5 L1708.4 1547.5 L1709.9 1547.5 L1711.4 1547.5 L1712.9 1547.5 L1714.4 1547.5 L1715.9 1547.5 L1717.4 1547.5 L1718.9 1547.5 L1720.4 1547.5 L1721.9 1547.5 L1723.4 1547.5 L1724.9 1547.5 L1726.4 1547.5 L1727.9 1547.5 L1729.4 1547.5 L1730.9 1547.5 L1732.4 1547.5 L1733.9 1547.5 L1735.4 1547.5 L1736.9 1547.5 L1738.4 1547.5 L1739.9 1547.5 L1741.4 1547.5 L1742.9 1547.5 L1744.4 1547.5 L1745.9 1547.5 L1747.4 1547.5 L1748.9 1547.5 L1750.4 1547.5 L1751.9 1547.5 L1753.4 1547.5 L1754.9 1547.5 L1756.4 1547.5 L1757.9 1547.5 L1759.4 1547.5 L1760.9 1547.5 L1762.4 1547.5 L1763.9 1547.5 L1765.4 1547.5 L1766.9 1547.5 L1768.4 1547.5 L1769.9 1547.5 L1771.4 1547.5 L1772.9 1547.5 L1774.4 1547.5 L1775.9 1547.5 L1777.4 1547.5 L1778.9 1547.5 L1780.4 1547.5 L1781.9 1547.5 L1783.4 1547.5 L1784.9 1547.5 L1786.4 1547.5 L1787.9 1547.5 L1789.4 1547.5 L1790.9 1547.5 L1792.4 1547.5 L1793.9 1547.5 L1795.4 1547.5 L1796.9 1547.5 L1798.4 1547.5 L1799.9 1547.5 L1801.4 1547.5 L1802.9 1547.5 L1804.4 1547.5 L1805.9 1547.5 L1807.4 1547.5 L1808.9 1547.5 L1810.4 1547.5 L1811.9 1547.5 L1813.4 1547.5 L1814.9 1547.5 L1816.4 1547.5 L1817.9 1547.5 L1819.4 1547.5 L1820.9 1547.5 L1822.4 1547.5 L1823.9 1547.5 L1825.4 1547.5 L1826.9 1547.5 L1828.4 1547.5 L1829.9 1547.5 L1831.4 1547.5 L1832.9 1547.5 L1834.4 1547.5 L1835.9 1547.5 L1837.4 1547.5 L1838.9 1547.5 L1840.4 1547.5 L1841.9 1547.5 L1843.4 1547.5 L1844.9 1547.5 L1846.4 1547.5 L1847.9 1547.5 L1849.4 1547.5 L1850.9 1547.5 L1852.4 1547.5 L1853.9 1547.5 L1855.4 1547.5 L1856.9 1547.5 L1858.4 1547.5 L1859.9 1547.5 L1861.4 1547.5 L1862.9 1547.5 L1864.4 1547.5 L1865.9 1547.5 L1867.4 1547.5 L1868.9 1547.5 L1870.4 1547.5 L1871.9 1547.5 L1873.4 1547.5 L1874.9 1547.5 L1876.4 1547.5 L1877.9 1547.5 L1879.4 1547.5 L1880.9 1547.5 L1882.4 1547.5 L1883.9 1547.5 L1885.4 1547.5 L1886.9 1547.5 L1888.4 1547.5 L1889.9 1547.5 L1891.4 1547.5 L1892.9 1547.5 L1894.4 1547.5 L1895.9 1547.5 L1897.4 1547.5 L1898.9 1547.5 L1900.4 1547.5 L1901.9 1547.5 L1903.4 1547.5 L1904.9 1547.5 L1906.4 1547.5 L1907.9 1547.5 L1909.4 1547.5 L1910.9 1547.5 L1912.4 1547.5 L1913.9 1547.5 L1915.4 1547.5 L1916.9 1547.5 L1918.4 1547.5 L1919.9 1547.5 L1921.4 1547.5 L1922.9 1547.5 L1924.4 1547.5 L1925.9 1547.5 L1927.4 1547.5 L1928.9 1547.5 L1930.4 1547.5 L1931.9 1547.5 L1933.4 1547.5 L1934.9 1547.5 L1936.4 1547.5 L1937.9 1547.5 L1939.4 1547.5 L1940.9 1547.5 L1942.4 1547.5 L1943.9 1547.5 L1945.4 1547.5 L1946.9 1547.5 L1948.4 1547.5 L1949.9 1547.5 L1951.4 1547.5 L1952.9 1547.5 L1954.4 1547.5 L1955.9 1547.5 L1957.4 1547.5 L1958.9 1547.5 L1960.4 1547.5 L1961.9 1547.5 L1963.4 1547.5 L1964.9 1547.5 L1966.4 1547.5 L1967.9 1547.5 L1968.5 1547.5" fill="none" stroke="#00ffff" stroke-width="3.6" stroke-linejoin="round"/>
<path d="M1063.4 1544.8 L1064.9 1544.8 L1066.4 1544.7 L1067.9 1544.6 L1069.4 1544.6 L1070.9 1544.5 L1072.4 1544.4 L1073.9 1544.4 L1075.4 1544.3 L1076.9 1544.2 L1078.4 1544.1 L1079.9 1544.1 L1081.4 1544 L1082.9 1543.9 L1084.4 1543.8 L1085.9 1543.7 L1087.4 1543.6 L1088.9 1543.5 L1090.4 1543.4 L1091.9 1543.3 L1093.4 1543.2 L1094.9 1543.1 L1096.4 1543 L1097.9 1542.9 L1099.4 1542.8 L1100.9 1542.6 L1102.4 1542.5 L1103.9 1542.4 L1105.4 1542.2 L1106.9 1542.1 L1108.4 1542 L1109.9 1541.8 L1111.4 1541.7 L1112.9 1541.5 L1114.4 1541.3 L1115.9 1541.2 L1117.4 1541 L1118.9 1540.8 L1120.4 1540.6 L1121.9 1540.5 L1123.4 1540.3 L1124.9 1540.1 L1126.4 1539.9 L1127.9 1539.7 L1129.4 1539.4 L1130.9 1539.2 L1132.4 1539 L1133.9 1538.8 L1135.4 1538.5 L1136.9 1538.3 L1138.4 1538 L1139.9 1537.8 L1141.4 1537.5 L1142.9 1537.3 L1144.4 1537 L1145.9 1536.7 L1147.4 1536.4 L1148.9 1536.1 L1150.4 1535.8 L1151.9 1535.5 L1153.4 1535.2 L1154.9 1534.9 L1156.4 1534.5 L1157.9 1534.2 L1159.4 1533.8 L1160.9 1533.5 L1162.4 1533.1 L1163.9 1532.8 L1165.4 1532.4 L1166.9 1532 L1168.4 1531.6 L1169.9 1531.2 L1171.4 1530.8 L1172.9 1530.4 L1174.4 1530 L1175.9 1529.5 L1177.4 1529.1 L1178.9 1528.6 L1180.4 1528.2 L1181.9 1527.7 L1183.4 1527.2 L1184.9 1526.7 L1186.4 1526.2 L1187.9 1525.7 L1189.4 1525.2 L1190.9 1524.7 L1192.4 1524.2 L1193.9 1523.6 L1195.4 1523.1 L1196.9 1522.5 L1198.4 1521.9 L1199.9 1521.4 L1201.4 1520.8 L1202.9 1520.2 L1204.4 1519.6 L1205.9 1519 L1207.4 1518.4 L1208.9 1517.7 L1210.4 1517.1 L1211.9 1516.4 L1213.4 1515.8 L1214.9 1515.1 L1216.4 1514.4 L1217.9 1513.8 L1219.4 1513.1 L1220.9 1512.4 L1222.4 1511.7 L1223.9 1510.9 L1225.4 1510.2 L1226.9 1509.5 L1228.4 1508.7 L1229.9 1508 L1231.4 1507.2 L1232.9 1506.5 L1234.4 1505.7 L1235.9 1504.9 L1237.4 1504.1 L1238.9 1503.3 L1240.4 1502.5 L1241.9 1501.7 L1243.4 1500.9 L1244.9 1500.1 L1246.4 1499.2 L1247.9 1498.4 L1249.4 1497.6 L1250.9 1496.7 L1252.4 1495.9 L1253.9 1495 L1255.4 1494.1 L1256.9 1493.3 L1258.4 1492.4 L1259.9 1491.5 L1261.4 1490.6 L1262.9 1489.8 L1264.4 1488.9 L1265.9 1488 L1267.4 1487.1 L1268.9 1486.2 L1270.4 1485.3 L1271.9 1484.4 L1273.4 1483.5 L1274.9 1482.6 L1276.4 1481.7 L1277.9 1480.8 L1279.4 1479.8 L1280.9 1478.9 L1282.4 1478 L1283.9 1477.1 L1285.4 1476.2 L1286.9 1475.3 L1288.4 1474.4 L1289.9 1473.5 L1291.4 1472.6 L1292.9 1471.7 L1294.4 1470.8 L1295.9 1469.9 L1297.4 1469 L1298.9 1468.1 L1300.4 1467.2 L1301.9 1466.4 L1303.4 1465.5 L1304.9 1464.6 L1306.4 1463.8 L1307.9 1462.9 L1309.4 1462 L1310.9 1461.2 L1312.4 1460.4 L1313.9 1459.5 L1315.4 1458.7 L1316.9 1457.9 L1318.4 1457.1 L1319.9 1456.3 L1321.4 1455.5 L1322.9 1454.8 L1324.4 1454 L1325.9 1453.2 L1327.4 1452.5 L1328.9 1451.8 L1330.4 1451 L1331.9 1450.3 L1333.4 1449.6 L1334.9 1449 L1336.4 1448.3 L1337.9 1447.6 L1339.4 1447 L1340.9 1446.4 L1342.4 1445.7 L1343.9 1445.1 L1345.4 1444.6 L1346.9 1444 L1348.4 1443.4 L1349.9 1442.9 L1351.4 1442.4 L1352.9 1441.9 L1354.4 1441.4 L1355.9 1440.9 L1357.4 1440.5 L1358.9 1440 L1360.4 1439.6 L1361.9 1439.2 L1363.4 1438.8 L1364.9 1438.5 L1366.4 1438.1 L1367.9 1437.8 L1369.4 1437.5 L1370.9 1437.2 L1372.4 1436.9 L1373.9 1436.7 L1375.4 1436.4 L1376.9 1436.2 L1378.4 1436 L1379.9 1435.9 L1381.4 1435.7 L1382.9 1435.6 L1384.4 1435.5 L1385.9 1435.4 L1387.4 1435.3 L1388.9 1435.2 L1390.4 1435.2 L1391.9 1435.2 L1393.4 1435.2 L1394.9 1435.2 L1396.4 1435.3 L1397.9 1435.4 L1399.4 1435.5 L1400.9 1435.6 L1402.4 1435.7 L1403.9 1435.9 L1405.4 1436.1 L1406.9 1436.2 L1408.4 1436.5 L1409.9 1436.7 L1411.4 1437 L1412.9 1437.2 L1414.4 1437.5 L1415.9 1437.8 L1417.4 1438.2 L1418.9 1438.5 L1420.4 1438.9 L1421.9 1439.3 L1423.4 1439.7 L1424.9 1440.1 L1426.4 1440.5 L1427.9 1441 L1429.4 1441.5 L1430.9 1442 L1432.4 1442.5 L1433.9 1443 L1435.4 1443.5 L1436.9 1444.1 L1438.4 1444.7 L1439.9 1445.2 L1441.4 1445.8 L1442.9 1446.5 L1444.4 1447.1 L1445.9 1447.7 L1447.4 1448.4 L1448.9 1449.1 L1450.4 1449.8 L1451.9 1450.5 L1453.4 1451.2 L1454.9 1451.9 L1456.4 1452.6 L1457.9 1453.4 L1459.4 1454.1 L1460.9 1454.9 L1462.4 1455.7 L1463.9 1456.5 L1465.4 1457.3 L1466.9 1458.1 L1468.4 1458.9 L1469.9 1459.7 L1471.4 1460.5 L1472.9 1461.4 L1474.4 1462.2 L1475.9 1463.1 L1477.4 1463.9 L1478.9 1464.8 L1480.4 1465.7 L1481.9 1466.6 L1483.4 1467.4 L1484.9 1468.3 L1486.4 1469.2 L1487.9 1470.1 L1489.4 1471 L1490.9 1471.9 L1492.4 1472.8 L1493.9 1473.7 L1495.4 1474.6 L1496.9 1475.6 L1498.4 1476.5 L1499.9 1477.4 L1501.4 1478.3 L1502.9 1479.2 L1504.4 1480.1 L1505.9 1481 L1507.4 1482 L1508.9 1482.9 L1510.4 1483.8 L1511.9 1484.7 L1513.4 1485.6 L1514.9 1486.5 L1516.4 1487.4 L1517.9 1488.3 L1519.4 1489.2 L1520.9 1490.1 L1522.4 1491 L1523.9 1491.9 L1525.4 1492.8 L1526.9 1493.7 L1528.4 1494.5 L1529.9 1495.4 L1531.4 1496.3 L1532.9 1497.1 L1534.4 1498 L1535.9 1498.8 L1537.4 1499.7 L1538.9 1500.5 L1540.4 1501.3 L1541.9 1502.1 L1543.4 1503 L1544.9 1503.8 L1546.4 1504.6 L1547.9 1505.4 L1549.4 1506.2 L1550.9 1506.9 L1552.4 1507.7 L1553.9 1508.5 L1555.4 1509.2 L1556.9 1510 L1558.4 1510.7 L1559.9 1511.5 L1561.4 1512.2 L1562.9 1512.9 L1564.4 1513.6 L1565.9 1514.3 L1567.4 1515 L1568.9 1515.7 L1570.4 1516.3 L1571.9 1517 L1573.4 1517.7 L1574.9 1518.3 L1576.4 1518.9 L1577.9 1519.6 L1579.4 1520.2 L1580.9 1520.8 L1582.4 1521.4 L1583.9 1522 L1585.4 1522.6 L1586.9 1523.1 L1588.4 1523.7 L1589.9 1524.3 L1591.4 1524.8 L1592.9 1525.4 L1594.4 1525.9 L1595.9 1526.4 L1597.4 1526.9 L1598.9 1527.4 L1600.4 1527.9 L1601.9 1528.4 L1603.4 1528.9 L1604.9 1529.3 L1606.4 1529.8 L1607.9 1530.2 L1609.4 1530.7 L1610.9 1531.1 L1612.4 1531.5 L1613.9 1532 L1615.4 1532.4 L1616.9 1532.8 L1618.4 1533.2 L1619.9 1533.5 L1621.4 1533.9 L1622.9 1534.3 L1624.4 1534.6 L1625.9 1535 L1627.4 1535.3 L1628.9 1535.7 L1630.4 1536 L1631.9 1536.3 L1633.4 1536.6 L1634.9 1537 L1636.4 1537.3 L1637.9 1537.6 L1639.4 1537.8 L1640.9 1538.1 L1642.4 1538.4 L1643.9 1538.7 L1645.4 1538.9 L1646.9 1539.2 L1648.4 1539.4 L1649.9 1539.7 L1651.4 1539.9 L1652.9 1540.1 L1654.4 1540.4 L1655.9 1540.6 L1657.4 1540.8 L1658.9 1541 L1660.4 1541.2 L1661.9 1541.4 L1663.4 1541.6 L1664.9 1541.8 L1666.4 1542 L1667.9 1542.1 L1669.4 1542.3 L1670.9 1542.5 L1672.4 1542.7 L1673.9 1542.8 L1675.4 1543 L1676.9 1543.1 L1678.4 1543.3 L1679.9 1543.4 L1681.4 1543.5 L1682.9 1543.7 L1684.4 1543.8 L1685.9 1543.9 L1687.4 1544.1 L1688.9 1544.2 L1690.4 1544.3 L1691.9 1544.4 L1693.4 1544.5 L1694.9 1544.6 L1696.4 1544.7 L1697.9 1544.8 L1699.4 1544.9 L1700.9 1545 L1702.4 1545.1 L1703.9 1545.2 L1705.4 1545.3 L1706.9 1545.4 L1708.4 1545.4 L1709.9 1545.5 L1711.4 1545.6 L1712.9 1545.7 L1714.4 1545.7 L1715.9 1545.8 L1717.4 1545.9 L1718.9 1545.9 L1720.4 1546 L1721.9 1546.1 L1723.4 1546.1 L1724.9 1546.2 L1726.4 1546.2 L1727.9 1546.3 L1729.4 1546.3 L1730.9 1546.4 L1732.4 1546.4 L1733.9 1546.5 L1735.4 1546.5 L1736.9 1546.6 L1738.4 1546.6 L1739.9 1546.6 L1741.4 1546.7 L1742.9 1546.7 L1744.4 1546.8 L1745.9 1546.8 L1747.4 1546.8 L1748.9 1546.9 L1750.4 1546.9 L1751.9 1546.9 L1753.4 1546.9 L1754.9 1547 L1756.4 1547 L1757.9 1547 L1759.4 1547 L1760.9 1547.1 L1762.4 1547.1 L1763.9 1547.1 L1765.4 1547.1 L1766.9 1547.1 L1768.4 1547.1 L1769.9 1547.2 L1771.4 1547.2 L1772.9 1547.2 L1774.4 1547.2 L1775.9 1547.2 L1777.4 1547.2 L1778.9 1547.2 L1780.4 1547.3 L1781.9 1547.3 L1783.4 1547.3 L1784.9 1547.3 L1786.4 1547.3 L1787.9 1547.3 L1789.4 1547.3 L1790.9 1547.3 L1792.4 1547.3 L1793.9 1547.3 L1795.4 1547.3 L1796.9 1547.4 L1798.4 1547.4 L1799.9 1547.4 L1801.4 1547.4 L1802.9 1547.4 L1804.4 1547.4 L1805.9 1547.4 L1807.4 1547.4 L1808.9 1547.4 L1810.4 1547.4 L1811.9 1547.4 L1813.4 1547.4 L1814.9 1547.4 L1816.4 1547.4 L1817.9 1547.4 L1819.4 1547.4 L1820.9 1547.4 L1822.4 1547.4 L1823.9 1547.4 L1825.4 1547.4 L1826.9 1547.4 L1828.4 1547.5 L1829.9 1547.5 L1831.4 1547.5 L1832.9 1547.5 L1834.4 1547.5 L1835.9 1547.5 L1837.4 1547.5 L1838.9 1547.5 L1840.4 1547.5 L1841.9 1547.5 L1843.4 1547.5 L1844.9 1547.5 L1846.4 1547.5 L1847.9 1547.5 L1849.4 1547.5 L1850.9 1547.5 L1852.4 1547.5 L1853.9 1547.5 L1855.4 1547.5 L1856.9 1547.5 L1858.4 1547.5 L1859.9 1547.5 L1861.4 1547.5 L1862.9 1547.5 L1864.4 1547.5 L1865.9 1547.5 L1867.4 1547.5 L1868.9 1547.5 L1870.4 1547.5 L1871.9 1547.5 L1873.4 1547.5 L1874.9 1547.5 L1876.4 1547.5 L1877.9 1547.5 L1879.4 1547.5 L1880.9 1547.5 L1882.4 1547.5 L1883.9 1547.5 L1885.4 1547.5 L1886.9 1547.5 L1888.4 1547.5 L1889.9 1547.5 L1891.4 1547.5 L1892.9 1547.5 L1894.4 1547.5 L1895.9 1547.5 L1897.4 1547.5 L1898.9 1547.5 L1900.4 1547.5 L1901.9 1547.5 L1903.4 1547.5 L1904.9 1547.5 L1906.4 1547.5 L1907.9 1547.5 L1909.4 1547.5 L1910.9 1547.5 L1912.4 1547.5 L1913.9 1547.5 L1915.4 1547.5 L1916.9 1547.5 L1918.4 1547.5 L1919.9 1547.5 L1921.4 1547.5 L1922.9 1547.5 L1924.4 1547.5 L1925.9 1547.5 L1927.4 1547.5 L1928.9 1547.5 L1930.4 1547.5 L1931.9 1547.5 L1933.4 1547.5 L1934.9 1547.5 L1936.4 1547.5 L1937.9 1547.5 L1939.4 1547.5 L1940.9 1547.5 L1942.4 1547.5 L1943.9 1547.5 L1945.4 1547.5 L1946.9 1547.5 L1948.4 1547.5 L1949.9 1547.5 L1951.4 1547.5 L1952.9 1547.5 L1954.4 1547.5 L1955.9 1547.5 L1957.4 1547.5 L1958.9 1547.5 L1960.4 1547.5 L1961.9 1547.5 L1963.4 1547.5 L1964.9 1547.5 L1966.4 1547.5 L1967.9 1547.5 L1968.5 1547.5 L1968.5 1547.5 L1063.4 1547.5 Z" fill="url(#g3ceo)" stroke="none"/>
<path d="M1063.4 1544.8 L1064.9 1544.8 L1066.4 1544.7 L1067.9 1544.6 L1069.4 1544.6 L1070.9 1544.5 L1072.4 1544.4 L1073.9 1544.4 L1075.4 1544.3 L1076.9 1544.2 L1078.4 1544.1 L1079.9 1544.1 L1081.4 1544 L1082.9 1543.9 L1084.4 1543.8 L1085.9 1543.7 L1087.4 1543.6 L1088.9 1543.5 L1090.4 1543.4 L1091.9 1543.3 L1093.4 1543.2 L1094.9 1543.1 L1096.4 1543 L1097.9 1542.9 L1099.4 1542.8 L1100.9 1542.6 L1102.4 1542.5 L1103.9 1542.4 L1105.4 1542.2 L1106.9 1542.1 L1108.4 1542 L1109.9 1541.8 L1111.4 1541.7 L1112.9 1541.5 L1114.4 1541.3 L1115.9 1541.2 L1117.4 1541 L1118.9 1540.8 L1120.4 1540.6 L1121.9 1540.5 L1123.4 1540.3 L1124.9 1540.1 L1126.4 1539.9 L1127.9 1539.7 L1129.4 1539.4 L1130.9 1539.2 L1132.4 1539 L1133.9 1538.8 L1135.4 1538.5 L1136.9 1538.3 L1138.4 1538 L1139.9 1537.8 L1141.4 1537.5 L1142.9 1537.3 L1144.4 1537 L1145.9 1536.7 L1147.4 1536.4 L1148.9 1536.1 L1150.4 1535.8 L1151.9 1535.5 L1153.4 1535.2 L1154.9 1534.9 L1156.4 1534.5 L1157.9 1534.2 L1159.4 1533.8 L1160.9 1533.5 L1162.4 1533.1 L1163.9 1532.8 L1165.4 1532.4 L1166.9 1532 L1168.4 1531.6 L1169.9 1531.2 L1171.4 1530.8 L1172.9 1530.4 L1174.4 1530 L1175.9 1529.5 L1177.4 1529.1 L1178.9 1528.6 L1180.4 1528.2 L1181.9 1527.7 L1183.4 1527.2 L1184.9 1526.7 L1186.4 1526.2 L1187.9 1525.7 L1189.4 1525.2 L1190.9 1524.7 L1192.4 1524.2 L1193.9 1523.6 L1195.4 1523.1 L1196.9 1522.5 L1198.4 1521.9 L1199.9 1521.4 L1201.4 1520.8 L1202.9 1520.2 L1204.4 1519.6 L1205.9 1519 L1207.4 1518.4 L1208.9 1517.7 L1210.4 1517.1 L1211.9 1516.4 L1213.4 1515.8 L1214.9 1515.1 L1216.4 1514.4 L1217.9 1513.8 L1219.4 1513.1 L1220.9 1512.4 L1222.4 1511.7 L1223.9 1510.9 L1225.4 1510.2 L1226.9 1509.5 L1228.4 1508.7 L1229.9 1508 L1231.4 1507.2 L1232.9 1506.5 L1234.4 1505.7 L1235.9 1504.9 L1237.4 1504.1 L1238.9 1503.3 L1240.4 1502.5 L1241.9 1501.7 L1243.4 1500.9 L1244.9 1500.1 L1246.4 1499.2 L1247.9 1498.4 L1249.4 1497.6 L1250.9 1496.7 L1252.4 1495.9 L1253.9 1495 L1255.4 1494.1 L1256.9 1493.3 L1258.4 1492.4 L1259.9 1491.5 L1261.4 1490.6 L1262.9 1489.8 L1264.4 1488.9 L1265.9 1488 L1267.4 1487.1 L1268.9 1486.2 L1270.4 1485.3 L1271.9 1484.4 L1273.4 1483.5 L1274.9 1482.6 L1276.4 1481.7 L1277.9 1480.8 L1279.4 1479.8 L1280.9 1478.9 L1282.4 1478 L1283.9 1477.1 L1285.4 1476.2 L1286.9 1475.3 L1288.4 1474.4 L1289.9 1473.5 L1291.4 1472.6 L1292.9 1471.7 L1294.4 1470.8 L1295.9 1469.9 L1297.4 1469 L1298.9 1468.1 L1300.4 1467.2 L1301.9 1466.4 L1303.4 1465.5 L1304.9 1464.6 L1306.4 1463.8 L1307.9 1462.9 L1309.4 1462 L1310.9 1461.2 L1312.4 1460.4 L1313.9 1459.5 L1315.4 1458.7 L1316.9 1457.9 L1318.4 1457.1 L1319.9 1456.3 L1321.4 1455.5 L1322.9 1454.8 L1324.4 1454 L1325.9 1453.2 L1327.4 1452.5 L1328.9 1451.8 L1330.4 1451 L1331.9 1450.3 L1333.4 1449.6 L1334.9 1449 L1336.4 1448.3 L1337.9 1447.6 L1339.4 1447 L1340.9 1446.4 L1342.4 1445.7 L1343.9 1445.1 L1345.4 1444.6 L1346.9 1444 L1348.4 1443.4 L1349.9 1442.9 L1351.4 1442.4 L1352.9 1441.9 L1354.4 1441.4 L1355.9 1440.9 L1357.4 1440.5 L1358.9 1440 L1360.4 1439.6 L1361.9 1439.2 L1363.4 1438.8 L1364.9 1438.5 L1366.4 1438.1 L1367.9 1437.8 L1369.4 1437.5 L1370.9 1437.2 L1372.4 1436.9 L1373.9 1436.7 L1375.4 1436.4 L1376.9 1436.2 L1378.4 1436 L1379.9 1435.9 L1381.4 1435.7 L1382.9 1435.6 L1384.4 1435.5 L1385.9 1435.4 L1387.4 1435.3 L1388.9 1435.2 L1390.4 1435.2 L1391.9 1435.2 L1393.4 1435.2 L1394.9 1435.2 L1396.4 1435.3 L1397.9 1435.4 L1399.4 1435.5 L1400.9 1435.6 L1402.4 1435.7 L1403.9 1435.9 L1405.4 1436.1 L1406.9 1436.2 L1408.4 1436.5 L1409.9 1436.7 L1411.4 1437 L1412.9 1437.2 L1414.4 1437.5 L1415.9 1437.8 L1417.4 1438.2 L1418.9 1438.5 L1420.4 1438.9 L1421.9 1439.3 L1423.4 1439.7 L1424.9 1440.1 L1426.4 1440.5 L1427.9 1441 L1429.4 1441.5 L1430.9 1442 L1432.4 1442.5 L1433.9 1443 L1435.4 1443.5 L1436.9 1444.1 L1438.4 1444.7 L1439.9 1445.2 L1441.4 1445.8 L1442.9 1446.5 L1444.4 1447.1 L1445.9 1447.7 L1447.4 1448.4 L1448.9 1449.1 L1450.4 1449.8 L1451.9 1450.5 L1453.4 1451.2 L1454.9 1451.9 L1456.4 1452.6 L1457.9 1453.4 L1459.4 1454.1 L1460.9 1454.9 L1462.4 1455.7 L1463.9 1456.5 L1465.4 1457.3 L1466.9 1458.1 L1468.4 1458.9 L1469.9 1459.7 L1471.4 1460.5 L1472.9 1461.4 L1474.4 1462.2 L1475.9 1463.1 L1477.4 1463.9 L1478.9 1464.8 L1480.4 1465.7 L1481.9 1466.6 L1483.4 1467.4 L1484.9 1468.3 L1486.4 1469.2 L1487.9 1470.1 L1489.4 1471 L1490.9 1471.9 L1492.4 1472.8 L1493.9 1473.7 L1495.4 1474.6 L1496.9 1475.6 L1498.4 1476.5 L1499.9 1477.4 L1501.4 1478.3 L1502.9 1479.2 L1504.4 1480.1 L1505.9 1481 L1507.4 1482 L1508.9 1482.9 L1510.4 1483.8 L1511.9 1484.7 L1513.4 1485.6 L1514.9 1486.5 L1516.4 1487.4 L1517.9 1488.3 L1519.4 1489.2 L1520.9 1490.1 L1522.4 1491 L1523.9 1491.9 L1525.4 1492.8 L1526.9 1493.7 L1528.4 1494.5 L1529.9 1495.4 L1531.4 1496.3 L1532.9 1497.1 L1534.4 1498 L1535.9 1498.8 L1537.4 1499.7 L1538.9 1500.5 L1540.4 1501.3 L1541.9 1502.1 L1543.4 1503 L1544.9 1503.8 L1546.4 1504.6 L1547.9 1505.4 L1549.4 1506.2 L1550.9 1506.9 L1552.4 1507.7 L1553.9 1508.5 L1555.4 1509.2 L1556.9 1510 L1558.4 1510.7 L1559.9 1511.5 L1561.4 1512.2 L1562.9 1512.9 L1564.4 1513.6 L1565.9 1514.3 L1567.4 1515 L1568.9 1515.7 L1570.4 1516.3 L1571.9 1517 L1573.4 1517.7 L1574.9 1518.3 L1576.4 1518.9 L1577.9 1519.6 L1579.4 1520.2 L1580.9 1520.8 L1582.4 1521.4 L1583.9 1522 L1585.4 1522.6 L1586.9 1523.1 L1588.4 1523.7 L1589.9 1524.3 L1591.4 1524.8 L1592.9 1525.4 L1594.4 1525.9 L1595.9 1526.4 L1597.4 1526.9 L1598.9 1527.4 L1600.4 1527.9 L1601.9 1528.4 L1603.4 1528.9 L1604.9 1529.3 L1606.4 1529.8 L1607.9 1530.2 L1609.4 1530.7 L1610.9 1531.1 L1612.4 1531.5 L1613.9 1532 L1615.4 1532.4 L1616.9 1532.8 L1618.4 1533.2 L1619.9 1533.5 L1621.4 1533.9 L1622.9 1534.3 L1624.4 1534.6 L1625.9 1535 L1627.4 1535.3 L1628.9 1535.7 L1630.4 1536 L1631.9 1536.3 L1633.4 1536.6 L1634.9 1537 L1636.4 1537.3 L1637.9 1537.6 L1639.4 1537.8 L1640.9 1538.1 L1642.4 1538.4 L1643.9 1538.7 L1645.4 1538.9 L1646.9 1539.2 L1648.4 1539.4 L1649.9 1539.7 L1651.4 1539.9 L1652.9 1540.1 L1654.4 1540.4 L1655.9 1540.6 L1657.4 1540.8 L1658.9 1541 L1660.4 1541.2 L1661.9 1541.4 L1663.4 1541.6 L1664.9 1541.8 L1666.4 1542 L1667.9 1542.1 L1669.4 1542.3 L1670.9 1542.5 L1672.4 1542.7 L1673.9 1542.8 L1675.4 1543 L1676.9 1543.1 L1678.4 1543.3 L1679.9 1543.4 L1681.4 1543.5 L1682.9 1543.7 L1684.4 1543.8 L1685.9 1543.9 L1687.4 1544.1 L1688.9 1544.2 L1690.4 1544.3 L1691.9 1544.4 L1693.4 1544.5 L1694.9 1544.6 L1696.4 1544.7 L1697.9 1544.8 L1699.4 1544.9 L1700.9 1545 L1702.4 1545.1 L1703.9 1545.2 L1705.4 1545.3 L1706.9 1545.4 L1708.4 1545.4 L1709.9 1545.5 L1711.4 1545.6 L1712.9 1545.7 L1714.4 1545.7 L1715.9 1545.8 L1717.4 1545.9 L1718.9 1545.9 L1720.4 1546 L1721.9 1546.1 L1723.4 1546.1 L1724.9 1546.2 L1726.4 1546.2 L1727.9 1546.3 L1729.4 1546.3 L1730.9 1546.4 L1732.4 1546.4 L1733.9 1546.5 L1735.4 1546.5 L1736.9 1546.6 L1738.4 1546.6 L1739.9 1546.6 L1741.4 1546.7 L1742.9 1546.7 L1744.4 1546.8 L1745.9 1546.8 L1747.4 1546.8 L1748.9 1546.9 L1750.4 1546.9 L1751.9 1546.9 L1753.4 1546.9 L1754.9 1547 L1756.4 1547 L1757.9 1547 L1759.4 1547 L1760.9 1547.1 L1762.4 1547.1 L1763.9 1547.1 L1765.4 1547.1 L1766.9 1547.1 L1768.4 1547.1 L1769.9 1547.2 L1771.4 1547.2 L1772.9 1547.2 L1774.4 1547.2 L1775.9 1547.2 L1777.4 1547.2 L1778.9 1547.2 L1780.4 1547.3 L1781.9 1547.3 L1783.4 1547.3 L1784.9 1547.3 L1786.4 1547.3 L1787.9 1547.3 L1789.4 1547.3 L1790.9 1547.3 L1792.4 1547.3 L1793.9 1547.3 L1795.4 1547.3 L1796.9 1547.4 L1798.4 1547.4 L1799.9 1547.4 L1801.4 1547.4 L1802.9 1547.4 L1804.4 1547.4 L1805.9 1547.4 L1807.4 1547.4 L1808.9 1547.4 L1810.4 1547.4 L1811.9 1547.4 L1813.4 1547.4 L1814.9 1547.4 L1816.4 1547.4 L1817.9 1547.4 L1819.4 1547.4 L1820.9 1547.4 L1822.4 1547.4 L1823.9 1547.4 L1825.4 1547.4 L1826.9 1547.4 L1828.4 1547.5 L1829.9 1547.5 L1831.4 1547.5 L1832.9 1547.5 L1834.4 1547.5 L1835.9 1547.5 L1837.4 1547.5 L1838.9 1547.5 L1840.4 1547.5 L1841.9 1547.5 L1843.4 1547.5 L1844.9 1547.5 L1846.4 1547.5 L1847.9 1547.5 L1849.4 1547.5 L1850.9 1547.5 L1852.4 1547.5 L1853.9 1547.5 L1855.4 1547.5 L1856.9 1547.5 L1858.4 1547.5 L1859.9 1547.5 L1861.4 1547.5 L1862.9 1547.5 L1864.4 1547.5 L1865.9 1547.5 L1867.4 1547.5 L1868.9 1547.5 L1870.4 1547.5 L1871.9 1547.5 L1873.4 1547.5 L1874.9 1547.5 L1876.4 1547.5 L1877.9 1547.5 L1879.4 1547.5 L1880.9 1547.5 L1882.4 1547.5 L1883.9 1547.5 L1885.4 1547.5 L1886.9 1547.5 L1888.4 1547.5 L1889.9 1547.5 L1891.4 1547.5 L1892.9 1547.5 L1894.4 1547.5 L1895.9 1547.5 L1897.4 1547.5 L1898.9 1547.5 L1900.4 1547.5 L1901.9 1547.5 L1903.4 1547.5 L1904.9 1547.5 L1906.4 1547.5 L1907.9 1547.5 L1909.4 1547.5 L1910.9 1547.5 L1912.4 1547.5 L1913.9 1547.5 L1915.4 1547.5 L1916.9 1547.5 L1918.4 1547.5 L1919.9 1547.5 L1921.4 1547.5 L1922.9 1547.5 L1924.4 1547.5 L1925.9 1547.5 L1927.4 1547.5 L1928.9 1547.5 L1930.4 1547.5 L1931.9 1547.5 L1933.4 1547.5 L1934.9 1547.5 L1936.4 1547.5 L1937.9 1547.5 L1939.4 1547.5 L1940.9 1547.5 L1942.4 1547.5 L1943.9 1547.5 L1945.4 1547.5 L1946.9 1547.5 L1948.4 1547.5 L1949.9 1547.5 L1951.4 1547.5 L1952.9 1547.5 L1954.4 1547.5 L1955.9 1547.5 L1957.4 1547.5 L1958.9 1547.5 L1960.4 1547.5 L1961.9 1547.5 L1963.4 1547.5 L1964.9 1547.5 L1966.4 1547.5 L1967.9 1547.5 L1968.5 1547.5" fill="none" stroke="#800080" stroke-width="3.4" stroke-linejoin="round"/>
<path d="M1063.4 1547 H1968.5" fill="none" stroke="#800080" stroke-width="3.6"/>
<rect x="1063.4" y="878.6" width="905.1" height="727.9" fill="none" stroke="#000" stroke-width="3.7"/>
<path d="M1063.4 1606.5 V1619.5 M1101.1 1606.5 V1613 M1138.8 1606.5 V1619.5 M1176.5 1606.5 V1613 M1214.2 1606.5 V1619.5 M1252 1606.5 V1613 M1289.7 1606.5 V1619.5 M1327.4 1606.5 V1613 M1365.1 1606.5 V1619.5 M1402.8 1606.5 V1613 M1440.5 1606.5 V1619.5 M1478.2 1606.5 V1613 M1516 1606.5 V1619.5 M1553.7 1606.5 V1613 M1591.4 1606.5 V1619.5 M1629.1 1606.5 V1613 M1666.8 1606.5 V1619.5 M1704.5 1606.5 V1613 M1742.2 1606.5 V1619.5 M1779.9 1606.5 V1613 M1817.7 1606.5 V1619.5 M1855.4 1606.5 V1613 M1893.1 1606.5 V1619.5 M1930.8 1606.5 V1613 M1968.5 1606.5 V1619.5" fill="none" stroke="#000" stroke-width="3.7"/>
<g font-size="32.23" text-anchor="middle" stroke="#000" stroke-width="0.6">
<text transform="translate(1063.40,1655.18) scale(0.9485,1)">292</text>
<text transform="translate(1138.83,1655.18) scale(0.9485,1)">291</text>
<text transform="translate(1214.25,1655.18) scale(0.9485,1)">290</text>
<text transform="translate(1289.68,1655.18) scale(0.9485,1)">289</text>
<text transform="translate(1365.10,1655.18) scale(0.9485,1)">288</text>
<text transform="translate(1440.53,1655.18) scale(0.9485,1)">287</text>
<text transform="translate(1515.95,1655.18) scale(0.9485,1)">286</text>
<text transform="translate(1591.38,1655.18) scale(0.9485,1)">285</text>
<text transform="translate(1666.80,1655.18) scale(0.9485,1)">284</text>
<text transform="translate(1742.22,1655.18) scale(0.9485,1)">283</text>
<text transform="translate(1817.65,1655.18) scale(0.9485,1)">282</text>
<text transform="translate(1893.08,1655.18) scale(0.9485,1)">281</text>
<text transform="translate(1968.50,1655.18) scale(0.9485,1)">280</text>
</g>
<text transform="translate(1590.18,958.62) scale(1.0105,1)" font-size="38.02" stroke="#000" stroke-width="0.6">C-N</text>
<text transform="translate(1636.90,1260.72) scale(0.9991,1)" font-size="38.02" stroke="#000" stroke-width="0.6">C-C</text>
<text transform="translate(1465.80,1392.32) scale(1.0042,1)" font-size="37.88" stroke="#000" stroke-width="0.6">C-O</text>
<text transform="translate(1360.70,1415.32) scale(1.0017,1)" font-size="38.02" stroke="#000" stroke-width="0.6">C=O</text>
<text transform="translate(1711.71,1472.32) scale(0.9877,1)" font-size="38.30" stroke="#000" stroke-width="0.6">C=C</text>
</g>
<g id="n1s">
<defs>
<linearGradient id="g4nc" gradientUnits="userSpaceOnUse" x1="0" y1="1884" x2="0" y2="2356.7"><stop offset="0" stop-color="rgb(140,252,135)"/><stop offset="0.35" stop-color="rgb(142,242,200)"/><stop offset="0.6" stop-color="rgb(140,215,235)"/><stop offset="0.75" stop-color="rgb(140,190,250)"/><stop offset="1" stop-color="rgb(148,148,255)"/></linearGradient>
<linearGradient id="g4nh" gradientUnits="userSpaceOnUse" x1="0" y1="2176" x2="0" y2="2356.7"><stop offset="0" stop-color="rgb(0,140,115)"/><stop offset="0.5" stop-color="rgb(0,90,200)"/><stop offset="0.8" stop-color="rgb(0,20,250)"/><stop offset="1" stop-color="rgb(0,0,255)"/></linearGradient>
</defs>
<path d="M29 2356.7 L30.5 2356.7 L32 2356.7 L33.5 2356.7 L35 2356.7 L36.5 2356.7 L38 2356.7 L39.5 2356.7 L41 2356.7 L42.5 2356.7 L44 2356.7 L45.5 2356.7 L47 2356.7 L48.5 2356.7 L50 2356.7 L51.5 2356.7 L53 2356.7 L54.5 2356.7 L56 2356.7 L57.5 2356.7 L59 2356.7 L60.5 2356.7 L62 2356.7 L63.5 2356.7 L65 2356.7 L66.5 2356.7 L68 2356.7 L69.5 2356.7 L71 2356.7 L72.5 2356.7 L74 2356.7 L75.5 2356.7 L77 2356.7 L78.5 2356.7 L80 2356.7 L81.5 2356.7 L83 2356.7 L84.5 2356.7 L86 2356.7 L87.5 2356.7 L89 2356.7 L90.5 2356.7 L92 2356.7 L93.5 2356.7 L95 2356.7 L96.5 2356.7 L98 2356.7 L99.5 2356.7 L101 2356.7 L102.5 2356.7 L104 2356.7 L105.5 2356.7 L107 2356.7 L108.5 2356.7 L110 2356.7 L111.5 2356.7 L113 2356.7 L114.5 2356.7 L116 2356.7 L117.5 2356.7 L119 2356.7 L120.5 2356.7 L122 2356.7 L123.5 2356.7 L125 2356.7 L126.5 2356.7 L128 2356.7 L129.5 2356.7 L131 2356.7 L132.5 2356.7 L134 2356.7 L135.5 2356.7 L137 2356.7 L138.5 2356.7 L140 2356.7 L141.5 2356.7 L143 2356.7 L144.5 2356.7 L146 2356.7 L147.5 2356.7 L149 2356.7 L150.5 2356.7 L152 2356.7 L153.5 2356.7 L155 2356.7 L156.5 2356.7 L158 2356.7 L159.5 2356.7 L161 2356.7 L162.5 2356.7 L164 2356.7 L165.5 2356.7 L167 2356.7 L168.5 2356.7 L170 2356.7 L171.5 2356.7 L173 2356.7 L174.5 2356.7 L176 2356.7 L177.5 2356.7 L179 2356.7 L180.5 2356.7 L182 2356.7 L183.5 2356.6 L185 2356.6 L186.5 2356.6 L188 2356.6 L189.5 2356.6 L191 2356.6 L192.5 2356.6 L194 2356.6 L195.5 2356.6 L197 2356.6 L198.5 2356.6 L200 2356.5 L201.5 2356.5 L203 2356.5 L204.5 2356.5 L206 2356.5 L207.5 2356.4 L209 2356.4 L210.5 2356.4 L212 2356.4 L213.5 2356.3 L215 2356.3 L216.5 2356.3 L218 2356.2 L219.5 2356.2 L221 2356.1 L222.5 2356.1 L224 2356 L225.5 2355.9 L227 2355.9 L228.5 2355.8 L230 2355.7 L231.5 2355.6 L233 2355.5 L234.5 2355.4 L236 2355.3 L237.5 2355.2 L239 2355.1 L240.5 2354.9 L242 2354.8 L243.5 2354.6 L245 2354.4 L246.5 2354.2 L248 2354 L249.5 2353.8 L251 2353.6 L252.5 2353.3 L254 2353.1 L255.5 2352.8 L257 2352.5 L258.5 2352.1 L260 2351.8 L261.5 2351.4 L263 2351 L264.5 2350.6 L266 2350.1 L267.5 2349.6 L269 2349.1 L270.5 2348.5 L272 2348 L273.5 2347.3 L275 2346.7 L276.5 2346 L278 2345.2 L279.5 2344.4 L281 2343.6 L282.5 2342.7 L284 2341.8 L285.5 2340.8 L287 2339.7 L288.5 2338.6 L290 2337.4 L291.5 2336.2 L293 2334.9 L294.5 2333.6 L296 2332.1 L297.5 2330.6 L299 2329 L300.5 2327.4 L302 2325.6 L303.5 2323.8 L305 2321.9 L306.5 2319.9 L308 2317.8 L309.5 2315.6 L311 2313.3 L312.5 2311 L314 2308.5 L315.5 2305.9 L317 2303.2 L318.5 2300.4 L320 2297.5 L321.5 2294.5 L323 2291.3 L324.5 2288.1 L326 2284.7 L327.5 2281.2 L329 2277.6 L330.5 2273.9 L332 2270 L333.5 2266 L335 2261.9 L336.5 2257.7 L338 2253.3 L339.5 2248.8 L341 2244.2 L342.5 2239.4 L344 2234.6 L345.5 2229.6 L347 2224.4 L348.5 2219.2 L350 2213.8 L351.5 2208.3 L353 2202.7 L354.5 2197 L356 2191.1 L357.5 2185.2 L359 2179.1 L360.5 2173 L362 2166.7 L363.5 2160.4 L365 2153.9 L366.5 2147.4 L368 2140.8 L369.5 2134.1 L371 2127.4 L372.5 2120.6 L374 2113.7 L375.5 2106.8 L377 2099.9 L378.5 2092.9 L380 2085.9 L381.5 2078.9 L383 2071.8 L384.5 2064.8 L386 2057.8 L387.5 2050.7 L389 2043.7 L390.5 2036.8 L392 2029.9 L393.5 2023 L395 2016.2 L396.5 2009.5 L398 2002.8 L399.5 1996.3 L401 1989.8 L402.5 1983.5 L404 1977.2 L405.5 1971.1 L407 1965.2 L408.5 1959.4 L410 1953.7 L411.5 1948.2 L413 1942.9 L414.5 1937.8 L416 1932.9 L417.5 1928.1 L419 1923.6 L420.5 1919.3 L422 1915.2 L423.5 1911.4 L425 1907.7 L426.5 1904.4 L428 1901.3 L429.5 1898.4 L431 1895.8 L432.5 1893.4 L434 1891.4 L435.5 1889.6 L437 1888.1 L438.5 1886.8 L440 1885.9 L441.5 1885.2 L443 1884.8 L444.5 1884.7 L446 1884.9 L447.5 1885.3 L449 1886.1 L450.5 1887.1 L452 1888.4 L453.5 1890 L455 1891.9 L456.5 1894 L458 1896.5 L459.5 1899.1 L461 1902.1 L462.5 1905.2 L464 1908.7 L465.5 1912.4 L467 1916.3 L468.5 1920.4 L470 1924.8 L471.5 1929.4 L473 1934.2 L474.5 1939.1 L476 1944.3 L477.5 1949.7 L479 1955.2 L480.5 1960.9 L482 1966.8 L483.5 1972.8 L485 1978.9 L486.5 1985.2 L488 1991.5 L489.5 1998 L491 2004.6 L492.5 2011.3 L494 2018 L495.5 2024.8 L497 2031.7 L498.5 2038.6 L500 2045.6 L501.5 2052.6 L503 2059.6 L504.5 2066.7 L506 2073.7 L507.5 2080.7 L509 2087.8 L510.5 2094.8 L512 2101.7 L513.5 2108.7 L515 2115.6 L516.5 2122.4 L518 2129.2 L519.5 2135.9 L521 2142.6 L522.5 2149.2 L524 2155.7 L525.5 2162.1 L527 2168.4 L528.5 2174.6 L530 2180.8 L531.5 2186.8 L533 2192.7 L534.5 2198.5 L536 2204.2 L537.5 2209.8 L539 2215.3 L540.5 2220.6 L542 2225.8 L543.5 2230.9 L545 2235.9 L546.5 2240.7 L548 2245.4 L549.5 2250 L551 2254.5 L552.5 2258.8 L554 2263 L555.5 2267.1 L557 2271 L558.5 2274.9 L560 2278.6 L561.5 2282.2 L563 2285.6 L564.5 2289 L566 2292.2 L567.5 2295.3 L569 2298.3 L570.5 2301.2 L572 2303.9 L573.5 2306.6 L575 2309.2 L576.5 2311.6 L578 2314 L579.5 2316.2 L581 2318.4 L582.5 2320.4 L584 2322.4 L585.5 2324.3 L587 2326.1 L588.5 2327.8 L590 2329.5 L591.5 2331 L593 2332.5 L594.5 2333.9 L596 2335.3 L597.5 2336.5 L599 2337.8 L600.5 2338.9 L602 2340 L603.5 2341 L605 2342 L606.5 2342.9 L608 2343.8 L609.5 2344.6 L611 2345.4 L612.5 2346.2 L614 2346.9 L615.5 2347.5 L617 2348.1 L618.5 2348.7 L620 2349.2 L621.5 2349.8 L623 2350.2 L624.5 2350.7 L626 2351.1 L627.5 2351.5 L629 2351.9 L630.5 2352.2 L632 2352.6 L633.5 2352.9 L635 2353.1 L636.5 2353.4 L638 2353.6 L639.5 2353.9 L641 2354.1 L642.5 2354.3 L644 2354.5 L645.5 2354.7 L647 2354.8 L648.5 2355 L650 2355.1 L651.5 2355.2 L653 2355.3 L654.5 2355.5 L656 2355.6 L657.5 2355.6 L659 2355.7 L660.5 2355.8 L662 2355.9 L663.5 2356 L665 2356 L666.5 2356.1 L668 2356.1 L669.5 2356.2 L671 2356.2 L672.5 2356.3 L674 2356.3 L675.5 2356.3 L677 2356.4 L678.5 2356.4 L680 2356.4 L681.5 2356.5 L683 2356.5 L684.5 2356.5 L686 2356.5 L687.5 2356.5 L689 2356.5 L690.5 2356.6 L692 2356.6 L693.5 2356.6 L695 2356.6 L696.5 2356.6 L698 2356.6 L699.5 2356.6 L701 2356.6 L702.5 2356.6 L704 2356.6 L705.5 2356.7 L707 2356.7 L708.5 2356.7 L710 2356.7 L711.5 2356.7 L713 2356.7 L714.5 2356.7 L716 2356.7 L717.5 2356.7 L719 2356.7 L720.5 2356.7 L722 2356.7 L723.5 2356.7 L725 2356.7 L726.5 2356.7 L728 2356.7 L729.5 2356.7 L731 2356.7 L732.5 2356.7 L734 2356.7 L735.5 2356.7 L737 2356.7 L738.5 2356.7 L740 2356.7 L741.5 2356.7 L743 2356.7 L744.5 2356.7 L746 2356.7 L747.5 2356.7 L749 2356.7 L750.5 2356.7 L752 2356.7 L753.5 2356.7 L755 2356.7 L756.5 2356.7 L758 2356.7 L759.5 2356.7 L761 2356.7 L762.5 2356.7 L764 2356.7 L765.5 2356.7 L767 2356.7 L768.5 2356.7 L770 2356.7 L771.5 2356.7 L773 2356.7 L774.5 2356.7 L776 2356.7 L777.5 2356.7 L779 2356.7 L780.5 2356.7 L782 2356.7 L783.5 2356.7 L785 2356.7 L786.5 2356.7 L788 2356.7 L789.5 2356.7 L791 2356.7 L792.5 2356.7 L794 2356.7 L795.5 2356.7 L797 2356.7 L798.5 2356.7 L800 2356.7 L801.5 2356.7 L803 2356.7 L804.5 2356.7 L806 2356.7 L807.5 2356.7 L809 2356.7 L810.5 2356.7 L812 2356.7 L813.5 2356.7 L815 2356.7 L816.5 2356.7 L818 2356.7 L819.5 2356.7 L821 2356.7 L822.5 2356.7 L824 2356.7 L825.5 2356.7 L827 2356.7 L828.5 2356.7 L830 2356.7 L831.5 2356.7 L833 2356.7 L834.5 2356.7 L836 2356.7 L837.5 2356.7 L839 2356.7 L840.5 2356.7 L842 2356.7 L843.5 2356.7 L845 2356.7 L846.5 2356.7 L848 2356.7 L849.5 2356.7 L851 2356.7 L852.5 2356.7 L854 2356.7 L855.5 2356.7 L857 2356.7 L858.5 2356.7 L860 2356.7 L861.5 2356.7 L863 2356.7 L864.5 2356.7 L866 2356.7 L867.5 2356.7 L869 2356.7 L870.5 2356.7 L872 2356.7 L873.5 2356.7 L875 2356.7 L876.5 2356.7 L878 2356.7 L879.5 2356.7 L881 2356.7 L882.5 2356.7 L884 2356.7 L885.5 2356.7 L887 2356.7 L888.5 2356.7 L890 2356.7 L891.5 2356.7 L893 2356.7 L894.5 2356.7 L896 2356.7 L897.5 2356.7 L899 2356.7 L900.5 2356.7 L902 2356.7 L903.5 2356.7 L905 2356.7 L906.5 2356.7 L908 2356.7 L909.5 2356.7 L911 2356.7 L912.5 2356.7 L914 2356.7 L915.5 2356.7 L917 2356.7 L918.5 2356.7 L920 2356.7 L921.5 2356.7 L923 2356.7 L924.5 2356.7 L926 2356.7 L927.5 2356.7 L929 2356.7 L930.5 2356.7 L932 2356.7 L933.5 2356.7 L935 2356.7 L936.5 2356.7 L938 2356.7 L939.5 2356.7 L941 2356.7 L942.5 2356.7 L942.7 2356.7 L942.7 2356.7 L29 2356.7 Z" fill="url(#g4nc)" stroke="none"/>
<path d="M29 2356.7 L30.5 2356.7 L32 2356.7 L33.5 2356.7 L35 2356.7 L36.5 2356.7 L38 2356.7 L39.5 2356.7 L41 2356.7 L42.5 2356.7 L44 2356.7 L45.5 2356.7 L47 2356.7 L48.5 2356.7 L50 2356.7 L51.5 2356.7 L53 2356.7 L54.5 2356.7 L56 2356.7 L57.5 2356.7 L59 2356.7 L60.5 2356.7 L62 2356.7 L63.5 2356.7 L65 2356.7 L66.5 2356.7 L68 2356.7 L69.5 2356.7 L71 2356.7 L72.5 2356.7 L74 2356.7 L75.5 2356.7 L77 2356.7 L78.5 2356.7 L80 2356.7 L81.5 2356.7 L83 2356.7 L84.5 2356.7 L86 2356.7 L87.5 2356.7 L89 2356.7 L90.5 2356.7 L92 2356.7 L93.5 2356.7 L95 2356.7 L96.5 2356.7 L98 2356.7 L99.5 2356.7 L101 2356.7 L102.5 2356.7 L104 2356.7 L105.5 2356.7 L107 2356.7 L108.5 2356.7 L110 2356.7 L111.5 2356.7 L113 2356.7 L114.5 2356.7 L116 2356.7 L117.5 2356.7 L119 2356.7 L120.5 2356.7 L122 2356.7 L123.5 2356.7 L125 2356.7 L126.5 2356.7 L128 2356.7 L129.5 2356.7 L131 2356.7 L132.5 2356.7 L134 2356.7 L135.5 2356.7 L137 2356.7 L138.5 2356.7 L140 2356.7 L141.5 2356.7 L143 2356.7 L144.5 2356.7 L146 2356.7 L147.5 2356.7 L149 2356.7 L150.5 2356.7 L152 2356.7 L153.5 2356.7 L155 2356.7 L156.5 2356.7 L158 2356.7 L159.5 2356.7 L161 2356.7 L162.5 2356.7 L164 2356.7 L165.5 2356.7 L167 2356.7 L168.5 2356.7 L170 2356.7 L171.5 2356.7 L173 2356.7 L174.5 2356.7 L176 2356.7 L177.5 2356.7 L179 2356.7 L180.5 2356.7 L182 2356.7 L183.5 2356.7 L185 2356.7 L186.5 2356.7 L188 2356.7 L189.5 2356.7 L191 2356.7 L192.5 2356.7 L194 2356.7 L195.5 2356.7 L197 2356.7 L198.5 2356.7 L200 2356.7 L201.5 2356.7 L203 2356.7 L204.5 2356.7 L206 2356.7 L207.5 2356.7 L209 2356.7 L210.5 2356.7 L212 2356.7 L213.5 2356.7 L215 2356.7 L216.5 2356.7 L218 2356.7 L219.5 2356.7 L221 2356.7 L222.5 2356.7 L224 2356.7 L225.5 2356.7 L227 2356.7 L228.5 2356.7 L230 2356.7 L231.5 2356.7 L233 2356.7 L234.5 2356.7 L236 2356.7 L237.5 2356.7 L239 2356.7 L240.5 2356.7 L242 2356.7 L243.5 2356.7 L245 2356.7 L246.5 2356.7 L248 2356.7 L249.5 2356.7 L251 2356.7 L252.5 2356.7 L254 2356.7 L255.5 2356.7 L257 2356.7 L258.5 2356.7 L260 2356.7 L261.5 2356.7 L263 2356.7 L264.5 2356.7 L266 2356.7 L267.5 2356.7 L269 2356.7 L270.5 2356.7 L272 2356.7 L273.5 2356.7 L275 2356.7 L276.5 2356.7 L278 2356.7 L279.5 2356.7 L281 2356.7 L282.5 2356.7 L284 2356.7 L285.5 2356.7 L287 2356.7 L288.5 2356.7 L290 2356.7 L291.5 2356.7 L293 2356.7 L294.5 2356.7 L296 2356.7 L297.5 2356.7 L299 2356.7 L300.5 2356.7 L302 2356.7 L303.5 2356.7 L305 2356.7 L306.5 2356.7 L308 2356.7 L309.5 2356.7 L311 2356.7 L312.5 2356.7 L314 2356.7 L315.5 2356.7 L317 2356.7 L318.5 2356.7 L320 2356.7 L321.5 2356.7 L323 2356.7 L324.5 2356.7 L326 2356.7 L327.5 2356.7 L329 2356.7 L330.5 2356.7 L332 2356.7 L333.5 2356.7 L335 2356.7 L336.5 2356.7 L338 2356.7 L339.5 2356.7 L341 2356.7 L342.5 2356.7 L344 2356.7 L345.5 2356.7 L347 2356.7 L348.5 2356.7 L350 2356.7 L351.5 2356.7 L353 2356.7 L354.5 2356.7 L356 2356.7 L357.5 2356.7 L359 2356.7 L360.5 2356.7 L362 2356.7 L363.5 2356.7 L365 2356.7 L366.5 2356.7 L368 2356.7 L369.5 2356.7 L371 2356.7 L372.5 2356.7 L374 2356.7 L375.5 2356.7 L377 2356.7 L378.5 2356.7 L380 2356.7 L381.5 2356.7 L383 2356.7 L384.5 2356.7 L386 2356.7 L387.5 2356.7 L389 2356.7 L390.5 2356.7 L392 2356.7 L393.5 2356.7 L395 2356.7 L396.5 2356.7 L398 2356.7 L399.5 2356.7 L401 2356.7 L402.5 2356.7 L404 2356.7 L405.5 2356.7 L407 2356.7 L408.5 2356.7 L410 2356.7 L411.5 2356.7 L413 2356.7 L414.5 2356.7 L416 2356.7 L417.5 2356.7 L419 2356.7 L420.5 2356.7 L422 2356.7 L423.5 2356.7 L425 2356.7 L426.5 2356.7 L428 2356.7 L429.5 2356.7 L431 2356.7 L432.5 2356.7 L434 2356.7 L435.5 2356.6 L437 2356.6 L438.5 2356.6 L440 2356.6 L441.5 2356.5 L443 2356.5 L444.5 2356.4 L446 2356.3 L447.5 2356.2 L449 2356.1 L450.5 2355.9 L452 2355.7 L453.5 2355.4 L455 2355.1 L456.5 2354.7 L458 2354.3 L459.5 2353.7 L461 2353.1 L462.5 2352.3 L464 2351.4 L465.5 2350.3 L467 2349 L468.5 2347.6 L470 2345.9 L471.5 2344 L473 2341.8 L474.5 2339.3 L476 2336.5 L477.5 2333.4 L479 2329.9 L480.5 2326.1 L482 2321.8 L483.5 2317.2 L485 2312.2 L486.5 2306.7 L488 2300.9 L489.5 2294.8 L491 2288.2 L492.5 2281.4 L494 2274.3 L495.5 2267 L497 2259.4 L498.5 2251.8 L500 2244.2 L501.5 2236.5 L503 2229 L504.5 2221.6 L506 2214.6 L507.5 2207.9 L509 2201.7 L510.5 2195.9 L512 2190.8 L513.5 2186.4 L515 2182.7 L516.5 2179.8 L518 2177.7 L519.5 2176.5 L521 2176.2 L522.5 2176.8 L524 2178.2 L525.5 2180.5 L527 2183.6 L528.5 2187.5 L530 2192.1 L531.5 2197.4 L533 2203.3 L534.5 2209.6 L536 2216.4 L537.5 2223.6 L539 2231 L540.5 2238.5 L542 2246.2 L543.5 2253.9 L545 2261.5 L546.5 2268.9 L548 2276.2 L549.5 2283.3 L551 2290 L552.5 2296.4 L554 2302.5 L555.5 2308.2 L557 2313.5 L558.5 2318.5 L560 2323 L561.5 2327.1 L563 2330.9 L564.5 2334.3 L566 2337.3 L567.5 2340 L569 2342.4 L570.5 2344.5 L572 2346.4 L573.5 2348 L575 2349.4 L576.5 2350.6 L578 2351.6 L579.5 2352.5 L581 2353.2 L582.5 2353.9 L584 2354.4 L585.5 2354.8 L587 2355.2 L588.5 2355.5 L590 2355.7 L591.5 2355.9 L593 2356.1 L594.5 2356.2 L596 2356.3 L597.5 2356.4 L599 2356.5 L600.5 2356.5 L602 2356.6 L603.5 2356.6 L605 2356.6 L606.5 2356.6 L608 2356.7 L609.5 2356.7 L611 2356.7 L612.5 2356.7 L614 2356.7 L615.5 2356.7 L617 2356.7 L618.5 2356.7 L620 2356.7 L621.5 2356.7 L623 2356.7 L624.5 2356.7 L626 2356.7 L627.5 2356.7 L629 2356.7 L630.5 2356.7 L632 2356.7 L633.5 2356.7 L635 2356.7 L636.5 2356.7 L638 2356.7 L639.5 2356.7 L641 2356.7 L642.5 2356.7 L644 2356.7 L645.5 2356.7 L647 2356.7 L648.5 2356.7 L650 2356.7 L651.5 2356.7 L653 2356.7 L654.5 2356.7 L656 2356.7 L657.5 2356.7 L659 2356.7 L660.5 2356.7 L662 2356.7 L663.5 2356.7 L665 2356.7 L666.5 2356.7 L668 2356.7 L669.5 2356.7 L671 2356.7 L672.5 2356.7 L674 2356.7 L675.5 2356.7 L677 2356.7 L678.5 2356.7 L680 2356.7 L681.5 2356.7 L683 2356.7 L684.5 2356.7 L686 2356.7 L687.5 2356.7 L689 2356.7 L690.5 2356.7 L692 2356.7 L693.5 2356.7 L695 2356.7 L696.5 2356.7 L698 2356.7 L699.5 2356.7 L701 2356.7 L702.5 2356.7 L704 2356.7 L705.5 2356.7 L707 2356.7 L708.5 2356.7 L710 2356.7 L711.5 2356.7 L713 2356.7 L714.5 2356.7 L716 2356.7 L717.5 2356.7 L719 2356.7 L720.5 2356.7 L722 2356.7 L723.5 2356.7 L725 2356.7 L726.5 2356.7 L728 2356.7 L729.5 2356.7 L731 2356.7 L732.5 2356.7 L734 2356.7 L735.5 2356.7 L737 2356.7 L738.5 2356.7 L740 2356.7 L741.5 2356.7 L743 2356.7 L744.5 2356.7 L746 2356.7 L747.5 2356.7 L749 2356.7 L750.5 2356.7 L752 2356.7 L753.5 2356.7 L755 2356.7 L756.5 2356.7 L758 2356.7 L759.5 2356.7 L761 2356.7 L762.5 2356.7 L764 2356.7 L765.5 2356.7 L767 2356.7 L768.5 2356.7 L770 2356.7 L771.5 2356.7 L773 2356.7 L774.5 2356.7 L776 2356.7 L777.5 2356.7 L779 2356.7 L780.5 2356.7 L782 2356.7 L783.5 2356.7 L785 2356.7 L786.5 2356.7 L788 2356.7 L789.5 2356.7 L791 2356.7 L792.5 2356.7 L794 2356.7 L795.5 2356.7 L797 2356.7 L798.5 2356.7 L800 2356.7 L801.5 2356.7 L803 2356.7 L804.5 2356.7 L806 2356.7 L807.5 2356.7 L809 2356.7 L810.5 2356.7 L812 2356.7 L813.5 2356.7 L815 2356.7 L816.5 2356.7 L818 2356.7 L819.5 2356.7 L821 2356.7 L822.5 2356.7 L824 2356.7 L825.5 2356.7 L827 2356.7 L828.5 2356.7 L830 2356.7 L831.5 2356.7 L833 2356.7 L834.5 2356.7 L836 2356.7 L837.5 2356.7 L839 2356.7 L840.5 2356.7 L842 2356.7 L843.5 2356.7 L845 2356.7 L846.5 2356.7 L848 2356.7 L849.5 2356.7 L851 2356.7 L852.5 2356.7 L854 2356.7 L855.5 2356.7 L857 2356.7 L858.5 2356.7 L860 2356.7 L861.5 2356.7 L863 2356.7 L864.5 2356.7 L866 2356.7 L867.5 2356.7 L869 2356.7 L870.5 2356.7 L872 2356.7 L873.5 2356.7 L875 2356.7 L876.5 2356.7 L878 2356.7 L879.5 2356.7 L881 2356.7 L882.5 2356.7 L884 2356.7 L885.5 2356.7 L887 2356.7 L888.5 2356.7 L890 2356.7 L891.5 2356.7 L893 2356.7 L894.5 2356.7 L896 2356.7 L897.5 2356.7 L899 2356.7 L900.5 2356.7 L902 2356.7 L903.5 2356.7 L905 2356.7 L906.5 2356.7 L908 2356.7 L909.5 2356.7 L911 2356.7 L912.5 2356.7 L914 2356.7 L915.5 2356.7 L917 2356.7 L918.5 2356.7 L920 2356.7 L921.5 2356.7 L923 2356.7 L924.5 2356.7 L926 2356.7 L927.5 2356.7 L929 2356.7 L930.5 2356.7 L932 2356.7 L933.5 2356.7 L935 2356.7 L936.5 2356.7 L938 2356.7 L939.5 2356.7 L941 2356.7 L942.5 2356.7 L942.7 2356.7 L942.7 2356.7 L29 2356.7 Z" fill="url(#g4nh)" stroke="none"/>
<path d="M29 2356.7 L30.5 2356.7 L32 2356.7 L33.5 2356.7 L35 2356.7 L36.5 2356.7 L38 2356.7 L39.5 2356.7 L41 2356.7 L42.5 2356.7 L44 2356.7 L45.5 2356.7 L47 2356.7 L48.5 2356.7 L50 2356.7 L51.5 2356.7 L53 2356.7 L54.5 2356.7 L56 2356.7 L57.5 2356.7 L59 2356.7 L60.5 2356.7 L62 2356.7 L63.5 2356.7 L65 2356.7 L66.5 2356.7 L68 2356.7 L69.5 2356.7 L71 2356.7 L72.5 2356.7 L74 2356.7 L75.5 2356.7 L77 2356.7 L78.5 2356.7 L80 2356.7 L81.5 2356.7 L83 2356.7 L84.5 2356.7 L86 2356.7 L87.5 2356.7 L89 2356.7 L90.5 2356.7 L92 2356.7 L93.5 2356.7 L95 2356.7 L96.5 2356.7 L98 2356.7 L99.5 2356.7 L101 2356.7 L102.5 2356.7 L104 2356.7 L105.5 2356.7 L107 2356.7 L108.5 2356.7 L110 2356.7 L111.5 2356.7 L113 2356.7 L114.5 2356.7 L116 2356.7 L117.5 2356.7 L119 2356.7 L120.5 2356.7 L122 2356.7 L123.5 2356.7 L125 2356.7 L126.5 2356.7 L128 2356.7 L129.5 2356.7 L131 2356.7 L132.5 2356.7 L134 2356.7 L135.5 2356.7 L137 2356.7 L138.5 2356.7 L140 2356.7 L141.5 2356.7 L143 2356.7 L144.5 2356.7 L146 2356.7 L147.5 2356.7 L149 2356.7 L150.5 2356.7 L152 2356.7 L153.5 2356.7 L155 2356.7 L156.5 2356.7 L158 2356.7 L159.5 2356.7 L161 2356.7 L162.5 2356.7 L164 2356.7 L165.5 2356.7 L167 2356.7 L168.5 2356.7 L170 2356.7 L171.5 2356.7 L173 2356.7 L174.5 2356.7 L176 2356.7 L177.5 2356.7 L179 2356.7 L180.5 2356.7 L182 2356.7 L183.5 2356.7 L185 2356.7 L186.5 2356.7 L188 2356.7 L189.5 2356.7 L191 2356.7 L192.5 2356.7 L194 2356.7 L195.5 2356.7 L197 2356.7 L198.5 2356.7 L200 2356.7 L201.5 2356.7 L203 2356.7 L204.5 2356.7 L206 2356.7 L207.5 2356.7 L209 2356.7 L210.5 2356.7 L212 2356.7 L213.5 2356.7 L215 2356.7 L216.5 2356.7 L218 2356.7 L219.5 2356.7 L221 2356.7 L222.5 2356.7 L224 2356.7 L225.5 2356.7 L227 2356.7 L228.5 2356.7 L230 2356.7 L231.5 2356.7 L233 2356.7 L234.5 2356.7 L236 2356.7 L237.5 2356.7 L239 2356.7 L240.5 2356.7 L242 2356.7 L243.5 2356.7 L245 2356.7 L246.5 2356.7 L248 2356.7 L249.5 2356.7 L251 2356.7 L252.5 2356.7 L254 2356.7 L255.5 2356.7 L257 2356.7 L258.5 2356.7 L260 2356.7 L261.5 2356.7 L263 2356.7 L264.5 2356.7 L266 2356.7 L267.5 2356.7 L269 2356.7 L270.5 2356.7 L272 2356.7 L273.5 2356.7 L275 2356.7 L276.5 2356.7 L278 2356.7 L279.5 2356.7 L281 2356.7 L282.5 2356.7 L284 2356.7 L285.5 2356.7 L287 2356.7 L288.5 2356.7 L290 2356.7 L291.5 2356.7 L293 2356.7 L294.5 2356.7 L296 2356.7 L297.5 2356.7 L299 2356.7 L300.5 2356.7 L302 2356.7 L303.5 2356.7 L305 2356.7 L306.5 2356.7 L308 2356.7 L309.5 2356.7 L311 2356.7 L312.5 2356.7 L314 2356.7 L315.5 2356.7 L317 2356.7 L318.5 2356.7 L320 2356.7 L321.5 2356.7 L323 2356.7 L324.5 2356.7 L326 2356.7 L327.5 2356.7 L329 2356.7 L330.5 2356.7 L332 2356.7 L333.5 2356.7 L335 2356.7 L336.5 2356.7 L338 2356.7 L339.5 2356.7 L341 2356.7 L342.5 2356.7 L344 2356.7 L345.5 2356.7 L347 2356.7 L348.5 2356.7 L350 2356.7 L351.5 2356.7 L353 2356.7 L354.5 2356.7 L356 2356.7 L357.5 2356.7 L359 2356.7 L360.5 2356.7 L362 2356.7 L363.5 2356.7 L365 2356.7 L366.5 2356.7 L368 2356.7 L369.5 2356.7 L371 2356.7 L372.5 2356.7 L374 2356.7 L375.5 2356.7 L377 2356.7 L378.5 2356.7 L380 2356.7 L381.5 2356.7 L383 2356.7 L384.5 2356.7 L386 2356.7 L387.5 2356.7 L389 2356.7 L390.5 2356.7 L392 2356.7 L393.5 2356.7 L395 2356.7 L396.5 2356.7 L398 2356.7 L399.5 2356.7 L401 2356.7 L402.5 2356.7 L404 2356.7 L405.5 2356.7 L407 2356.7 L408.5 2356.7 L410 2356.7 L411.5 2356.7 L413 2356.7 L414.5 2356.7 L416 2356.7 L417.5 2356.7 L419 2356.7 L420.5 2356.7 L422 2356.7 L423.5 2356.7 L425 2356.7 L426.5 2356.7 L428 2356.7 L429.5 2356.7 L431 2356.7 L432.5 2356.7 L434 2356.7 L435.5 2356.6 L437 2356.6 L438.5 2356.6 L440 2356.6 L441.5 2356.5 L443 2356.5 L444.5 2356.4 L446 2356.3 L447.5 2356.2 L449 2356.1 L450.5 2355.9 L452 2355.7 L453.5 2355.4 L455 2355.1 L456.5 2354.7 L458 2354.3 L459.5 2353.7 L461 2353.1 L462.5 2352.3 L464 2351.4 L465.5 2350.3 L467 2349 L468.5 2347.6 L470 2345.9 L471.5 2344 L473 2341.8 L474.5 2339.3 L476 2336.5 L477.5 2333.4 L479 2329.9 L480.5 2326.1 L482 2321.8 L483.5 2317.2 L485 2312.2 L486.5 2306.7 L488 2300.9 L489.5 2294.8 L491 2288.2 L492.5 2281.4 L494 2274.3 L495.5 2267 L497 2259.4 L498.5 2251.8 L500 2244.2 L501.5 2236.5 L503 2229 L504.5 2221.6 L506 2214.6 L507.5 2207.9 L509 2201.7 L510.5 2195.9 L512 2190.8 L513.5 2186.4 L515 2182.7 L516.5 2179.8 L518 2177.7 L519.5 2176.5 L521 2176.2 L522.5 2176.8 L524 2178.2 L525.5 2180.5 L527 2183.6 L528.5 2187.5 L530 2192.1 L531.5 2197.4 L533 2203.3 L534.5 2209.6 L536 2216.4 L537.5 2223.6 L539 2231 L540.5 2238.5 L542 2246.2 L543.5 2253.9 L545 2261.5 L546.5 2268.9 L548 2276.2 L549.5 2283.3 L551 2290 L552.5 2296.4 L554 2302.5 L555.5 2308.2 L557 2313.5 L558.5 2318.5 L560 2323 L561.5 2327.1 L563 2330.9 L564.5 2334.3 L566 2337.3 L567.5 2340 L569 2342.4 L570.5 2344.5 L572 2346.4 L573.5 2348 L575 2349.4 L576.5 2350.6 L578 2351.6 L579.5 2352.5 L581 2353.2 L582.5 2353.9 L584 2354.4 L585.5 2354.8 L587 2355.2 L588.5 2355.5 L590 2355.7 L591.5 2355.9 L593 2356.1 L594.5 2356.2 L596 2356.3 L597.5 2356.4 L599 2356.5 L600.5 2356.5 L602 2356.6 L603.5 2356.6 L605 2356.6 L606.5 2356.6 L608 2356.7 L609.5 2356.7 L611 2356.7 L612.5 2356.7 L614 2356.7 L615.5 2356.7 L617 2356.7 L618.5 2356.7 L620 2356.7 L621.5 2356.7 L623 2356.7 L624.5 2356.7 L626 2356.7 L627.5 2356.7 L629 2356.7 L630.5 2356.7 L632 2356.7 L633.5 2356.7 L635 2356.7 L636.5 2356.7 L638 2356.7 L639.5 2356.7 L641 2356.7 L642.5 2356.7 L644 2356.7 L645.5 2356.7 L647 2356.7 L648.5 2356.7 L650 2356.7 L651.5 2356.7 L653 2356.7 L654.5 2356.7 L656 2356.7 L657.5 2356.7 L659 2356.7 L660.5 2356.7 L662 2356.7 L663.5 2356.7 L665 2356.7 L666.5 2356.7 L668 2356.7 L669.5 2356.7 L671 2356.7 L672.5 2356.7 L674 2356.7 L675.5 2356.7 L677 2356.7 L678.5 2356.7 L680 2356.7 L681.5 2356.7 L683 2356.7 L684.5 2356.7 L686 2356.7 L687.5 2356.7 L689 2356.7 L690.5 2356.7 L692 2356.7 L693.5 2356.7 L695 2356.7 L696.5 2356.7 L698 2356.7 L699.5 2356.7 L701 2356.7 L702.5 2356.7 L704 2356.7 L705.5 2356.7 L707 2356.7 L708.5 2356.7 L710 2356.7 L711.5 2356.7 L713 2356.7 L714.5 2356.7 L716 2356.7 L717.5 2356.7 L719 2356.7 L720.5 2356.7 L722 2356.7 L723.5 2356.7 L725 2356.7 L726.5 2356.7 L728 2356.7 L729.5 2356.7 L731 2356.7 L732.5 2356.7 L734 2356.7 L735.5 2356.7 L737 2356.7 L738.5 2356.7 L740 2356.7 L741.5 2356.7 L743 2356.7 L744.5 2356.7 L746 2356.7 L747.5 2356.7 L749 2356.7 L750.5 2356.7 L752 2356.7 L753.5 2356.7 L755 2356.7 L756.5 2356.7 L758 2356.7 L759.5 2356.7 L761 2356.7 L762.5 2356.7 L764 2356.7 L765.5 2356.7 L767 2356.7 L768.5 2356.7 L770 2356.7 L771.5 2356.7 L773 2356.7 L774.5 2356.7 L776 2356.7 L777.5 2356.7 L779 2356.7 L780.5 2356.7 L782 2356.7 L783.5 2356.7 L785 2356.7 L786.5 2356.7 L788 2356.7 L789.5 2356.7 L791 2356.7 L792.5 2356.7 L794 2356.7 L795.5 2356.7 L797 2356.7 L798.5 2356.7 L800 2356.7 L801.5 2356.7 L803 2356.7 L804.5 2356.7 L806 2356.7 L807.5 2356.7 L809 2356.7 L810.5 2356.7 L812 2356.7 L813.5 2356.7 L815 2356.7 L816.5 2356.7 L818 2356.7 L819.5 2356.7 L821 2356.7 L822.5 2356.7 L824 2356.7 L825.5 2356.7 L827 2356.7 L828.5 2356.7 L830 2356.7 L831.5 2356.7 L833 2356.7 L834.5 2356.7 L836 2356.7 L837.5 2356.7 L839 2356.7 L840.5 2356.7 L842 2356.7 L843.5 2356.7 L845 2356.7 L846.5 2356.7 L848 2356.7 L849.5 2356.7 L851 2356.7 L852.5 2356.7 L854 2356.7 L855.5 2356.7 L857 2356.7 L858.5 2356.7 L860 2356.7 L861.5 2356.7 L863 2356.7 L864.5 2356.7 L866 2356.7 L867.5 2356.7 L869 2356.7 L870.5 2356.7 L872 2356.7 L873.5 2356.7 L875 2356.7 L876.5 2356.7 L878 2356.7 L879.5 2356.7 L881 2356.7 L882.5 2356.7 L884 2356.7 L885.5 2356.7 L887 2356.7 L888.5 2356.7 L890 2356.7 L891.5 2356.7 L893 2356.7 L894.5 2356.7 L896 2356.7 L897.5 2356.7 L899 2356.7 L900.5 2356.7 L902 2356.7 L903.5 2356.7 L905 2356.7 L906.5 2356.7 L908 2356.7 L909.5 2356.7 L911 2356.7 L912.5 2356.7 L914 2356.7 L915.5 2356.7 L917 2356.7 L918.5 2356.7 L920 2356.7 L921.5 2356.7 L923 2356.7 L924.5 2356.7 L926 2356.7 L927.5 2356.7 L929 2356.7 L930.5 2356.7 L932 2356.7 L933.5 2356.7 L935 2356.7 L936.5 2356.7 L938 2356.7 L939.5 2356.7 L941 2356.7 L942.5 2356.7 L942.7 2356.7" fill="none" stroke="rgb(185,25,75)" stroke-width="2.2" stroke-linejoin="round"/>
<path d="M29 2356.7 L30.5 2356.7 L32 2356.7 L33.5 2356.7 L35 2356.7 L36.5 2356.7 L38 2356.7 L39.5 2356.7 L41 2356.7 L42.5 2356.7 L44 2356.7 L45.5 2356.7 L47 2356.7 L48.5 2356.7 L50 2356.7 L51.5 2356.7 L53 2356.7 L54.5 2356.7 L56 2356.7 L57.5 2356.7 L59 2356.7 L60.5 2356.7 L62 2356.7 L63.5 2356.7 L65 2356.7 L66.5 2356.7 L68 2356.7 L69.5 2356.7 L71 2356.7 L72.5 2356.7 L74 2356.7 L75.5 2356.7 L77 2356.7 L78.5 2356.7 L80 2356.7 L81.5 2356.7 L83 2356.7 L84.5 2356.7 L86 2356.7 L87.5 2356.7 L89 2356.7 L90.5 2356.7 L92 2356.7 L93.5 2356.7 L95 2356.7 L96.5 2356.7 L98 2356.7 L99.5 2356.7 L101 2356.7 L102.5 2356.7 L104 2356.7 L105.5 2356.7 L107 2356.7 L108.5 2356.7 L110 2356.7 L111.5 2356.7 L113 2356.7 L114.5 2356.7 L116 2356.7 L117.5 2356.7 L119 2356.7 L120.5 2356.7 L122 2356.7 L123.5 2356.7 L125 2356.7 L126.5 2356.7 L128 2356.7 L129.5 2356.7 L131 2356.7 L132.5 2356.7 L134 2356.7 L135.5 2356.7 L137 2356.7 L138.5 2356.7 L140 2356.7 L141.5 2356.7 L143 2356.7 L144.5 2356.7 L146 2356.7 L147.5 2356.7 L149 2356.7 L150.5 2356.7 L152 2356.7 L153.5 2356.7 L155 2356.7 L156.5 2356.7 L158 2356.7 L159.5 2356.7 L161 2356.7 L162.5 2356.7 L164 2356.7 L165.5 2356.7 L167 2356.7 L168.5 2356.7 L170 2356.7 L171.5 2356.7 L173 2356.7 L174.5 2356.7 L176 2356.7 L177.5 2356.7 L179 2356.7 L180.5 2356.7 L182 2356.7 L183.5 2356.6 L185 2356.6 L186.5 2356.6 L188 2356.6 L189.5 2356.6 L191 2356.6 L192.5 2356.6 L194 2356.6 L195.5 2356.6 L197 2356.6 L198.5 2356.6 L200 2356.5 L201.5 2356.5 L203 2356.5 L204.5 2356.5 L206 2356.5 L207.5 2356.4 L209 2356.4 L210.5 2356.4 L212 2356.4 L213.5 2356.3 L215 2356.3 L216.5 2356.3 L218 2356.2 L219.5 2356.2 L221 2356.1 L222.5 2356.1 L224 2356 L225.5 2355.9 L227 2355.9 L228.5 2355.8 L230 2355.7 L231.5 2355.6 L233 2355.5 L234.5 2355.4 L236 2355.3 L237.5 2355.2 L239 2355.1 L240.5 2354.9 L242 2354.8 L243.5 2354.6 L245 2354.4 L246.5 2354.2 L248 2354 L249.5 2353.8 L251 2353.6 L252.5 2353.3 L254 2353.1 L255.5 2352.8 L257 2352.5 L258.5 2352.1 L260 2351.8 L261.5 2351.4 L263 2351 L264.5 2350.6 L266 2350.1 L267.5 2349.6 L269 2349.1 L270.5 2348.5 L272 2348 L273.5 2347.3 L275 2346.7 L276.5 2346 L278 2345.2 L279.5 2344.4 L281 2343.6 L282.5 2342.7 L284 2341.8 L285.5 2340.8 L287 2339.7 L288.5 2338.6 L290 2337.4 L291.5 2336.2 L293 2334.9 L294.5 2333.6 L296 2332.1 L297.5 2330.6 L299 2329 L300.5 2327.4 L302 2325.6 L303.5 2323.8 L305 2321.9 L306.5 2319.9 L308 2317.8 L309.5 2315.6 L311 2313.3 L312.5 2311 L314 2308.5 L315.5 2305.9 L317 2303.2 L318.5 2300.4 L320 2297.5 L321.5 2294.5 L323 2291.3 L324.5 2288.1 L326 2284.7 L327.5 2281.2 L329 2277.6 L330.5 2273.9 L332 2270 L333.5 2266 L335 2261.9 L336.5 2257.7 L338 2253.3 L339.5 2248.8 L341 2244.2 L342.5 2239.4 L344 2234.6 L345.5 2229.6 L347 2224.4 L348.5 2219.2 L350 2213.8 L351.5 2208.3 L353 2202.7 L354.5 2197 L356 2191.1 L357.5 2185.2 L359 2179.1 L360.5 2173 L362 2166.7 L363.5 2160.4 L365 2153.9 L366.5 2147.4 L368 2140.8 L369.5 2134.1 L371 2127.4 L372.5 2120.6 L374 2113.7 L375.5 2106.8 L377 2099.9 L378.5 2092.9 L380 2085.9 L381.5 2078.9 L383 2071.8 L384.5 2064.8 L386 2057.8 L387.5 2050.7 L389 2043.7 L390.5 2036.8 L392 2029.9 L393.5 2023 L395 2016.2 L396.5 2009.5 L398 2002.8 L399.5 1996.3 L401 1989.8 L402.5 1983.5 L404 1977.2 L405.5 1971.1 L407 1965.2 L408.5 1959.4 L410 1953.7 L411.5 1948.2 L413 1942.9 L414.5 1937.8 L416 1932.9 L417.5 1928.1 L419 1923.6 L420.5 1919.3 L422 1915.2 L423.5 1911.4 L425 1907.7 L426.5 1904.4 L428 1901.3 L429.5 1898.4 L431 1895.8 L432.5 1893.4 L434 1891.4 L435.5 1889.6 L437 1888.1 L438.5 1886.8 L440 1885.9 L441.5 1885.2 L443 1884.8 L444.5 1884.7 L446 1884.9 L447.5 1885.3 L449 1886.1 L450.5 1887.1 L452 1888.4 L453.5 1890 L455 1891.9 L456.5 1894 L458 1896.5 L459.5 1899.1 L461 1902.1 L462.5 1905.2 L464 1908.7 L465.5 1912.4 L467 1916.3 L468.5 1920.4 L470 1924.8 L471.5 1929.4 L473 1934.2 L474.5 1939.1 L476 1944.3 L477.5 1949.7 L479 1955.2 L480.5 1960.9 L482 1966.8 L483.5 1972.8 L485 1978.9 L486.5 1985.2 L488 1991.5 L489.5 1998 L491 2004.6 L492.5 2011.3 L494 2018 L495.5 2024.8 L497 2031.7 L498.5 2038.6 L500 2045.6 L501.5 2052.6 L503 2059.6 L504.5 2066.7 L506 2073.7 L507.5 2080.7 L509 2087.8 L510.5 2094.8 L512 2101.7 L513.5 2108.7 L515 2115.6 L516.5 2122.4 L518 2129.2 L519.5 2135.9 L521 2142.6 L522.5 2149.2 L524 2155.7 L525.5 2162.1 L527 2168.4 L528.5 2174.6 L530 2180.8 L531.5 2186.8 L533 2192.7 L534.5 2198.5 L536 2204.2 L537.5 2209.8 L539 2215.3 L540.5 2220.6 L542 2225.8 L543.5 2230.9 L545 2235.9 L546.5 2240.7 L548 2245.4 L549.5 2250 L551 2254.5 L552.5 2258.8 L554 2263 L555.5 2267.1 L557 2271 L558.5 2274.9 L560 2278.6 L561.5 2282.2 L563 2285.6 L564.5 2289 L566 2292.2 L567.5 2295.3 L569 2298.3 L570.5 2301.2 L572 2303.9 L573.5 2306.6 L575 2309.2 L576.5 2311.6 L578 2314 L579.5 2316.2 L581 2318.4 L582.5 2320.4 L584 2322.4 L585.5 2324.3 L587 2326.1 L588.5 2327.8 L590 2329.5 L591.5 2331 L593 2332.5 L594.5 2333.9 L596 2335.3 L597.5 2336.5 L599 2337.8 L600.5 2338.9 L602 2340 L603.5 2341 L605 2342 L606.5 2342.9 L608 2343.8 L609.5 2344.6 L611 2345.4 L612.5 2346.2 L614 2346.9 L615.5 2347.5 L617 2348.1 L618.5 2348.7 L620 2349.2 L621.5 2349.8 L623 2350.2 L624.5 2350.7 L626 2351.1 L627.5 2351.5 L629 2351.9 L630.5 2352.2 L632 2352.6 L633.5 2352.9 L635 2353.1 L636.5 2353.4 L638 2353.6 L639.5 2353.9 L641 2354.1 L642.5 2354.3 L644 2354.5 L645.5 2354.7 L647 2354.8 L648.5 2355 L650 2355.1 L651.5 2355.2 L653 2355.3 L654.5 2355.5 L656 2355.6 L657.5 2355.6 L659 2355.7 L660.5 2355.8 L662 2355.9 L663.5 2356 L665 2356 L666.5 2356.1 L668 2356.1 L669.5 2356.2 L671 2356.2 L672.5 2356.3 L674 2356.3 L675.5 2356.3 L677 2356.4 L678.5 2356.4 L680 2356.4 L681.5 2356.5 L683 2356.5 L684.5 2356.5 L686 2356.5 L687.5 2356.5 L689 2356.5 L690.5 2356.6 L692 2356.6 L693.5 2356.6 L695 2356.6 L696.5 2356.6 L698 2356.6 L699.5 2356.6 L701 2356.6 L702.5 2356.6 L704 2356.6 L705.5 2356.7 L707 2356.7 L708.5 2356.7 L710 2356.7 L711.5 2356.7 L713 2356.7 L714.5 2356.7 L716 2356.7 L717.5 2356.7 L719 2356.7 L720.5 2356.7 L722 2356.7 L723.5 2356.7 L725 2356.7 L726.5 2356.7 L728 2356.7 L729.5 2356.7 L731 2356.7 L732.5 2356.7 L734 2356.7 L735.5 2356.7 L737 2356.7 L738.5 2356.7 L740 2356.7 L741.5 2356.7 L743 2356.7 L744.5 2356.7 L746 2356.7 L747.5 2356.7 L749 2356.7 L750.5 2356.7 L752 2356.7 L753.5 2356.7 L755 2356.7 L756.5 2356.7 L758 2356.7 L759.5 2356.7 L761 2356.7 L762.5 2356.7 L764 2356.7 L765.5 2356.7 L767 2356.7 L768.5 2356.7 L770 2356.7 L771.5 2356.7 L773 2356.7 L774.5 2356.7 L776 2356.7 L777.5 2356.7 L779 2356.7 L780.5 2356.7 L782 2356.7 L783.5 2356.7 L785 2356.7 L786.5 2356.7 L788 2356.7 L789.5 2356.7 L791 2356.7 L792.5 2356.7 L794 2356.7 L795.5 2356.7 L797 2356.7 L798.5 2356.7 L800 2356.7 L801.5 2356.7 L803 2356.7 L804.5 2356.7 L806 2356.7 L807.5 2356.7 L809 2356.7 L810.5 2356.7 L812 2356.7 L813.5 2356.7 L815 2356.7 L816.5 2356.7 L818 2356.7 L819.5 2356.7 L821 2356.7 L822.5 2356.7 L824 2356.7 L825.5 2356.7 L827 2356.7 L828.5 2356.7 L830 2356.7 L831.5 2356.7 L833 2356.7 L834.5 2356.7 L836 2356.7 L837.5 2356.7 L839 2356.7 L840.5 2356.7 L842 2356.7 L843.5 2356.7 L845 2356.7 L846.5 2356.7 L848 2356.7 L849.5 2356.7 L851 2356.7 L852.5 2356.7 L854 2356.7 L855.5 2356.7 L857 2356.7 L858.5 2356.7 L860 2356.7 L861.5 2356.7 L863 2356.7 L864.5 2356.7 L866 2356.7 L867.5 2356.7 L869 2356.7 L870.5 2356.7 L872 2356.7 L873.5 2356.7 L875 2356.7 L876.5 2356.7 L878 2356.7 L879.5 2356.7 L881 2356.7 L882.5 2356.7 L884 2356.7 L885.5 2356.7 L887 2356.7 L888.5 2356.7 L890 2356.7 L891.5 2356.7 L893 2356.7 L894.5 2356.7 L896 2356.7 L897.5 2356.7 L899 2356.7 L900.5 2356.7 L902 2356.7 L903.5 2356.7 L905 2356.7 L906.5 2356.7 L908 2356.7 L909.5 2356.7 L911 2356.7 L912.5 2356.7 L914 2356.7 L915.5 2356.7 L917 2356.7 L918.5 2356.7 L920 2356.7 L921.5 2356.7 L923 2356.7 L924.5 2356.7 L926 2356.7 L927.5 2356.7 L929 2356.7 L930.5 2356.7 L932 2356.7 L933.5 2356.7 L935 2356.7 L936.5 2356.7 L938 2356.7 L939.5 2356.7 L941 2356.7 L942.5 2356.7 L942.7 2356.7" fill="none" stroke="#0000ff" stroke-width="3.6" stroke-linejoin="round"/>
<path d="M29 2356.7 H942.7" fill="none" stroke="#0000ff" stroke-width="4.4"/>
<rect x="29" y="1722.4" width="913.7" height="669.7" fill="none" stroke="#000" stroke-width="3.7"/>
<path d="M29 2392.1 V2404.6 M79.8 2392.1 V2398.4 M130.5 2392.1 V2404.6 M181.3 2392.1 V2398.4 M232 2392.1 V2404.6 M282.8 2392.1 V2398.4 M333.6 2392.1 V2404.6 M384.3 2392.1 V2398.4 M435.1 2392.1 V2404.6 M485.9 2392.1 V2398.4 M536.6 2392.1 V2404.6 M587.4 2392.1 V2398.4 M638.1 2392.1 V2404.6 M688.9 2392.1 V2398.4 M739.7 2392.1 V2404.6 M790.4 2392.1 V2398.4 M841.2 2392.1 V2404.6 M891.9 2392.1 V2398.4 M942.7 2392.1 V2404.6" fill="none" stroke="#000" stroke-width="3.7"/>
<g font-size="27.70" text-anchor="middle" stroke="#000" stroke-width="0.6">
<text transform="translate(29.00,2436.22) scale(1.1306,1)">404</text>
<text transform="translate(130.52,2436.22) scale(1.1306,1)">403</text>
<text transform="translate(232.04,2436.22) scale(1.1306,1)">402</text>
<text transform="translate(333.57,2436.22) scale(1.1306,1)">401</text>
<text transform="translate(435.09,2436.22) scale(1.1306,1)">400</text>
<text transform="translate(536.61,2436.22) scale(1.1306,1)">399</text>
<text transform="translate(638.13,2436.22) scale(1.1306,1)">398</text>
<text transform="translate(739.66,2436.22) scale(1.1306,1)">397</text>
<text transform="translate(841.18,2436.22) scale(1.1306,1)">396</text>
<text transform="translate(942.70,2436.22) scale(1.1306,1)">395</text>
</g>
<text transform="translate(432.62,1875.64) scale(1.0806,1)" font-size="35.62" stroke="#000" stroke-width="0.6">N-C</text>
<text transform="translate(527.66,2164.30) scale(1.1152,1)" font-size="35.20" stroke="#000" stroke-width="0.6">N-H</text>
<text transform="translate(417.60,2489.10) scale(1.0988,1)" font-size="35.35" stroke="#000" stroke-width="0.6">B.E(eV)</text>
</g>
<g id="o1s">
<defs>
<linearGradient id="g5co" gradientUnits="userSpaceOnUse" x1="0" y1="1799" x2="0" y2="2361"><stop offset="0" stop-color="rgb(130,255,255)"/><stop offset="0.15" stop-color="rgb(150,246,253)"/><stop offset="0.3" stop-color="rgb(176,234,251)"/><stop offset="0.46" stop-color="rgb(212,214,250)"/><stop offset="0.62" stop-color="rgb(234,190,250)"/><stop offset="0.78" stop-color="rgb(247,160,250)"/><stop offset="1" stop-color="rgb(252,130,250)"/></linearGradient>
<linearGradient id="g5ceo" gradientUnits="userSpaceOnUse" x1="0" y1="2016" x2="0" y2="2361"><stop offset="0" stop-color="rgb(255,10,0)"/><stop offset="0.25" stop-color="rgb(255,80,0)"/><stop offset="0.5" stop-color="rgb(215,180,0)"/><stop offset="0.75" stop-color="rgb(130,235,0)"/><stop offset="1" stop-color="rgb(0,255,0)"/></linearGradient>
<linearGradient id="g5ov" gradientUnits="userSpaceOnUse" x1="0" y1="2016" x2="0" y2="2361"><stop offset="0" stop-color="rgb(200,130,145)"/><stop offset="0.3" stop-color="rgb(215,148,140)"/><stop offset="0.6" stop-color="rgb(200,152,142)"/><stop offset="0.85" stop-color="rgb(170,135,145)"/><stop offset="1" stop-color="rgb(150,120,150)"/></linearGradient>
<clipPath id="clip5"><path d="M1063.5 2361 L1065 2361 L1066.5 2361 L1068 2361 L1069.5 2361 L1071 2361 L1072.5 2361 L1074 2361 L1075.5 2361 L1077 2361 L1078.5 2361 L1080 2361 L1081.5 2361 L1083 2361 L1084.5 2361 L1086 2361 L1087.5 2361 L1089 2361 L1090.5 2361 L1092 2361 L1093.5 2361 L1095 2361 L1096.5 2361 L1098 2361 L1099.5 2361 L1101 2361 L1102.5 2361 L1104 2361 L1105.5 2361 L1107 2361 L1108.5 2361 L1110 2361 L1111.5 2361 L1113 2361 L1114.5 2361 L1116 2361 L1117.5 2361 L1119 2361 L1120.5 2361 L1122 2361 L1123.5 2361 L1125 2361 L1126.5 2361 L1128 2361 L1129.5 2361 L1131 2361 L1132.5 2361 L1134 2361 L1135.5 2361 L1137 2361 L1138.5 2361 L1140 2361 L1141.5 2361 L1143 2361 L1144.5 2361 L1146 2361 L1147.5 2361 L1149 2361 L1150.5 2361 L1152 2361 L1153.5 2361 L1155 2361 L1156.5 2361 L1158 2361 L1159.5 2361 L1161 2361 L1162.5 2361 L1164 2361 L1165.5 2361 L1167 2361 L1168.5 2361 L1170 2361 L1171.5 2361 L1173 2361 L1174.5 2361 L1176 2361 L1177.5 2361 L1179 2361 L1180.5 2361 L1182 2361 L1183.5 2361 L1185 2361 L1186.5 2361 L1188 2361 L1189.5 2361 L1191 2361 L1192.5 2361 L1194 2361 L1195.5 2361 L1197 2361 L1198.5 2361 L1200 2361 L1201.5 2361 L1203 2361 L1204.5 2361 L1206 2361 L1207.5 2361 L1209 2361 L1210.5 2361 L1212 2361 L1213.5 2361 L1215 2361 L1216.5 2361 L1218 2361 L1219.5 2361 L1221 2361 L1222.5 2361 L1224 2361 L1225.5 2361 L1227 2361 L1228.5 2361 L1230 2361 L1231.5 2361 L1233 2361 L1234.5 2361 L1236 2361 L1237.5 2361 L1239 2361 L1240.5 2361 L1242 2361 L1243.5 2361 L1245 2361 L1246.5 2361 L1248 2361 L1249.5 2361 L1251 2361 L1252.5 2361 L1254 2361 L1255.5 2360.9 L1257 2360.9 L1258.5 2360.9 L1260 2360.9 L1261.5 2360.9 L1263 2360.9 L1264.5 2360.9 L1266 2360.9 L1267.5 2360.9 L1269 2360.9 L1270.5 2360.9 L1272 2360.9 L1273.5 2360.8 L1275 2360.8 L1276.5 2360.8 L1278 2360.8 L1279.5 2360.8 L1281 2360.8 L1282.5 2360.7 L1284 2360.7 L1285.5 2360.7 L1287 2360.6 L1288.5 2360.6 L1290 2360.6 L1291.5 2360.5 L1293 2360.5 L1294.5 2360.5 L1296 2360.4 L1297.5 2360.4 L1299 2360.3 L1300.5 2360.2 L1302 2360.2 L1303.5 2360.1 L1305 2360 L1306.5 2359.9 L1308 2359.9 L1309.5 2359.8 L1311 2359.7 L1312.5 2359.6 L1314 2359.4 L1315.5 2359.3 L1317 2359.2 L1318.5 2359 L1320 2358.9 L1321.5 2358.7 L1323 2358.5 L1324.5 2358.3 L1326 2358.1 L1327.5 2357.9 L1329 2357.7 L1330.5 2357.4 L1332 2357.2 L1333.5 2356.9 L1335 2356.6 L1336.5 2356.3 L1338 2355.9 L1339.5 2355.6 L1341 2355.2 L1342.5 2354.8 L1344 2354.3 L1345.5 2353.9 L1347 2353.4 L1348.5 2352.9 L1350 2352.3 L1351.5 2351.7 L1353 2351.1 L1354.5 2350.5 L1356 2349.8 L1357.5 2349.1 L1359 2348.3 L1360.5 2347.5 L1362 2346.6 L1363.5 2345.7 L1365 2344.8 L1366.5 2343.7 L1368 2342.7 L1369.5 2341.6 L1371 2340.4 L1372.5 2339.2 L1374 2337.9 L1375.5 2336.5 L1377 2335.1 L1378.5 2333.6 L1380 2332.1 L1381.5 2330.4 L1383 2328.7 L1384.5 2327 L1386 2325.1 L1387.5 2323.1 L1389 2321.1 L1390.5 2319 L1392 2316.8 L1393.5 2314.5 L1395 2312.1 L1396.5 2309.6 L1398 2307 L1399.5 2304.3 L1401 2301.5 L1402.5 2298.6 L1404 2295.6 L1405.5 2292.4 L1407 2289.2 L1408.5 2285.9 L1410 2282.4 L1411.5 2278.8 L1413 2275.1 L1414.5 2271.3 L1416 2267.3 L1417.5 2263.2 L1419 2259 L1420.5 2254.7 L1422 2250.3 L1423.5 2245.7 L1425 2241 L1426.5 2236.1 L1428 2231.2 L1429.5 2226.1 L1431 2220.9 L1432.5 2215.5 L1434 2210 L1435.5 2204.4 L1437 2198.7 L1438.5 2192.9 L1440 2186.9 L1441.5 2180.8 L1443 2174.6 L1444.5 2168.3 L1446 2161.8 L1447.5 2155.3 L1449 2148.6 L1450.5 2141.9 L1452 2135 L1453.5 2128.1 L1455 2121.1 L1456.5 2113.9 L1458 2106.7 L1459.5 2099.4 L1461 2092.1 L1462.5 2084.7 L1464 2077.2 L1465.5 2069.7 L1467 2062.1 L1468.5 2054.5 L1470 2046.8 L1471.5 2039.1 L1473 2031.4 L1474.5 2023.7 L1476 2016 L1477.5 2008.3 L1479 2000.6 L1480.5 1992.9 L1482 1985.3 L1483.5 1977.7 L1485 1970.1 L1486.5 1962.6 L1488 1955.2 L1489.5 1947.8 L1491 1940.5 L1492.5 1933.3 L1494 1926.2 L1495.5 1919.2 L1497 1912.3 L1498.5 1905.6 L1500 1899 L1501.5 1892.5 L1503 1886.2 L1504.5 1880 L1506 1874.1 L1507.5 1868.2 L1509 1862.6 L1510.5 1857.2 L1512 1852 L1513.5 1846.9 L1515 1842.1 L1516.5 1837.6 L1518 1833.2 L1519.5 1829.1 L1521 1825.2 L1522.5 1821.6 L1524 1818.2 L1525.5 1815.1 L1527 1812.3 L1528.5 1809.7 L1530 1807.4 L1531.5 1805.4 L1533 1803.6 L1534.5 1802.1 L1536 1800.9 L1537.5 1800 L1539 1799.4 L1540.5 1799.1 L1542 1799 L1543.5 1799.3 L1545 1799.8 L1546.5 1800.6 L1548 1801.7 L1549.5 1803.1 L1551 1804.7 L1552.5 1806.7 L1554 1808.9 L1555.5 1811.4 L1557 1814.2 L1558.5 1817.2 L1560 1820.5 L1561.5 1824 L1563 1827.8 L1564.5 1831.8 L1566 1836.1 L1567.5 1840.6 L1569 1845.3 L1570.5 1850.3 L1572 1855.4 L1573.5 1860.8 L1575 1866.4 L1576.5 1872.1 L1578 1878 L1579.5 1884.1 L1581 1890.4 L1582.5 1896.8 L1584 1903.4 L1585.5 1910.1 L1587 1916.9 L1588.5 1923.9 L1590 1930.9 L1591.5 1938.1 L1593 1945.4 L1594.5 1952.7 L1596 1960.1 L1597.5 1967.6 L1599 1975.2 L1600.5 1982.8 L1602 1990.4 L1603.5 1998.1 L1605 2005.7 L1606.5 2013.4 L1608 2021.2 L1609.5 2028.9 L1611 2036.6 L1612.5 2044.3 L1614 2051.9 L1615.5 2059.5 L1617 2067.1 L1618.5 2074.7 L1620 2082.2 L1621.5 2089.6 L1623 2097 L1624.5 2104.3 L1626 2111.5 L1627.5 2118.7 L1629 2125.8 L1630.5 2132.7 L1632 2139.6 L1633.5 2146.4 L1635 2153.1 L1636.5 2159.7 L1638 2166.1 L1639.5 2172.5 L1641 2178.8 L1642.5 2184.9 L1644 2190.9 L1645.5 2196.8 L1647 2202.5 L1648.5 2208.2 L1650 2213.7 L1651.5 2219.1 L1653 2224.4 L1654.5 2229.5 L1656 2234.5 L1657.5 2239.4 L1659 2244.1 L1660.5 2248.8 L1662 2253.2 L1663.5 2257.6 L1665 2261.9 L1666.5 2266 L1668 2270 L1669.5 2273.8 L1671 2277.6 L1672.5 2281.2 L1674 2284.7 L1675.5 2288.1 L1677 2291.4 L1678.5 2294.5 L1680 2297.6 L1681.5 2300.5 L1683 2303.4 L1684.5 2306.1 L1686 2308.7 L1687.5 2311.3 L1689 2313.7 L1690.5 2316 L1692 2318.3 L1693.5 2320.4 L1695 2322.5 L1696.5 2324.4 L1698 2326.3 L1699.5 2328.2 L1701 2329.9 L1702.5 2331.5 L1704 2333.1 L1705.5 2334.6 L1707 2336.1 L1708.5 2337.4 L1710 2338.8 L1711.5 2340 L1713 2341.2 L1714.5 2342.3 L1716 2343.4 L1717.5 2344.4 L1719 2345.4 L1720.5 2346.3 L1722 2347.2 L1723.5 2348 L1725 2348.8 L1726.5 2349.5 L1728 2350.2 L1729.5 2350.9 L1731 2351.5 L1732.5 2352.1 L1734 2352.7 L1735.5 2353.2 L1737 2353.7 L1738.5 2354.2 L1740 2354.6 L1741.5 2355.1 L1743 2355.5 L1744.5 2355.8 L1746 2356.2 L1747.5 2356.5 L1749 2356.8 L1750.5 2357.1 L1752 2357.4 L1753.5 2357.6 L1755 2357.9 L1756.5 2358.1 L1758 2358.3 L1759.5 2358.5 L1761 2358.7 L1762.5 2358.8 L1764 2359 L1765.5 2359.1 L1767 2359.3 L1768.5 2359.4 L1770 2359.5 L1771.5 2359.6 L1773 2359.7 L1774.5 2359.8 L1776 2359.9 L1777.5 2360 L1779 2360.1 L1780.5 2360.2 L1782 2360.2 L1783.5 2360.3 L1785 2360.3 L1786.5 2360.4 L1788 2360.4 L1789.5 2360.5 L1791 2360.5 L1792.5 2360.6 L1794 2360.6 L1795.5 2360.6 L1797 2360.7 L1798.5 2360.7 L1800 2360.7 L1801.5 2360.7 L1803 2360.8 L1804.5 2360.8 L1806 2360.8 L1807.5 2360.8 L1809 2360.8 L1810.5 2360.9 L1812 2360.9 L1813.5 2360.9 L1815 2360.9 L1816.5 2360.9 L1818 2360.9 L1819.5 2360.9 L1821 2360.9 L1822.5 2360.9 L1824 2360.9 L1825.5 2360.9 L1827 2360.9 L1828.5 2361 L1830 2361 L1831.5 2361 L1833 2361 L1834.5 2361 L1836 2361 L1837.5 2361 L1839 2361 L1840.5 2361 L1842 2361 L1843.5 2361 L1845 2361 L1846.5 2361 L1848 2361 L1849.5 2361 L1851 2361 L1852.5 2361 L1854 2361 L1855.5 2361 L1857 2361 L1858.5 2361 L1860 2361 L1861.5 2361 L1863 2361 L1864.5 2361 L1866 2361 L1867.5 2361 L1869 2361 L1870.5 2361 L1872 2361 L1873.5 2361 L1875 2361 L1876.5 2361 L1878 2361 L1879.5 2361 L1881 2361 L1882.5 2361 L1884 2361 L1885.5 2361 L1887 2361 L1888.5 2361 L1890 2361 L1891.5 2361 L1893 2361 L1894.5 2361 L1896 2361 L1897.5 2361 L1899 2361 L1900.5 2361 L1902 2361 L1903.5 2361 L1905 2361 L1906.5 2361 L1908 2361 L1909.5 2361 L1911 2361 L1912.5 2361 L1914 2361 L1915.5 2361 L1917 2361 L1918.5 2361 L1920 2361 L1921.5 2361 L1923 2361 L1924.5 2361 L1926 2361 L1927.5 2361 L1929 2361 L1930.5 2361 L1932 2361 L1933.5 2361 L1935 2361 L1936.5 2361 L1938 2361 L1939.5 2361 L1941 2361 L1942.5 2361 L1944 2361 L1945.5 2361 L1947 2361 L1948.5 2361 L1950 2361 L1951.5 2361 L1953 2361 L1954.5 2361 L1956 2361 L1957.5 2361 L1959 2361 L1960.5 2361 L1962 2361 L1963.5 2361 L1965 2361 L1966.5 2361 L1968 2361 L1968.5 2361 L1968.5 2361 L1063.5 2361 Z"/></clipPath>
</defs>
<path d="M1063.5 2361 L1065 2361 L1066.5 2361 L1068 2361 L1069.5 2361 L1071 2361 L1072.5 2361 L1074 2361 L1075.5 2361 L1077 2361 L1078.5 2361 L1080 2361 L1081.5 2361 L1083 2361 L1084.5 2361 L1086 2361 L1087.5 2361 L1089 2361 L1090.5 2361 L1092 2361 L1093.5 2361 L1095 2361 L1096.5 2361 L1098 2361 L1099.5 2361 L1101 2361 L1102.5 2361 L1104 2361 L1105.5 2361 L1107 2361 L1108.5 2361 L1110 2361 L1111.5 2361 L1113 2361 L1114.5 2361 L1116 2361 L1117.5 2361 L1119 2361 L1120.5 2361 L1122 2361 L1123.5 2361 L1125 2361 L1126.5 2361 L1128 2361 L1129.5 2361 L1131 2361 L1132.5 2361 L1134 2361 L1135.5 2361 L1137 2361 L1138.5 2361 L1140 2361 L1141.5 2361 L1143 2361 L1144.5 2361 L1146 2361 L1147.5 2361 L1149 2361 L1150.5 2361 L1152 2361 L1153.5 2361 L1155 2361 L1156.5 2361 L1158 2361 L1159.5 2361 L1161 2361 L1162.5 2361 L1164 2361 L1165.5 2361 L1167 2361 L1168.5 2361 L1170 2361 L1171.5 2361 L1173 2361 L1174.5 2361 L1176 2361 L1177.5 2361 L1179 2361 L1180.5 2361 L1182 2361 L1183.5 2361 L1185 2361 L1186.5 2361 L1188 2361 L1189.5 2361 L1191 2361 L1192.5 2361 L1194 2361 L1195.5 2361 L1197 2361 L1198.5 2361 L1200 2361 L1201.5 2361 L1203 2361 L1204.5 2361 L1206 2361 L1207.5 2361 L1209 2361 L1210.5 2361 L1212 2361 L1213.5 2361 L1215 2361 L1216.5 2361 L1218 2361 L1219.5 2361 L1221 2361 L1222.5 2361 L1224 2361 L1225.5 2361 L1227 2361 L1228.5 2361 L1230 2361 L1231.5 2361 L1233 2361 L1234.5 2361 L1236 2361 L1237.5 2361 L1239 2361 L1240.5 2361 L1242 2361 L1243.5 2361 L1245 2361 L1246.5 2361 L1248 2361 L1249.5 2361 L1251 2361 L1252.5 2361 L1254 2361 L1255.5 2360.9 L1257 2360.9 L1258.5 2360.9 L1260 2360.9 L1261.5 2360.9 L1263 2360.9 L1264.5 2360.9 L1266 2360.9 L1267.5 2360.9 L1269 2360.9 L1270.5 2360.9 L1272 2360.9 L1273.5 2360.8 L1275 2360.8 L1276.5 2360.8 L1278 2360.8 L1279.5 2360.8 L1281 2360.8 L1282.5 2360.7 L1284 2360.7 L1285.5 2360.7 L1287 2360.6 L1288.5 2360.6 L1290 2360.6 L1291.5 2360.5 L1293 2360.5 L1294.5 2360.5 L1296 2360.4 L1297.5 2360.4 L1299 2360.3 L1300.5 2360.2 L1302 2360.2 L1303.5 2360.1 L1305 2360 L1306.5 2359.9 L1308 2359.9 L1309.5 2359.8 L1311 2359.7 L1312.5 2359.6 L1314 2359.4 L1315.5 2359.3 L1317 2359.2 L1318.5 2359 L1320 2358.9 L1321.5 2358.7 L1323 2358.5 L1324.5 2358.3 L1326 2358.1 L1327.5 2357.9 L1329 2357.7 L1330.5 2357.4 L1332 2357.2 L1333.5 2356.9 L1335 2356.6 L1336.5 2356.3 L1338 2355.9 L1339.5 2355.6 L1341 2355.2 L1342.5 2354.8 L1344 2354.3 L1345.5 2353.9 L1347 2353.4 L1348.5 2352.9 L1350 2352.3 L1351.5 2351.7 L1353 2351.1 L1354.5 2350.5 L1356 2349.8 L1357.5 2349.1 L1359 2348.3 L1360.5 2347.5 L1362 2346.6 L1363.5 2345.7 L1365 2344.8 L1366.5 2343.7 L1368 2342.7 L1369.5 2341.6 L1371 2340.4 L1372.5 2339.2 L1374 2337.9 L1375.5 2336.5 L1377 2335.1 L1378.5 2333.6 L1380 2332.1 L1381.5 2330.4 L1383 2328.7 L1384.5 2327 L1386 2325.1 L1387.5 2323.1 L1389 2321.1 L1390.5 2319 L1392 2316.8 L1393.5 2314.5 L1395 2312.1 L1396.5 2309.6 L1398 2307 L1399.5 2304.3 L1401 2301.5 L1402.5 2298.6 L1404 2295.6 L1405.5 2292.4 L1407 2289.2 L1408.5 2285.9 L1410 2282.4 L1411.5 2278.8 L1413 2275.1 L1414.5 2271.3 L1416 2267.3 L1417.5 2263.2 L1419 2259 L1420.5 2254.7 L1422 2250.3 L1423.5 2245.7 L1425 2241 L1426.5 2236.1 L1428 2231.2 L1429.5 2226.1 L1431 2220.9 L1432.5 2215.5 L1434 2210 L1435.5 2204.4 L1437 2198.7 L1438.5 2192.9 L1440 2186.9 L1441.5 2180.8 L1443 2174.6 L1444.5 2168.3 L1446 2161.8 L1447.5 2155.3 L1449 2148.6 L1450.5 2141.9 L1452 2135 L1453.5 2128.1 L1455 2121.1 L1456.5 2113.9 L1458 2106.7 L1459.5 2099.4 L1461 2092.1 L1462.5 2084.7 L1464 2077.2 L1465.5 2069.7 L1467 2062.1 L1468.5 2054.5 L1470 2046.8 L1471.5 2039.1 L1473 2031.4 L1474.5 2023.7 L1476 2016 L1477.5 2008.3 L1479 2000.6 L1480.5 1992.9 L1482 1985.3 L1483.5 1977.7 L1485 1970.1 L1486.5 1962.6 L1488 1955.2 L1489.5 1947.8 L1491 1940.5 L1492.5 1933.3 L1494 1926.2 L1495.5 1919.2 L1497 1912.3 L1498.5 1905.6 L1500 1899 L1501.5 1892.5 L1503 1886.2 L1504.5 1880 L1506 1874.1 L1507.5 1868.2 L1509 1862.6 L1510.5 1857.2 L1512 1852 L1513.5 1846.9 L1515 1842.1 L1516.5 1837.6 L1518 1833.2 L1519.5 1829.1 L1521 1825.2 L1522.5 1821.6 L1524 1818.2 L1525.5 1815.1 L1527 1812.3 L1528.5 1809.7 L1530 1807.4 L1531.5 1805.4 L1533 1803.6 L1534.5 1802.1 L1536 1800.9 L1537.5 1800 L1539 1799.4 L1540.5 1799.1 L1542 1799 L1543.5 1799.3 L1545 1799.8 L1546.5 1800.6 L1548 1801.7 L1549.5 1803.1 L1551 1804.7 L1552.5 1806.7 L1554 1808.9 L1555.5 1811.4 L1557 1814.2 L1558.5 1817.2 L1560 1820.5 L1561.5 1824 L1563 1827.8 L1564.5 1831.8 L1566 1836.1 L1567.5 1840.6 L1569 1845.3 L1570.5 1850.3 L1572 1855.4 L1573.5 1860.8 L1575 1866.4 L1576.5 1872.1 L1578 1878 L1579.5 1884.1 L1581 1890.4 L1582.5 1896.8 L1584 1903.4 L1585.5 1910.1 L1587 1916.9 L1588.5 1923.9 L1590 1930.9 L1591.5 1938.1 L1593 1945.4 L1594.5 1952.7 L1596 1960.1 L1597.5 1967.6 L1599 1975.2 L1600.5 1982.8 L1602 1990.4 L1603.5 1998.1 L1605 2005.7 L1606.5 2013.4 L1608 2021.2 L1609.5 2028.9 L1611 2036.6 L1612.5 2044.3 L1614 2051.9 L1615.5 2059.5 L1617 2067.1 L1618.5 2074.7 L1620 2082.2 L1621.5 2089.6 L1623 2097 L1624.5 2104.3 L1626 2111.5 L1627.5 2118.7 L1629 2125.8 L1630.5 2132.7 L1632 2139.6 L1633.5 2146.4 L1635 2153.1 L1636.5 2159.7 L1638 2166.1 L1639.5 2172.5 L1641 2178.8 L1642.5 2184.9 L1644 2190.9 L1645.5 2196.8 L1647 2202.5 L1648.5 2208.2 L1650 2213.7 L1651.5 2219.1 L1653 2224.4 L1654.5 2229.5 L1656 2234.5 L1657.5 2239.4 L1659 2244.1 L1660.5 2248.8 L1662 2253.2 L1663.5 2257.6 L1665 2261.9 L1666.5 2266 L1668 2270 L1669.5 2273.8 L1671 2277.6 L1672.5 2281.2 L1674 2284.7 L1675.5 2288.1 L1677 2291.4 L1678.5 2294.5 L1680 2297.6 L1681.5 2300.5 L1683 2303.4 L1684.5 2306.1 L1686 2308.7 L1687.5 2311.3 L1689 2313.7 L1690.5 2316 L1692 2318.3 L1693.5 2320.4 L1695 2322.5 L1696.5 2324.4 L1698 2326.3 L1699.5 2328.2 L1701 2329.9 L1702.5 2331.5 L1704 2333.1 L1705.5 2334.6 L1707 2336.1 L1708.5 2337.4 L1710 2338.8 L1711.5 2340 L1713 2341.2 L1714.5 2342.3 L1716 2343.4 L1717.5 2344.4 L1719 2345.4 L1720.5 2346.3 L1722 2347.2 L1723.5 2348 L1725 2348.8 L1726.5 2349.5 L1728 2350.2 L1729.5 2350.9 L1731 2351.5 L1732.5 2352.1 L1734 2352.7 L1735.5 2353.2 L1737 2353.7 L1738.5 2354.2 L1740 2354.6 L1741.5 2355.1 L1743 2355.5 L1744.5 2355.8 L1746 2356.2 L1747.5 2356.5 L1749 2356.8 L1750.5 2357.1 L1752 2357.4 L1753.5 2357.6 L1755 2357.9 L1756.5 2358.1 L1758 2358.3 L1759.5 2358.5 L1761 2358.7 L1762.5 2358.8 L1764 2359 L1765.5 2359.1 L1767 2359.3 L1768.5 2359.4 L1770 2359.5 L1771.5 2359.6 L1773 2359.7 L1774.5 2359.8 L1776 2359.9 L1777.5 2360 L1779 2360.1 L1780.5 2360.2 L1782 2360.2 L1783.5 2360.3 L1785 2360.3 L1786.5 2360.4 L1788 2360.4 L1789.5 2360.5 L1791 2360.5 L1792.5 2360.6 L1794 2360.6 L1795.5 2360.6 L1797 2360.7 L1798.5 2360.7 L1800 2360.7 L1801.5 2360.7 L1803 2360.8 L1804.5 2360.8 L1806 2360.8 L1807.5 2360.8 L1809 2360.8 L1810.5 2360.9 L1812 2360.9 L1813.5 2360.9 L1815 2360.9 L1816.5 2360.9 L1818 2360.9 L1819.5 2360.9 L1821 2360.9 L1822.5 2360.9 L1824 2360.9 L1825.5 2360.9 L1827 2360.9 L1828.5 2361 L1830 2361 L1831.5 2361 L1833 2361 L1834.5 2361 L1836 2361 L1837.5 2361 L1839 2361 L1840.5 2361 L1842 2361 L1843.5 2361 L1845 2361 L1846.5 2361 L1848 2361 L1849.5 2361 L1851 2361 L1852.5 2361 L1854 2361 L1855.5 2361 L1857 2361 L1858.5 2361 L1860 2361 L1861.5 2361 L1863 2361 L1864.5 2361 L1866 2361 L1867.5 2361 L1869 2361 L1870.5 2361 L1872 2361 L1873.5 2361 L1875 2361 L1876.5 2361 L1878 2361 L1879.5 2361 L1881 2361 L1882.5 2361 L1884 2361 L1885.5 2361 L1887 2361 L1888.5 2361 L1890 2361 L1891.5 2361 L1893 2361 L1894.5 2361 L1896 2361 L1897.5 2361 L1899 2361 L1900.5 2361 L1902 2361 L1903.5 2361 L1905 2361 L1906.5 2361 L1908 2361 L1909.5 2361 L1911 2361 L1912.5 2361 L1914 2361 L1915.5 2361 L1917 2361 L1918.5 2361 L1920 2361 L1921.5 2361 L1923 2361 L1924.5 2361 L1926 2361 L1927.5 2361 L1929 2361 L1930.5 2361 L1932 2361 L1933.5 2361 L1935 2361 L1936.5 2361 L1938 2361 L1939.5 2361 L1941 2361 L1942.5 2361 L1944 2361 L1945.5 2361 L1947 2361 L1948.5 2361 L1950 2361 L1951.5 2361 L1953 2361 L1954.5 2361 L1956 2361 L1957.5 2361 L1959 2361 L1960.5 2361 L1962 2361 L1963.5 2361 L1965 2361 L1966.5 2361 L1968 2361 L1968.5 2361 L1968.5 2361 L1063.5 2361 Z" fill="url(#g5co)" stroke="none"/>
<path d="M1063.5 2361 L1065 2361 L1066.5 2361 L1068 2361 L1069.5 2361 L1071 2361 L1072.5 2361 L1074 2361 L1075.5 2361 L1077 2361 L1078.5 2361 L1080 2361 L1081.5 2361 L1083 2361 L1084.5 2361 L1086 2361 L1087.5 2361 L1089 2361 L1090.5 2361 L1092 2361 L1093.5 2361 L1095 2361 L1096.5 2361 L1098 2361 L1099.5 2361 L1101 2361 L1102.5 2361 L1104 2361 L1105.5 2361 L1107 2361 L1108.5 2361 L1110 2361 L1111.5 2361 L1113 2361 L1114.5 2361 L1116 2361 L1117.5 2361 L1119 2361 L1120.5 2361 L1122 2361 L1123.5 2361 L1125 2361 L1126.5 2361 L1128 2361 L1129.5 2361 L1131 2361 L1132.5 2361 L1134 2361 L1135.5 2361 L1137 2361 L1138.5 2361 L1140 2361 L1141.5 2361 L1143 2361 L1144.5 2361 L1146 2361 L1147.5 2361 L1149 2361 L1150.5 2361 L1152 2361 L1153.5 2361 L1155 2361 L1156.5 2361 L1158 2361 L1159.5 2361 L1161 2361 L1162.5 2361 L1164 2361 L1165.5 2361 L1167 2361 L1168.5 2361 L1170 2361 L1171.5 2361 L1173 2361 L1174.5 2361 L1176 2361 L1177.5 2361 L1179 2361 L1180.5 2361 L1182 2361 L1183.5 2361 L1185 2361 L1186.5 2361 L1188 2361 L1189.5 2361 L1191 2361 L1192.5 2361 L1194 2361 L1195.5 2361 L1197 2361 L1198.5 2361 L1200 2361 L1201.5 2361 L1203 2361 L1204.5 2361 L1206 2361 L1207.5 2361 L1209 2361 L1210.5 2361 L1212 2361 L1213.5 2361 L1215 2361 L1216.5 2361 L1218 2361 L1219.5 2361 L1221 2361 L1222.5 2361 L1224 2361 L1225.5 2361 L1227 2361 L1228.5 2361 L1230 2361 L1231.5 2361 L1233 2361 L1234.5 2361 L1236 2361 L1237.5 2361 L1239 2361 L1240.5 2361 L1242 2361 L1243.5 2361 L1245 2361 L1246.5 2361 L1248 2361 L1249.5 2361 L1251 2361 L1252.5 2361 L1254 2361 L1255.5 2361 L1257 2361 L1258.5 2361 L1260 2361 L1261.5 2361 L1263 2360.9 L1264.5 2360.9 L1266 2360.9 L1267.5 2360.9 L1269 2360.9 L1270.5 2360.9 L1272 2360.9 L1273.5 2360.9 L1275 2360.9 L1276.5 2360.9 L1278 2360.9 L1279.5 2360.9 L1281 2360.9 L1282.5 2360.9 L1284 2360.8 L1285.5 2360.8 L1287 2360.8 L1288.5 2360.8 L1290 2360.8 L1291.5 2360.8 L1293 2360.8 L1294.5 2360.7 L1296 2360.7 L1297.5 2360.7 L1299 2360.7 L1300.5 2360.7 L1302 2360.6 L1303.5 2360.6 L1305 2360.6 L1306.5 2360.5 L1308 2360.5 L1309.5 2360.5 L1311 2360.4 L1312.5 2360.4 L1314 2360.4 L1315.5 2360.3 L1317 2360.3 L1318.5 2360.2 L1320 2360.2 L1321.5 2360.1 L1323 2360.1 L1324.5 2360 L1326 2359.9 L1327.5 2359.9 L1329 2359.8 L1330.5 2359.7 L1332 2359.6 L1333.5 2359.5 L1335 2359.4 L1336.5 2359.3 L1338 2359.2 L1339.5 2359.1 L1341 2359 L1342.5 2358.9 L1344 2358.7 L1345.5 2358.6 L1347 2358.5 L1348.5 2358.3 L1350 2358.1 L1351.5 2358 L1353 2357.8 L1354.5 2357.6 L1356 2357.4 L1357.5 2357.2 L1359 2357 L1360.5 2356.7 L1362 2356.5 L1363.5 2356.2 L1365 2356 L1366.5 2355.7 L1368 2355.4 L1369.5 2355.1 L1371 2354.7 L1372.5 2354.4 L1374 2354 L1375.5 2353.6 L1377 2353.3 L1378.5 2352.8 L1380 2352.4 L1381.5 2352 L1383 2351.5 L1384.5 2351 L1386 2350.5 L1387.5 2349.9 L1389 2349.4 L1390.5 2348.8 L1392 2348.2 L1393.5 2347.5 L1395 2346.9 L1396.5 2346.2 L1398 2345.5 L1399.5 2344.7 L1401 2344 L1402.5 2343.2 L1404 2342.3 L1405.5 2341.4 L1407 2340.5 L1408.5 2339.6 L1410 2338.6 L1411.5 2337.6 L1413 2336.6 L1414.5 2335.5 L1416 2334.4 L1417.5 2333.2 L1419 2332 L1420.5 2330.8 L1422 2329.5 L1423.5 2328.2 L1425 2326.8 L1426.5 2325.4 L1428 2323.9 L1429.5 2322.4 L1431 2320.9 L1432.5 2319.3 L1434 2317.6 L1435.5 2315.9 L1437 2314.2 L1438.5 2312.4 L1440 2310.6 L1441.5 2308.7 L1443 2306.7 L1444.5 2304.7 L1446 2302.6 L1447.5 2300.5 L1449 2298.4 L1450.5 2296.2 L1452 2293.9 L1453.5 2291.6 L1455 2289.2 L1456.5 2286.8 L1458 2284.3 L1459.5 2281.7 L1461 2279.1 L1462.5 2276.5 L1464 2273.8 L1465.5 2271 L1467 2268.2 L1468.5 2265.3 L1470 2262.4 L1471.5 2259.4 L1473 2256.4 L1474.5 2253.3 L1476 2250.2 L1477.5 2247 L1479 2243.7 L1480.5 2240.5 L1482 2237.1 L1483.5 2233.7 L1485 2230.3 L1486.5 2226.9 L1488 2223.4 L1489.5 2219.8 L1491 2216.2 L1492.5 2212.6 L1494 2208.9 L1495.5 2205.2 L1497 2201.5 L1498.5 2197.7 L1500 2193.9 L1501.5 2190.1 L1503 2186.3 L1504.5 2182.4 L1506 2178.5 L1507.5 2174.6 L1509 2170.7 L1510.5 2166.8 L1512 2162.8 L1513.5 2158.9 L1515 2154.9 L1516.5 2151 L1518 2147 L1519.5 2143 L1521 2139.1 L1522.5 2135.2 L1524 2131.2 L1525.5 2127.3 L1527 2123.4 L1528.5 2119.6 L1530 2115.7 L1531.5 2111.9 L1533 2108.1 L1534.5 2104.4 L1536 2100.6 L1537.5 2097 L1539 2093.3 L1540.5 2089.8 L1542 2086.2 L1543.5 2082.7 L1545 2079.3 L1546.5 2076 L1548 2072.7 L1549.5 2069.4 L1551 2066.3 L1552.5 2063.2 L1554 2060.2 L1555.5 2057.2 L1557 2054.4 L1558.5 2051.6 L1560 2048.9 L1561.5 2046.3 L1563 2043.8 L1564.5 2041.4 L1566 2039.1 L1567.5 2036.8 L1569 2034.7 L1570.5 2032.7 L1572 2030.8 L1573.5 2029 L1575 2027.3 L1576.5 2025.8 L1578 2024.3 L1579.5 2023 L1581 2021.7 L1582.5 2020.6 L1584 2019.6 L1585.5 2018.7 L1587 2018 L1588.5 2017.3 L1590 2016.8 L1591.5 2016.4 L1593 2016.2 L1594.5 2016 L1596 2016 L1597.5 2016.1 L1599 2016.3 L1600.5 2016.7 L1602 2017.2 L1603.5 2017.8 L1605 2018.5 L1606.5 2019.3 L1608 2020.3 L1609.5 2021.3 L1611 2022.5 L1612.5 2023.8 L1614 2025.3 L1615.5 2026.8 L1617 2028.4 L1618.5 2030.2 L1620 2032.1 L1621.5 2034.1 L1623 2036.1 L1624.5 2038.3 L1626 2040.6 L1627.5 2043 L1629 2045.5 L1630.5 2048 L1632 2050.7 L1633.5 2053.4 L1635 2056.3 L1636.5 2059.2 L1638 2062.2 L1639.5 2065.2 L1641 2068.4 L1642.5 2071.6 L1644 2074.8 L1645.5 2078.2 L1647 2081.6 L1648.5 2085.1 L1650 2088.6 L1651.5 2092.1 L1653 2095.8 L1654.5 2099.4 L1656 2103.1 L1657.5 2106.9 L1659 2110.6 L1660.5 2114.4 L1662 2118.3 L1663.5 2122.1 L1665 2126 L1666.5 2129.9 L1668 2133.8 L1669.5 2137.8 L1671 2141.7 L1672.5 2145.7 L1674 2149.6 L1675.5 2153.6 L1677 2157.6 L1678.5 2161.5 L1680 2165.4 L1681.5 2169.4 L1683 2173.3 L1684.5 2177.2 L1686 2181.1 L1687.5 2185 L1689 2188.8 L1690.5 2192.7 L1692 2196.5 L1693.5 2200.2 L1695 2204 L1696.5 2207.7 L1698 2211.4 L1699.5 2215 L1701 2218.6 L1702.5 2222.2 L1704 2225.7 L1705.5 2229.2 L1707 2232.6 L1708.5 2236 L1710 2239.4 L1711.5 2242.6 L1713 2245.9 L1714.5 2249.1 L1716 2252.3 L1717.5 2255.4 L1719 2258.4 L1720.5 2261.4 L1722 2264.3 L1723.5 2267.2 L1725 2270.1 L1726.5 2272.8 L1728 2275.6 L1729.5 2278.2 L1731 2280.9 L1732.5 2283.4 L1734 2285.9 L1735.5 2288.4 L1737 2290.8 L1738.5 2293.1 L1740 2295.4 L1741.5 2297.6 L1743 2299.8 L1744.5 2302 L1746 2304 L1747.5 2306 L1749 2308 L1750.5 2309.9 L1752 2311.8 L1753.5 2313.6 L1755 2315.4 L1756.5 2317.1 L1758 2318.7 L1759.5 2320.3 L1761 2321.9 L1762.5 2323.4 L1764 2324.9 L1765.5 2326.3 L1767 2327.7 L1768.5 2329.1 L1770 2330.4 L1771.5 2331.6 L1773 2332.8 L1774.5 2334 L1776 2335.1 L1777.5 2336.2 L1779 2337.3 L1780.5 2338.3 L1782 2339.3 L1783.5 2340.2 L1785 2341.1 L1786.5 2342 L1788 2342.9 L1789.5 2343.7 L1791 2344.5 L1792.5 2345.2 L1794 2346 L1795.5 2346.7 L1797 2347.3 L1798.5 2348 L1800 2348.6 L1801.5 2349.2 L1803 2349.8 L1804.5 2350.3 L1806 2350.8 L1807.5 2351.3 L1809 2351.8 L1810.5 2352.3 L1812 2352.7 L1813.5 2353.1 L1815 2353.5 L1816.5 2353.9 L1818 2354.3 L1819.5 2354.6 L1821 2354.9 L1822.5 2355.3 L1824 2355.6 L1825.5 2355.9 L1827 2356.1 L1828.5 2356.4 L1830 2356.6 L1831.5 2356.9 L1833 2357.1 L1834.5 2357.3 L1836 2357.5 L1837.5 2357.7 L1839 2357.9 L1840.5 2358.1 L1842 2358.2 L1843.5 2358.4 L1845 2358.6 L1846.5 2358.7 L1848 2358.8 L1849.5 2359 L1851 2359.1 L1852.5 2359.2 L1854 2359.3 L1855.5 2359.4 L1857 2359.5 L1858.5 2359.6 L1860 2359.7 L1861.5 2359.8 L1863 2359.8 L1864.5 2359.9 L1866 2360 L1867.5 2360 L1869 2360.1 L1870.5 2360.2 L1872 2360.2 L1873.5 2360.3 L1875 2360.3 L1876.5 2360.4 L1878 2360.4 L1879.5 2360.4 L1881 2360.5 L1882.5 2360.5 L1884 2360.5 L1885.5 2360.6 L1887 2360.6 L1888.5 2360.6 L1890 2360.7 L1891.5 2360.7 L1893 2360.7 L1894.5 2360.7 L1896 2360.7 L1897.5 2360.8 L1899 2360.8 L1900.5 2360.8 L1902 2360.8 L1903.5 2360.8 L1905 2360.8 L1906.5 2360.8 L1908 2360.9 L1909.5 2360.9 L1911 2360.9 L1912.5 2360.9 L1914 2360.9 L1915.5 2360.9 L1917 2360.9 L1918.5 2360.9 L1920 2360.9 L1921.5 2360.9 L1923 2360.9 L1924.5 2360.9 L1926 2360.9 L1927.5 2360.9 L1929 2361 L1930.5 2361 L1932 2361 L1933.5 2361 L1935 2361 L1936.5 2361 L1938 2361 L1939.5 2361 L1941 2361 L1942.5 2361 L1944 2361 L1945.5 2361 L1947 2361 L1948.5 2361 L1950 2361 L1951.5 2361 L1953 2361 L1954.5 2361 L1956 2361 L1957.5 2361 L1959 2361 L1960.5 2361 L1962 2361 L1963.5 2361 L1965 2361 L1966.5 2361 L1968 2361 L1968.5 2361 L1968.5 2361 L1063.5 2361 Z" fill="url(#g5ceo)" stroke="none"/>
<path d="M1063.5 2361 L1065 2361 L1066.5 2361 L1068 2361 L1069.5 2361 L1071 2361 L1072.5 2361 L1074 2361 L1075.5 2361 L1077 2361 L1078.5 2361 L1080 2361 L1081.5 2361 L1083 2361 L1084.5 2361 L1086 2361 L1087.5 2361 L1089 2361 L1090.5 2361 L1092 2361 L1093.5 2361 L1095 2361 L1096.5 2361 L1098 2361 L1099.5 2361 L1101 2361 L1102.5 2361 L1104 2361 L1105.5 2361 L1107 2361 L1108.5 2361 L1110 2361 L1111.5 2361 L1113 2361 L1114.5 2361 L1116 2361 L1117.5 2361 L1119 2361 L1120.5 2361 L1122 2361 L1123.5 2361 L1125 2361 L1126.5 2361 L1128 2361 L1129.5 2361 L1131 2361 L1132.5 2361 L1134 2361 L1135.5 2361 L1137 2361 L1138.5 2361 L1140 2361 L1141.5 2361 L1143 2361 L1144.5 2361 L1146 2361 L1147.5 2361 L1149 2361 L1150.5 2361 L1152 2361 L1153.5 2361 L1155 2361 L1156.5 2361 L1158 2361 L1159.5 2361 L1161 2361 L1162.5 2361 L1164 2361 L1165.5 2361 L1167 2361 L1168.5 2361 L1170 2361 L1171.5 2361 L1173 2361 L1174.5 2361 L1176 2361 L1177.5 2361 L1179 2361 L1180.5 2361 L1182 2361 L1183.5 2361 L1185 2361 L1186.5 2361 L1188 2361 L1189.5 2361 L1191 2361 L1192.5 2361 L1194 2361 L1195.5 2361 L1197 2361 L1198.5 2361 L1200 2361 L1201.5 2361 L1203 2361 L1204.5 2361 L1206 2361 L1207.5 2361 L1209 2361 L1210.5 2361 L1212 2361 L1213.5 2361 L1215 2361 L1216.5 2361 L1218 2361 L1219.5 2361 L1221 2361 L1222.5 2361 L1224 2361 L1225.5 2361 L1227 2361 L1228.5 2361 L1230 2361 L1231.5 2361 L1233 2361 L1234.5 2361 L1236 2361 L1237.5 2361 L1239 2361 L1240.5 2361 L1242 2361 L1243.5 2361 L1245 2361 L1246.5 2361 L1248 2361 L1249.5 2361 L1251 2361 L1252.5 2361 L1254 2361 L1255.5 2361 L1257 2361 L1258.5 2361 L1260 2361 L1261.5 2361 L1263 2360.9 L1264.5 2360.9 L1266 2360.9 L1267.5 2360.9 L1269 2360.9 L1270.5 2360.9 L1272 2360.9 L1273.5 2360.9 L1275 2360.9 L1276.5 2360.9 L1278 2360.9 L1279.5 2360.9 L1281 2360.9 L1282.5 2360.9 L1284 2360.8 L1285.5 2360.8 L1287 2360.8 L1288.5 2360.8 L1290 2360.8 L1291.5 2360.8 L1293 2360.8 L1294.5 2360.7 L1296 2360.7 L1297.5 2360.7 L1299 2360.7 L1300.5 2360.7 L1302 2360.6 L1303.5 2360.6 L1305 2360.6 L1306.5 2360.5 L1308 2360.5 L1309.5 2360.5 L1311 2360.4 L1312.5 2360.4 L1314 2360.4 L1315.5 2360.3 L1317 2360.3 L1318.5 2360.2 L1320 2360.2 L1321.5 2360.1 L1323 2360.1 L1324.5 2360 L1326 2359.9 L1327.5 2359.9 L1329 2359.8 L1330.5 2359.7 L1332 2359.6 L1333.5 2359.5 L1335 2359.4 L1336.5 2359.3 L1338 2359.2 L1339.5 2359.1 L1341 2359 L1342.5 2358.9 L1344 2358.7 L1345.5 2358.6 L1347 2358.5 L1348.5 2358.3 L1350 2358.1 L1351.5 2358 L1353 2357.8 L1354.5 2357.6 L1356 2357.4 L1357.5 2357.2 L1359 2357 L1360.5 2356.7 L1362 2356.5 L1363.5 2356.2 L1365 2356 L1366.5 2355.7 L1368 2355.4 L1369.5 2355.1 L1371 2354.7 L1372.5 2354.4 L1374 2354 L1375.5 2353.6 L1377 2353.3 L1378.5 2352.8 L1380 2352.4 L1381.5 2352 L1383 2351.5 L1384.5 2351 L1386 2350.5 L1387.5 2349.9 L1389 2349.4 L1390.5 2348.8 L1392 2348.2 L1393.5 2347.5 L1395 2346.9 L1396.5 2346.2 L1398 2345.5 L1399.5 2344.7 L1401 2344 L1402.5 2343.2 L1404 2342.3 L1405.5 2341.4 L1407 2340.5 L1408.5 2339.6 L1410 2338.6 L1411.5 2337.6 L1413 2336.6 L1414.5 2335.5 L1416 2334.4 L1417.5 2333.2 L1419 2332 L1420.5 2330.8 L1422 2329.5 L1423.5 2328.2 L1425 2326.8 L1426.5 2325.4 L1428 2323.9 L1429.5 2322.4 L1431 2320.9 L1432.5 2319.3 L1434 2317.6 L1435.5 2315.9 L1437 2314.2 L1438.5 2312.4 L1440 2310.6 L1441.5 2308.7 L1443 2306.7 L1444.5 2304.7 L1446 2302.6 L1447.5 2300.5 L1449 2298.4 L1450.5 2296.2 L1452 2293.9 L1453.5 2291.6 L1455 2289.2 L1456.5 2286.8 L1458 2284.3 L1459.5 2281.7 L1461 2279.1 L1462.5 2276.5 L1464 2273.8 L1465.5 2271 L1467 2268.2 L1468.5 2265.3 L1470 2262.4 L1471.5 2259.4 L1473 2256.4 L1474.5 2253.3 L1476 2250.2 L1477.5 2247 L1479 2243.7 L1480.5 2240.5 L1482 2237.1 L1483.5 2233.7 L1485 2230.3 L1486.5 2226.9 L1488 2223.4 L1489.5 2219.8 L1491 2216.2 L1492.5 2212.6 L1494 2208.9 L1495.5 2205.2 L1497 2201.5 L1498.5 2197.7 L1500 2193.9 L1501.5 2190.1 L1503 2186.3 L1504.5 2182.4 L1506 2178.5 L1507.5 2174.6 L1509 2170.7 L1510.5 2166.8 L1512 2162.8 L1513.5 2158.9 L1515 2154.9 L1516.5 2151 L1518 2147 L1519.5 2143 L1521 2139.1 L1522.5 2135.2 L1524 2131.2 L1525.5 2127.3 L1527 2123.4 L1528.5 2119.6 L1530 2115.7 L1531.5 2111.9 L1533 2108.1 L1534.5 2104.4 L1536 2100.6 L1537.5 2097 L1539 2093.3 L1540.5 2089.8 L1542 2086.2 L1543.5 2082.7 L1545 2079.3 L1546.5 2076 L1548 2072.7 L1549.5 2069.4 L1551 2066.3 L1552.5 2063.2 L1554 2060.2 L1555.5 2057.2 L1557 2054.4 L1558.5 2051.6 L1560 2048.9 L1561.5 2046.3 L1563 2043.8 L1564.5 2041.4 L1566 2039.1 L1567.5 2036.8 L1569 2034.7 L1570.5 2032.7 L1572 2030.8 L1573.5 2029 L1575 2027.3 L1576.5 2025.8 L1578 2024.3 L1579.5 2023 L1581 2021.7 L1582.5 2020.6 L1584 2019.6 L1585.5 2018.7 L1587 2018 L1588.5 2017.3 L1590 2016.8 L1591.5 2016.4 L1593 2016.2 L1594.5 2016 L1596 2016 L1597.5 2016.1 L1599 2016.3 L1600.5 2016.7 L1602 2017.2 L1603.5 2017.8 L1605 2018.5 L1606.5 2019.3 L1608 2020.3 L1609.5 2021.3 L1611 2022.5 L1612.5 2023.8 L1614 2025.3 L1615.5 2026.8 L1617 2028.4 L1618.5 2030.2 L1620 2032.1 L1621.5 2034.1 L1623 2036.1 L1624.5 2038.3 L1626 2040.6 L1627.5 2043 L1629 2045.5 L1630.5 2048 L1632 2050.7 L1633.5 2053.4 L1635 2056.3 L1636.5 2059.2 L1638 2062.2 L1639.5 2065.2 L1641 2068.4 L1642.5 2071.6 L1644 2074.8 L1645.5 2078.2 L1647 2081.6 L1648.5 2085.1 L1650 2088.6 L1651.5 2092.1 L1653 2095.8 L1654.5 2099.4 L1656 2103.1 L1657.5 2106.9 L1659 2110.6 L1660.5 2114.4 L1662 2118.3 L1663.5 2122.1 L1665 2126 L1666.5 2129.9 L1668 2133.8 L1669.5 2137.8 L1671 2141.7 L1672.5 2145.7 L1674 2149.6 L1675.5 2153.6 L1677 2157.6 L1678.5 2161.5 L1680 2165.4 L1681.5 2169.4 L1683 2173.3 L1684.5 2177.2 L1686 2181.1 L1687.5 2185 L1689 2188.8 L1690.5 2192.7 L1692 2196.5 L1693.5 2200.2 L1695 2204 L1696.5 2207.7 L1698 2211.4 L1699.5 2215 L1701 2218.6 L1702.5 2222.2 L1704 2225.7 L1705.5 2229.2 L1707 2232.6 L1708.5 2236 L1710 2239.4 L1711.5 2242.6 L1713 2245.9 L1714.5 2249.1 L1716 2252.3 L1717.5 2255.4 L1719 2258.4 L1720.5 2261.4 L1722 2264.3 L1723.5 2267.2 L1725 2270.1 L1726.5 2272.8 L1728 2275.6 L1729.5 2278.2 L1731 2280.9 L1732.5 2283.4 L1734 2285.9 L1735.5 2288.4 L1737 2290.8 L1738.5 2293.1 L1740 2295.4 L1741.5 2297.6 L1743 2299.8 L1744.5 2302 L1746 2304 L1747.5 2306 L1749 2308 L1750.5 2309.9 L1752 2311.8 L1753.5 2313.6 L1755 2315.4 L1756.5 2317.1 L1758 2318.7 L1759.5 2320.3 L1761 2321.9 L1762.5 2323.4 L1764 2324.9 L1765.5 2326.3 L1767 2327.7 L1768.5 2329.1 L1770 2330.4 L1771.5 2331.6 L1773 2332.8 L1774.5 2334 L1776 2335.1 L1777.5 2336.2 L1779 2337.3 L1780.5 2338.3 L1782 2339.3 L1783.5 2340.2 L1785 2341.1 L1786.5 2342 L1788 2342.9 L1789.5 2343.7 L1791 2344.5 L1792.5 2345.2 L1794 2346 L1795.5 2346.7 L1797 2347.3 L1798.5 2348 L1800 2348.6 L1801.5 2349.2 L1803 2349.8 L1804.5 2350.3 L1806 2350.8 L1807.5 2351.3 L1809 2351.8 L1810.5 2352.3 L1812 2352.7 L1813.5 2353.1 L1815 2353.5 L1816.5 2353.9 L1818 2354.3 L1819.5 2354.6 L1821 2354.9 L1822.5 2355.3 L1824 2355.6 L1825.5 2355.9 L1827 2356.1 L1828.5 2356.4 L1830 2356.6 L1831.5 2356.9 L1833 2357.1 L1834.5 2357.3 L1836 2357.5 L1837.5 2357.7 L1839 2357.9 L1840.5 2358.1 L1842 2358.2 L1843.5 2358.4 L1845 2358.6 L1846.5 2358.7 L1848 2358.8 L1849.5 2359 L1851 2359.1 L1852.5 2359.2 L1854 2359.3 L1855.5 2359.4 L1857 2359.5 L1858.5 2359.6 L1860 2359.7 L1861.5 2359.8 L1863 2359.8 L1864.5 2359.9 L1866 2360 L1867.5 2360 L1869 2360.1 L1870.5 2360.2 L1872 2360.2 L1873.5 2360.3 L1875 2360.3 L1876.5 2360.4 L1878 2360.4 L1879.5 2360.4 L1881 2360.5 L1882.5 2360.5 L1884 2360.5 L1885.5 2360.6 L1887 2360.6 L1888.5 2360.6 L1890 2360.7 L1891.5 2360.7 L1893 2360.7 L1894.5 2360.7 L1896 2360.7 L1897.5 2360.8 L1899 2360.8 L1900.5 2360.8 L1902 2360.8 L1903.5 2360.8 L1905 2360.8 L1906.5 2360.8 L1908 2360.9 L1909.5 2360.9 L1911 2360.9 L1912.5 2360.9 L1914 2360.9 L1915.5 2360.9 L1917 2360.9 L1918.5 2360.9 L1920 2360.9 L1921.5 2360.9 L1923 2360.9 L1924.5 2360.9 L1926 2360.9 L1927.5 2360.9 L1929 2361 L1930.5 2361 L1932 2361 L1933.5 2361 L1935 2361 L1936.5 2361 L1938 2361 L1939.5 2361 L1941 2361 L1942.5 2361 L1944 2361 L1945.5 2361 L1947 2361 L1948.5 2361 L1950 2361 L1951.5 2361 L1953 2361 L1954.5 2361 L1956 2361 L1957.5 2361 L1959 2361 L1960.5 2361 L1962 2361 L1963.5 2361 L1965 2361 L1966.5 2361 L1968 2361 L1968.5 2361 L1968.5 2361 L1063.5 2361 Z" fill="url(#g5ov)" stroke="none" clip-path="url(#clip5)"/>
<path d="M1063.5 2361 L1065 2361 L1066.5 2361 L1068 2361 L1069.5 2361 L1071 2361 L1072.5 2361 L1074 2361 L1075.5 2361 L1077 2361 L1078.5 2361 L1080 2361 L1081.5 2361 L1083 2361 L1084.5 2361 L1086 2361 L1087.5 2361 L1089 2361 L1090.5 2361 L1092 2361 L1093.5 2361 L1095 2361 L1096.5 2361 L1098 2361 L1099.5 2361 L1101 2361 L1102.5 2361 L1104 2361 L1105.5 2361 L1107 2361 L1108.5 2361 L1110 2361 L1111.5 2361 L1113 2361 L1114.5 2361 L1116 2361 L1117.5 2361 L1119 2361 L1120.5 2361 L1122 2361 L1123.5 2361 L1125 2361 L1126.5 2361 L1128 2361 L1129.5 2361 L1131 2361 L1132.5 2361 L1134 2361 L1135.5 2361 L1137 2361 L1138.5 2361 L1140 2361 L1141.5 2361 L1143 2361 L1144.5 2361 L1146 2361 L1147.5 2361 L1149 2361 L1150.5 2361 L1152 2361 L1153.5 2361 L1155 2361 L1156.5 2361 L1158 2361 L1159.5 2361 L1161 2361 L1162.5 2361 L1164 2361 L1165.5 2361 L1167 2361 L1168.5 2361 L1170 2361 L1171.5 2361 L1173 2361 L1174.5 2361 L1176 2361 L1177.5 2361 L1179 2361 L1180.5 2361 L1182 2361 L1183.5 2361 L1185 2361 L1186.5 2361 L1188 2361 L1189.5 2361 L1191 2361 L1192.5 2361 L1194 2361 L1195.5 2361 L1197 2361 L1198.5 2361 L1200 2361 L1201.5 2361 L1203 2361 L1204.5 2361 L1206 2361 L1207.5 2361 L1209 2361 L1210.5 2361 L1212 2361 L1213.5 2361 L1215 2361 L1216.5 2361 L1218 2361 L1219.5 2361 L1221 2361 L1222.5 2361 L1224 2361 L1225.5 2361 L1227 2361 L1228.5 2361 L1230 2361 L1231.5 2361 L1233 2361 L1234.5 2361 L1236 2361 L1237.5 2361 L1239 2361 L1240.5 2361 L1242 2361 L1243.5 2361 L1245 2361 L1246.5 2361 L1248 2361 L1249.5 2361 L1251 2361 L1252.5 2361 L1254 2361 L1255.5 2361 L1257 2361 L1258.5 2361 L1260 2361 L1261.5 2361 L1263 2360.9 L1264.5 2360.9 L1266 2360.9 L1267.5 2360.9 L1269 2360.9 L1270.5 2360.9 L1272 2360.9 L1273.5 2360.9 L1275 2360.9 L1276.5 2360.9 L1278 2360.9 L1279.5 2360.9 L1281 2360.9 L1282.5 2360.9 L1284 2360.8 L1285.5 2360.8 L1287 2360.8 L1288.5 2360.8 L1290 2360.8 L1291.5 2360.8 L1293 2360.8 L1294.5 2360.7 L1296 2360.7 L1297.5 2360.7 L1299 2360.7 L1300.5 2360.7 L1302 2360.6 L1303.5 2360.6 L1305 2360.6 L1306.5 2360.5 L1308 2360.5 L1309.5 2360.5 L1311 2360.4 L1312.5 2360.4 L1314 2360.4 L1315.5 2360.3 L1317 2360.3 L1318.5 2360.2 L1320 2360.2 L1321.5 2360.1 L1323 2360.1 L1324.5 2360 L1326 2359.9 L1327.5 2359.9 L1329 2359.8 L1330.5 2359.7 L1332 2359.6 L1333.5 2359.5 L1335 2359.4 L1336.5 2359.3 L1338 2359.2 L1339.5 2359.1 L1341 2359 L1342.5 2358.9 L1344 2358.7 L1345.5 2358.6 L1347 2358.5 L1348.5 2358.3 L1350 2358.1 L1351.5 2358 L1353 2357.8 L1354.5 2357.6 L1356 2357.4 L1357.5 2357.2 L1359 2357 L1360.5 2356.7 L1362 2356.5 L1363.5 2356.2 L1365 2356 L1366.5 2355.7 L1368 2355.4 L1369.5 2355.1 L1371 2354.7 L1372.5 2354.4 L1374 2354 L1375.5 2353.6 L1377 2353.3 L1378.5 2352.8 L1380 2352.4 L1381.5 2352 L1383 2351.5 L1384.5 2351 L1386 2350.5 L1387.5 2349.9 L1389 2349.4 L1390.5 2348.8 L1392 2348.2 L1393.5 2347.5 L1395 2346.9 L1396.5 2346.2 L1398 2345.5 L1399.5 2344.7 L1401 2344 L1402.5 2343.2 L1404 2342.3 L1405.5 2341.4 L1407 2340.5 L1408.5 2339.6 L1410 2338.6 L1411.5 2337.6 L1413 2336.6 L1414.5 2335.5 L1416 2334.4 L1417.5 2333.2 L1419 2332 L1420.5 2330.8 L1422 2329.5 L1423.5 2328.2 L1425 2326.8 L1426.5 2325.4 L1428 2323.9 L1429.5 2322.4 L1431 2320.9 L1432.5 2319.3 L1434 2317.6 L1435.5 2315.9 L1437 2314.2 L1438.5 2312.4 L1440 2310.6 L1441.5 2308.7 L1443 2306.7 L1444.5 2304.7 L1446 2302.6 L1447.5 2300.5 L1449 2298.4 L1450.5 2296.2 L1452 2293.9 L1453.5 2291.6 L1455 2289.2 L1456.5 2286.8 L1458 2284.3 L1459.5 2281.7 L1461 2279.1 L1462.5 2276.5 L1464 2273.8 L1465.5 2271 L1467 2268.2 L1468.5 2265.3 L1470 2262.4 L1471.5 2259.4 L1473 2256.4 L1474.5 2253.3 L1476 2250.2 L1477.5 2247 L1479 2243.7 L1480.5 2240.5 L1482 2237.1 L1483.5 2233.7 L1485 2230.3 L1486.5 2226.9 L1488 2223.4 L1489.5 2219.8 L1491 2216.2 L1492.5 2212.6 L1494 2208.9 L1495.5 2205.2 L1497 2201.5 L1498.5 2197.7 L1500 2193.9 L1501.5 2190.1 L1503 2186.3 L1504.5 2182.4 L1506 2178.5 L1507.5 2174.6 L1509 2170.7 L1510.5 2166.8 L1512 2162.8 L1513.5 2158.9 L1515 2154.9 L1516.5 2151 L1518 2147 L1519.5 2143 L1521 2139.1 L1522.5 2135.2 L1524 2131.2 L1525.5 2127.3 L1527 2123.4 L1528.5 2119.6 L1530 2115.7 L1531.5 2111.9 L1533 2108.1 L1534.5 2104.4 L1536 2100.6 L1537.5 2097 L1539 2093.3 L1540.5 2089.8 L1542 2086.2 L1543.5 2082.7 L1545 2079.3 L1546.5 2076 L1548 2072.7 L1549.5 2069.4 L1551 2066.3 L1552.5 2063.2 L1554 2060.2 L1555.5 2057.2 L1557 2054.4 L1558.5 2051.6 L1560 2048.9 L1561.5 2046.3 L1563 2043.8 L1564.5 2041.4 L1566 2039.1 L1567.5 2036.8 L1569 2034.7 L1570.5 2032.7 L1572 2030.8 L1573.5 2029 L1575 2027.3 L1576.5 2025.8 L1578 2024.3 L1579.5 2023 L1581 2021.7 L1582.5 2020.6 L1584 2019.6 L1585.5 2018.7 L1587 2018 L1588.5 2017.3 L1590 2016.8 L1591.5 2016.4 L1593 2016.2 L1594.5 2016 L1596 2016 L1597.5 2016.1 L1599 2016.3 L1600.5 2016.7 L1602 2017.2 L1603.5 2017.8 L1605 2018.5 L1606.5 2019.3 L1608 2020.3 L1609.5 2021.3 L1611 2022.5 L1612.5 2023.8 L1614 2025.3 L1615.5 2026.8 L1617 2028.4 L1618.5 2030.2 L1620 2032.1 L1621.5 2034.1 L1623 2036.1 L1624.5 2038.3 L1626 2040.6 L1627.5 2043 L1629 2045.5 L1630.5 2048 L1632 2050.7 L1633.5 2053.4 L1635 2056.3 L1636.5 2059.2 L1638 2062.2 L1639.5 2065.2 L1641 2068.4 L1642.5 2071.6 L1644 2074.8 L1645.5 2078.2 L1647 2081.6 L1648.5 2085.1 L1650 2088.6 L1651.5 2092.1 L1653 2095.8 L1654.5 2099.4 L1656 2103.1 L1657.5 2106.9 L1659 2110.6 L1660.5 2114.4 L1662 2118.3 L1663.5 2122.1 L1665 2126 L1666.5 2129.9 L1668 2133.8 L1669.5 2137.8 L1671 2141.7 L1672.5 2145.7 L1674 2149.6 L1675.5 2153.6 L1677 2157.6 L1678.5 2161.5 L1680 2165.4 L1681.5 2169.4 L1683 2173.3 L1684.5 2177.2 L1686 2181.1 L1687.5 2185 L1689 2188.8 L1690.5 2192.7 L1692 2196.5 L1693.5 2200.2 L1695 2204 L1696.5 2207.7 L1698 2211.4 L1699.5 2215 L1701 2218.6 L1702.5 2222.2 L1704 2225.7 L1705.5 2229.2 L1707 2232.6 L1708.5 2236 L1710 2239.4 L1711.5 2242.6 L1713 2245.9 L1714.5 2249.1 L1716 2252.3 L1717.5 2255.4 L1719 2258.4 L1720.5 2261.4 L1722 2264.3 L1723.5 2267.2 L1725 2270.1 L1726.5 2272.8 L1728 2275.6 L1729.5 2278.2 L1731 2280.9 L1732.5 2283.4 L1734 2285.9 L1735.5 2288.4 L1737 2290.8 L1738.5 2293.1 L1740 2295.4 L1741.5 2297.6 L1743 2299.8 L1744.5 2302 L1746 2304 L1747.5 2306 L1749 2308 L1750.5 2309.9 L1752 2311.8 L1753.5 2313.6 L1755 2315.4 L1756.5 2317.1 L1758 2318.7 L1759.5 2320.3 L1761 2321.9 L1762.5 2323.4 L1764 2324.9 L1765.5 2326.3 L1767 2327.7 L1768.5 2329.1 L1770 2330.4 L1771.5 2331.6 L1773 2332.8 L1774.5 2334 L1776 2335.1 L1777.5 2336.2 L1779 2337.3 L1780.5 2338.3 L1782 2339.3 L1783.5 2340.2 L1785 2341.1 L1786.5 2342 L1788 2342.9 L1789.5 2343.7 L1791 2344.5 L1792.5 2345.2 L1794 2346 L1795.5 2346.7 L1797 2347.3 L1798.5 2348 L1800 2348.6 L1801.5 2349.2 L1803 2349.8 L1804.5 2350.3 L1806 2350.8 L1807.5 2351.3 L1809 2351.8 L1810.5 2352.3 L1812 2352.7 L1813.5 2353.1 L1815 2353.5 L1816.5 2353.9 L1818 2354.3 L1819.5 2354.6 L1821 2354.9 L1822.5 2355.3 L1824 2355.6 L1825.5 2355.9 L1827 2356.1 L1828.5 2356.4 L1830 2356.6 L1831.5 2356.9 L1833 2357.1 L1834.5 2357.3 L1836 2357.5 L1837.5 2357.7 L1839 2357.9 L1840.5 2358.1 L1842 2358.2 L1843.5 2358.4 L1845 2358.6 L1846.5 2358.7 L1848 2358.8 L1849.5 2359 L1851 2359.1 L1852.5 2359.2 L1854 2359.3 L1855.5 2359.4 L1857 2359.5 L1858.5 2359.6 L1860 2359.7 L1861.5 2359.8 L1863 2359.8 L1864.5 2359.9 L1866 2360 L1867.5 2360 L1869 2360.1 L1870.5 2360.2 L1872 2360.2 L1873.5 2360.3 L1875 2360.3 L1876.5 2360.4 L1878 2360.4 L1879.5 2360.4 L1881 2360.5 L1882.5 2360.5 L1884 2360.5 L1885.5 2360.6 L1887 2360.6 L1888.5 2360.6 L1890 2360.7 L1891.5 2360.7 L1893 2360.7 L1894.5 2360.7 L1896 2360.7 L1897.5 2360.8 L1899 2360.8 L1900.5 2360.8 L1902 2360.8 L1903.5 2360.8 L1905 2360.8 L1906.5 2360.8 L1908 2360.9 L1909.5 2360.9 L1911 2360.9 L1912.5 2360.9 L1914 2360.9 L1915.5 2360.9 L1917 2360.9 L1918.5 2360.9 L1920 2360.9 L1921.5 2360.9 L1923 2360.9 L1924.5 2360.9 L1926 2360.9 L1927.5 2360.9 L1929 2361 L1930.5 2361 L1932 2361 L1933.5 2361 L1935 2361 L1936.5 2361 L1938 2361 L1939.5 2361 L1941 2361 L1942.5 2361 L1944 2361 L1945.5 2361 L1947 2361 L1948.5 2361 L1950 2361 L1951.5 2361 L1953 2361 L1954.5 2361 L1956 2361 L1957.5 2361 L1959 2361 L1960.5 2361 L1962 2361 L1963.5 2361 L1965 2361 L1966.5 2361 L1968 2361 L1968.5 2361" fill="none" stroke="rgb(20,250,60)" stroke-width="3.2" stroke-linejoin="round"/>
<path d="M1063.5 2361 L1065 2361 L1066.5 2361 L1068 2361 L1069.5 2361 L1071 2361 L1072.5 2361 L1074 2361 L1075.5 2361 L1077 2361 L1078.5 2361 L1080 2361 L1081.5 2361 L1083 2361 L1084.5 2361 L1086 2361 L1087.5 2361 L1089 2361 L1090.5 2361 L1092 2361 L1093.5 2361 L1095 2361 L1096.5 2361 L1098 2361 L1099.5 2361 L1101 2361 L1102.5 2361 L1104 2361 L1105.5 2361 L1107 2361 L1108.5 2361 L1110 2361 L1111.5 2361 L1113 2361 L1114.5 2361 L1116 2361 L1117.5 2361 L1119 2361 L1120.5 2361 L1122 2361 L1123.5 2361 L1125 2361 L1126.5 2361 L1128 2361 L1129.5 2361 L1131 2361 L1132.5 2361 L1134 2361 L1135.5 2361 L1137 2361 L1138.5 2361 L1140 2361 L1141.5 2361 L1143 2361 L1144.5 2361 L1146 2361 L1147.5 2361 L1149 2361 L1150.5 2361 L1152 2361 L1153.5 2361 L1155 2361 L1156.5 2361 L1158 2361 L1159.5 2361 L1161 2361 L1162.5 2361 L1164 2361 L1165.5 2361 L1167 2361 L1168.5 2361 L1170 2361 L1171.5 2361 L1173 2361 L1174.5 2361 L1176 2361 L1177.5 2361 L1179 2361 L1180.5 2361 L1182 2361 L1183.5 2361 L1185 2361 L1186.5 2361 L1188 2361 L1189.5 2361 L1191 2361 L1192.5 2361 L1194 2361 L1195.5 2361 L1197 2361 L1198.5 2361 L1200 2361 L1201.5 2361 L1203 2361 L1204.5 2361 L1206 2361 L1207.5 2361 L1209 2361 L1210.5 2361 L1212 2361 L1213.5 2361 L1215 2361 L1216.5 2361 L1218 2361 L1219.5 2361 L1221 2361 L1222.5 2361 L1224 2361 L1225.5 2361 L1227 2361 L1228.5 2361 L1230 2361 L1231.5 2361 L1233 2361 L1234.5 2361 L1236 2361 L1237.5 2361 L1239 2361 L1240.5 2361 L1242 2361 L1243.5 2361 L1245 2361 L1246.5 2361 L1248 2361 L1249.5 2361 L1251 2361 L1252.5 2361 L1254 2361 L1255.5 2361 L1257 2361 L1258.5 2361 L1260 2361 L1261.5 2361 L1263 2360.9 L1264.5 2360.9 L1266 2360.9 L1267.5 2360.9 L1269 2360.9 L1270.5 2360.9 L1272 2360.9 L1273.5 2360.9 L1275 2360.9 L1276.5 2360.9 L1278 2360.9 L1279.5 2360.9 L1281 2360.9 L1282.5 2360.9 L1284 2360.8 L1285.5 2360.8 L1287 2360.8 L1288.5 2360.8 L1290 2360.8 L1291.5 2360.8 L1293 2360.8 L1294.5 2360.7 L1296 2360.7 L1297.5 2360.7 L1299 2360.7 L1300.5 2360.7 L1302 2360.6 L1303.5 2360.6 L1305 2360.6 L1306.5 2360.5 L1308 2360.5 L1309.5 2360.5 L1311 2360.4 L1312.5 2360.4 L1314 2360.4 L1315.5 2360.3 L1317 2360.3 L1318.5 2360.2 L1320 2360.2 L1321.5 2360.1 L1323 2360.1 L1324.5 2360 L1326 2359.9 L1327.5 2359.9 L1329 2359.8 L1330.5 2359.7 L1332 2359.6 L1333.5 2359.5 L1335 2359.4 L1336.5 2359.3 L1338 2359.2 L1339.5 2359.1 L1341 2359 L1342.5 2358.9 L1344 2358.7 L1345.5 2358.6 L1347 2358.5 L1348.5 2358.3 L1350 2358.1 L1351.5 2358 L1353 2357.8 L1354.5 2357.6 L1356 2357.4 L1357.5 2357.2 L1359 2357 L1360.5 2356.7 L1362 2356.5 L1363.5 2356.2 L1365 2356 L1366.5 2355.7 L1368 2355.4 L1369.5 2355.1 L1371 2354.7 L1372.5 2354.4 L1374 2354 L1375.5 2353.6 L1377 2353.3 L1378.5 2352.8 L1380 2352.4 L1381.5 2352 L1383 2351.5 L1384.5 2351 L1386 2350.5 L1387.5 2349.9 L1389 2349.4 L1390.5 2348.8 L1392 2348.2 L1393.5 2347.5 L1395 2346.9 L1396.5 2346.2 L1398 2345.5 L1399.5 2344.7 L1401 2344 L1402.5 2343.2 L1404 2342.3 L1405.5 2341.4 L1407 2340.5 L1408.5 2339.6 L1410 2338.6 L1411.5 2337.6 L1413 2336.6 L1414.5 2335.5 L1416 2334.4 L1417.5 2333.2 L1419 2332 L1420.5 2330.8 L1422 2329.5 L1423.5 2328.2 L1425 2326.8 L1426.5 2325.4 L1428 2323.9 L1429.5 2322.4 L1431 2320.9 L1432.5 2319.3 L1434 2317.6 L1435.5 2315.9 L1437 2314.2 L1438.5 2312.4 L1440 2310.6 L1441.5 2308.7 L1443 2306.7 L1444.5 2304.7 L1446 2302.6 L1447.5 2300.5 L1449 2298.4 L1450.5 2296.2 L1452 2293.9 L1453.5 2291.6 L1455 2289.2 L1456.5 2286.8 L1458 2284.3 L1459.5 2281.7 L1461 2279.1 L1462.5 2276.5 L1464 2273.8 L1465.5 2271 L1467 2268.2 L1468.5 2265.3 L1470 2262.4 L1471.5 2259.4 L1473 2256.4 L1474.5 2253.3 L1476 2250.2 L1477.5 2247 L1479 2243.7 L1480.5 2240.5 L1482 2237.1 L1483.5 2233.7 L1485 2230.3 L1486.5 2226.9 L1488 2223.4 L1489.5 2219.8 L1491 2216.2 L1492.5 2212.6 L1494 2208.9 L1495.5 2205.2 L1497 2201.5 L1498.5 2197.7 L1500 2193.9 L1501.5 2190.1 L1503 2186.3 L1504.5 2182.4 L1506 2178.5 L1507.5 2174.6 L1509 2170.7 L1510.5 2166.8 L1512 2162.8 L1513.5 2158.9 L1515 2154.9 L1516.5 2151 L1518 2147 L1519.5 2143 L1521 2139.1 L1522.5 2135.2 L1524 2131.2 L1525.5 2127.3 L1527 2123.4 L1528.5 2119.6 L1530 2115.7 L1531.5 2111.9 L1533 2108.1 L1534.5 2104.4 L1536 2100.6 L1537.5 2097 L1539 2093.3 L1540.5 2089.8 L1542 2086.2 L1543.5 2082.7 L1545 2079.3 L1546.5 2076 L1548 2072.7 L1549.5 2069.4 L1551 2066.3 L1552.5 2063.2 L1554 2060.2 L1555.5 2057.2 L1557 2054.4 L1558.5 2051.6 L1560 2048.9 L1561.5 2046.3 L1563 2043.8 L1564.5 2041.4 L1566 2039.1 L1567.5 2036.8 L1569 2034.7 L1570.5 2032.7 L1572 2030.8 L1573.5 2029 L1575 2027.3 L1576.5 2025.8 L1578 2024.3 L1579.5 2023 L1581 2021.7 L1582.5 2020.6 L1584 2019.6 L1585.5 2018.7 L1587 2018 L1588.5 2017.3 L1590 2016.8 L1591.5 2016.4 L1593 2016.2 L1594.5 2016 L1596 2016 L1597.5 2016.1 L1599 2016.3 L1600.5 2016.7 L1602 2017.2 L1603.5 2017.8 L1605 2018.5 L1606.5 2019.3 L1608 2020.3 L1609.5 2021.3 L1611 2022.5 L1612.5 2023.8 L1614 2025.3 L1615.5 2026.8 L1617 2028.4 L1618.5 2030.2 L1620 2032.1 L1621.5 2034.1 L1623 2036.1 L1624.5 2038.3 L1626 2040.6 L1627.5 2043 L1629 2045.5 L1630.5 2048 L1632 2050.7 L1633.5 2053.4 L1635 2056.3 L1636.5 2059.2 L1638 2062.2 L1639.5 2065.2 L1641 2068.4 L1642.5 2071.6 L1644 2074.8 L1645.5 2078.2 L1647 2081.6 L1648.5 2085.1 L1650 2088.6 L1651.5 2092.1 L1653 2095.8 L1654.5 2099.4 L1656 2103.1 L1657.5 2106.9 L1659 2110.6 L1660.5 2114.4 L1662 2118.3 L1663.5 2122.1 L1665 2126 L1666.5 2129.9 L1668 2133.8 L1669.5 2137.8 L1671 2141.7 L1672.5 2145.7 L1674 2149.6 L1675.5 2153.6 L1677 2157.6 L1678.5 2161.5 L1680 2165.4 L1681.5 2169.4 L1683 2173.3 L1684.5 2177.2 L1686 2181.1 L1687.5 2185 L1689 2188.8 L1690.5 2192.7 L1692 2196.5 L1693.5 2200.2 L1695 2204 L1696.5 2207.7 L1698 2211.4 L1699.5 2215 L1701 2218.6 L1702.5 2222.2 L1704 2225.7 L1705.5 2229.2 L1707 2232.6 L1708.5 2236 L1710 2239.4 L1711.5 2242.6 L1713 2245.9 L1714.5 2249.1 L1716 2252.3 L1717.5 2255.4 L1719 2258.4 L1720.5 2261.4 L1722 2264.3 L1723.5 2267.2 L1725 2270.1 L1726.5 2272.8 L1728 2275.6 L1729.5 2278.2 L1731 2280.9 L1732.5 2283.4 L1734 2285.9 L1735.5 2288.4 L1737 2290.8 L1738.5 2293.1 L1740 2295.4 L1741.5 2297.6 L1743 2299.8 L1744.5 2302 L1746 2304 L1747.5 2306 L1749 2308 L1750.5 2309.9 L1752 2311.8 L1753.5 2313.6 L1755 2315.4 L1756.5 2317.1 L1758 2318.7 L1759.5 2320.3 L1761 2321.9 L1762.5 2323.4 L1764 2324.9 L1765.5 2326.3 L1767 2327.7 L1768.5 2329.1 L1770 2330.4 L1771.5 2331.6 L1773 2332.8 L1774.5 2334 L1776 2335.1 L1777.5 2336.2 L1779 2337.3 L1780.5 2338.3 L1782 2339.3 L1783.5 2340.2 L1785 2341.1 L1786.5 2342 L1788 2342.9 L1789.5 2343.7 L1791 2344.5 L1792.5 2345.2 L1794 2346 L1795.5 2346.7 L1797 2347.3 L1798.5 2348 L1800 2348.6 L1801.5 2349.2 L1803 2349.8 L1804.5 2350.3 L1806 2350.8 L1807.5 2351.3 L1809 2351.8 L1810.5 2352.3 L1812 2352.7 L1813.5 2353.1 L1815 2353.5 L1816.5 2353.9 L1818 2354.3 L1819.5 2354.6 L1821 2354.9 L1822.5 2355.3 L1824 2355.6 L1825.5 2355.9 L1827 2356.1 L1828.5 2356.4 L1830 2356.6 L1831.5 2356.9 L1833 2357.1 L1834.5 2357.3 L1836 2357.5 L1837.5 2357.7 L1839 2357.9 L1840.5 2358.1 L1842 2358.2 L1843.5 2358.4 L1845 2358.6 L1846.5 2358.7 L1848 2358.8 L1849.5 2359 L1851 2359.1 L1852.5 2359.2 L1854 2359.3 L1855.5 2359.4 L1857 2359.5 L1858.5 2359.6 L1860 2359.7 L1861.5 2359.8 L1863 2359.8 L1864.5 2359.9 L1866 2360 L1867.5 2360 L1869 2360.1 L1870.5 2360.2 L1872 2360.2 L1873.5 2360.3 L1875 2360.3 L1876.5 2360.4 L1878 2360.4 L1879.5 2360.4 L1881 2360.5 L1882.5 2360.5 L1884 2360.5 L1885.5 2360.6 L1887 2360.6 L1888.5 2360.6 L1890 2360.7 L1891.5 2360.7 L1893 2360.7 L1894.5 2360.7 L1896 2360.7 L1897.5 2360.8 L1899 2360.8 L1900.5 2360.8 L1902 2360.8 L1903.5 2360.8 L1905 2360.8 L1906.5 2360.8 L1908 2360.9 L1909.5 2360.9 L1911 2360.9 L1912.5 2360.9 L1914 2360.9 L1915.5 2360.9 L1917 2360.9 L1918.5 2360.9 L1920 2360.9 L1921.5 2360.9 L1923 2360.9 L1924.5 2360.9 L1926 2360.9 L1927.5 2360.9 L1929 2361 L1930.5 2361 L1932 2361 L1933.5 2361 L1935 2361 L1936.5 2361 L1938 2361 L1939.5 2361 L1941 2361 L1942.5 2361 L1944 2361 L1945.5 2361 L1947 2361 L1948.5 2361 L1950 2361 L1951.5 2361 L1953 2361 L1954.5 2361 L1956 2361 L1957.5 2361 L1959 2361 L1960.5 2361 L1962 2361 L1963.5 2361 L1965 2361 L1966.5 2361 L1968 2361 L1968.5 2361" fill="none" stroke="rgb(150,190,150)" stroke-width="3.6" stroke-linejoin="round" clip-path="url(#clip5)"/>
<path d="M1063.5 2361 L1065 2361 L1066.5 2361 L1068 2361 L1069.5 2361 L1071 2361 L1072.5 2361 L1074 2361 L1075.5 2361 L1077 2361 L1078.5 2361 L1080 2361 L1081.5 2361 L1083 2361 L1084.5 2361 L1086 2361 L1087.5 2361 L1089 2361 L1090.5 2361 L1092 2361 L1093.5 2361 L1095 2361 L1096.5 2361 L1098 2361 L1099.5 2361 L1101 2361 L1102.5 2361 L1104 2361 L1105.5 2361 L1107 2361 L1108.5 2361 L1110 2361 L1111.5 2361 L1113 2361 L1114.5 2361 L1116 2361 L1117.5 2361 L1119 2361 L1120.5 2361 L1122 2361 L1123.5 2361 L1125 2361 L1126.5 2361 L1128 2361 L1129.5 2361 L1131 2361 L1132.5 2361 L1134 2361 L1135.5 2361 L1137 2361 L1138.5 2361 L1140 2361 L1141.5 2361 L1143 2361 L1144.5 2361 L1146 2361 L1147.5 2361 L1149 2361 L1150.5 2361 L1152 2361 L1153.5 2361 L1155 2361 L1156.5 2361 L1158 2361 L1159.5 2361 L1161 2361 L1162.5 2361 L1164 2361 L1165.5 2361 L1167 2361 L1168.5 2361 L1170 2361 L1171.5 2361 L1173 2361 L1174.5 2361 L1176 2361 L1177.5 2361 L1179 2361 L1180.5 2361 L1182 2361 L1183.5 2361 L1185 2361 L1186.5 2361 L1188 2361 L1189.5 2361 L1191 2361 L1192.5 2361 L1194 2361 L1195.5 2361 L1197 2361 L1198.5 2361 L1200 2361 L1201.5 2361 L1203 2361 L1204.5 2361 L1206 2361 L1207.5 2361 L1209 2361 L1210.5 2361 L1212 2361 L1213.5 2361 L1215 2361 L1216.5 2361 L1218 2361 L1219.5 2361 L1221 2361 L1222.5 2361 L1224 2361 L1225.5 2361 L1227 2361 L1228.5 2361 L1230 2361 L1231.5 2361 L1233 2361 L1234.5 2361 L1236 2361 L1237.5 2361 L1239 2361 L1240.5 2361 L1242 2361 L1243.5 2361 L1245 2361 L1246.5 2361 L1248 2361 L1249.5 2361 L1251 2361 L1252.5 2361 L1254 2361 L1255.5 2361 L1257 2361 L1258.5 2361 L1260 2361 L1261.5 2361 L1263 2360.9 L1264.5 2360.9 L1266 2360.9 L1267.5 2360.9 L1269 2360.9 L1270.5 2360.9 L1272 2360.9 L1273.5 2360.9 L1275 2360.9 L1276.5 2360.9 L1278 2360.9 L1279.5 2360.9 L1281 2360.9 L1282.5 2360.9 L1284 2360.8 L1285.5 2360.8 L1287 2360.8 L1288.5 2360.8 L1290 2360.8 L1291.5 2360.8 L1293 2360.8 L1294.5 2360.7 L1296 2360.7 L1297.5 2360.7 L1299 2360.7 L1300.5 2360.7 L1302 2360.6 L1303.5 2360.6 L1305 2360.6 L1306.5 2360.5 L1308 2360.5 L1309.5 2360.5 L1311 2360.4 L1312.5 2360.4 L1314 2360.4 L1315.5 2360.3 L1317 2360.3 L1318.5 2360.2 L1320 2360.2 L1321.5 2360.1 L1323 2360.1 L1324.5 2360 L1326 2359.9 L1327.5 2359.9 L1329 2359.8 L1330.5 2359.7 L1332 2359.6 L1333.5 2359.5 L1335 2359.4 L1336.5 2359.3 L1338 2359.2 L1339.5 2359.1 L1341 2359 L1342.5 2358.9 L1344 2358.7 L1345.5 2358.6 L1347 2358.5 L1348.5 2358.3 L1350 2358.1 L1351.5 2358 L1353 2357.8 L1354.5 2357.6 L1356 2357.4 L1357.5 2357.2 L1359 2357 L1360.5 2356.7 L1362 2356.5 L1363.5 2356.2 L1365 2356 L1366.5 2355.7 L1368 2355.4 L1369.5 2355.1 L1371 2354.7 L1372.5 2354.4 L1374 2354 L1375.5 2353.6 L1377 2353.3 L1378.5 2352.8 L1380 2352.4 L1381.5 2352 L1383 2351.5 L1384.5 2351 L1386 2350.5 L1387.5 2349.9 L1389 2349.4 L1390.5 2348.8 L1392 2348.2 L1393.5 2347.5 L1395 2346.9 L1396.5 2346.2 L1398 2345.5 L1399.5 2344.7 L1401 2344 L1402.5 2343.2 L1404 2342.3 L1405.5 2341.4 L1407 2340.5 L1408.5 2339.6 L1410 2338.6 L1411.5 2337.6 L1413 2336.6 L1414.5 2335.5 L1416 2334.4 L1417.5 2333.2 L1419 2332 L1420.5 2330.8 L1422 2329.5 L1423.5 2328.2 L1425 2326.8 L1426.5 2325.4 L1428 2323.9 L1429.5 2322.4 L1431 2320.9 L1432.5 2319.3 L1434 2317.6 L1435.5 2315.9 L1437 2314.2 L1438.5 2312.4 L1440 2310.6 L1441.5 2308.7 L1443 2306.7 L1444.5 2304.7 L1446 2302.6 L1447.5 2300.5 L1449 2298.4 L1450.5 2296.2 L1452 2293.9 L1453.5 2291.6 L1455 2289.2 L1456.5 2286.8 L1458 2284.3 L1459.5 2281.7 L1461 2279.1 L1462.5 2276.5 L1464 2273.8 L1465.5 2271 L1467 2268.2 L1468.5 2265.3 L1470 2262.4 L1471.5 2259.4 L1473 2256.4 L1474.5 2253.3 L1476 2250.2 L1477.5 2247 L1479 2243.7 L1480.5 2240.5 L1482 2237.1 L1483.5 2233.7 L1485 2230.3 L1486.5 2226.9 L1488 2223.4 L1489.5 2219.8 L1491 2216.2 L1492.5 2212.6 L1494 2208.9 L1495.5 2205.2 L1497 2201.5 L1498.5 2197.7 L1500 2193.9 L1501.5 2190.1 L1503 2186.3 L1504.5 2182.4 L1506 2178.5 L1507.5 2174.6 L1509 2170.7 L1510.5 2166.8 L1512 2162.8 L1513.5 2158.9 L1515 2154.9 L1516.5 2151 L1518 2147 L1519.5 2143 L1521 2139.1 L1522.5 2135.2 L1524 2131.2 L1525.5 2127.3 L1527 2123.4 L1528.5 2119.6 L1530 2115.7 L1531.5 2111.9 L1533 2108.1 L1534.5 2104.4 L1536 2100.6 L1537.5 2097 L1539 2093.3 L1540.5 2089.8 L1542 2086.2 L1543.5 2082.7 L1545 2079.3 L1546.5 2076 L1548 2072.7 L1549.5 2069.4 L1551 2066.3 L1552.5 2063.2 L1554 2060.2 L1555.5 2057.2 L1557 2054.4 L1558.5 2051.6 L1560 2048.9 L1561.5 2046.3 L1563 2043.8 L1564.5 2041.4 L1566 2039.1 L1567.5 2036.8 L1569 2034.7 L1570.5 2032.7 L1572 2030.8 L1573.5 2029 L1575 2027.3 L1576.5 2025.8 L1578 2024.3 L1579.5 2023 L1581 2021.7 L1582.5 2020.6 L1584 2019.6 L1585.5 2018.7 L1587 2018 L1588.5 2017.3 L1590 2016.8 L1591.5 2016.4 L1593 2016.2 L1594.5 2016 L1596 2016 L1597.5 2016.1 L1599 2016.3 L1600.5 2016.7 L1602 2017.2 L1603.5 2017.8 L1605 2018.5 L1606.5 2019.3 L1608 2020.3 L1609.5 2021.3 L1611 2022.5 L1612.5 2023.8 L1614 2025.3 L1615.5 2026.8 L1617 2028.4 L1618.5 2030.2 L1620 2032.1 L1621.5 2034.1 L1623 2036.1 L1624.5 2038.3 L1626 2040.6 L1627.5 2043 L1629 2045.5 L1630.5 2048 L1632 2050.7 L1633.5 2053.4 L1635 2056.3 L1636.5 2059.2 L1638 2062.2 L1639.5 2065.2 L1641 2068.4 L1642.5 2071.6 L1644 2074.8 L1645.5 2078.2 L1647 2081.6 L1648.5 2085.1 L1650 2088.6 L1651.5 2092.1 L1653 2095.8 L1654.5 2099.4 L1656 2103.1 L1657.5 2106.9 L1659 2110.6 L1660.5 2114.4 L1662 2118.3 L1663.5 2122.1 L1665 2126 L1666.5 2129.9 L1668 2133.8 L1669.5 2137.8 L1671 2141.7 L1672.5 2145.7 L1674 2149.6 L1675.5 2153.6 L1677 2157.6 L1678.5 2161.5 L1680 2165.4 L1681.5 2169.4 L1683 2173.3 L1684.5 2177.2 L1686 2181.1 L1687.5 2185 L1689 2188.8 L1690.5 2192.7 L1692 2196.5 L1693.5 2200.2 L1695 2204 L1696.5 2207.7 L1698 2211.4 L1699.5 2215 L1701 2218.6 L1702.5 2222.2 L1704 2225.7 L1705.5 2229.2 L1707 2232.6 L1708.5 2236 L1710 2239.4 L1711.5 2242.6 L1713 2245.9 L1714.5 2249.1 L1716 2252.3 L1717.5 2255.4 L1719 2258.4 L1720.5 2261.4 L1722 2264.3 L1723.5 2267.2 L1725 2270.1 L1726.5 2272.8 L1728 2275.6 L1729.5 2278.2 L1731 2280.9 L1732.5 2283.4 L1734 2285.9 L1735.5 2288.4 L1737 2290.8 L1738.5 2293.1 L1740 2295.4 L1741.5 2297.6 L1743 2299.8 L1744.5 2302 L1746 2304 L1747.5 2306 L1749 2308 L1750.5 2309.9 L1752 2311.8 L1753.5 2313.6 L1755 2315.4 L1756.5 2317.1 L1758 2318.7 L1759.5 2320.3 L1761 2321.9 L1762.5 2323.4 L1764 2324.9 L1765.5 2326.3 L1767 2327.7 L1768.5 2329.1 L1770 2330.4 L1771.5 2331.6 L1773 2332.8 L1774.5 2334 L1776 2335.1 L1777.5 2336.2 L1779 2337.3 L1780.5 2338.3 L1782 2339.3 L1783.5 2340.2 L1785 2341.1 L1786.5 2342 L1788 2342.9 L1789.5 2343.7 L1791 2344.5 L1792.5 2345.2 L1794 2346 L1795.5 2346.7 L1797 2347.3 L1798.5 2348 L1800 2348.6 L1801.5 2349.2 L1803 2349.8 L1804.5 2350.3 L1806 2350.8 L1807.5 2351.3 L1809 2351.8 L1810.5 2352.3 L1812 2352.7 L1813.5 2353.1 L1815 2353.5 L1816.5 2353.9 L1818 2354.3 L1819.5 2354.6 L1821 2354.9 L1822.5 2355.3 L1824 2355.6 L1825.5 2355.9 L1827 2356.1 L1828.5 2356.4 L1830 2356.6 L1831.5 2356.9 L1833 2357.1 L1834.5 2357.3 L1836 2357.5 L1837.5 2357.7 L1839 2357.9 L1840.5 2358.1 L1842 2358.2 L1843.5 2358.4 L1845 2358.6 L1846.5 2358.7 L1848 2358.8 L1849.5 2359 L1851 2359.1 L1852.5 2359.2 L1854 2359.3 L1855.5 2359.4 L1857 2359.5 L1858.5 2359.6 L1860 2359.7 L1861.5 2359.8 L1863 2359.8 L1864.5 2359.9 L1866 2360 L1867.5 2360 L1869 2360.1 L1870.5 2360.2 L1872 2360.2 L1873.5 2360.3 L1875 2360.3 L1876.5 2360.4 L1878 2360.4 L1879.5 2360.4 L1881 2360.5 L1882.5 2360.5 L1884 2360.5 L1885.5 2360.6 L1887 2360.6 L1888.5 2360.6 L1890 2360.7 L1891.5 2360.7 L1893 2360.7 L1894.5 2360.7 L1896 2360.7 L1897.5 2360.8 L1899 2360.8 L1900.5 2360.8 L1902 2360.8 L1903.5 2360.8 L1905 2360.8 L1906.5 2360.8 L1908 2360.9 L1909.5 2360.9 L1911 2360.9 L1912.5 2360.9 L1914 2360.9 L1915.5 2360.9 L1917 2360.9 L1918.5 2360.9 L1920 2360.9 L1921.5 2360.9 L1923 2360.9 L1924.5 2360.9 L1926 2360.9 L1927.5 2360.9 L1929 2361 L1930.5 2361 L1932 2361 L1933.5 2361 L1935 2361 L1936.5 2361 L1938 2361 L1939.5 2361 L1941 2361 L1942.5 2361 L1944 2361 L1945.5 2361 L1947 2361 L1948.5 2361 L1950 2361 L1951.5 2361 L1953 2361 L1954.5 2361 L1956 2361 L1957.5 2361 L1959 2361 L1960.5 2361 L1962 2361 L1963.5 2361 L1965 2361 L1966.5 2361 L1968 2361 L1968.5 2361" fill="none" stroke="rgb(120,215,150)" stroke-width="2" stroke-linejoin="round" clip-path="url(#clip5)"/>
<path d="M1063.5 2361 L1065 2361 L1066.5 2361 L1068 2361 L1069.5 2361 L1071 2361 L1072.5 2361 L1074 2361 L1075.5 2361 L1077 2361 L1078.5 2361 L1080 2361 L1081.5 2361 L1083 2361 L1084.5 2361 L1086 2361 L1087.5 2361 L1089 2361 L1090.5 2361 L1092 2361 L1093.5 2361 L1095 2361 L1096.5 2361 L1098 2361 L1099.5 2361 L1101 2361 L1102.5 2361 L1104 2361 L1105.5 2361 L1107 2361 L1108.5 2361 L1110 2361 L1111.5 2361 L1113 2361 L1114.5 2361 L1116 2361 L1117.5 2361 L1119 2361 L1120.5 2361 L1122 2361 L1123.5 2361 L1125 2361 L1126.5 2361 L1128 2361 L1129.5 2361 L1131 2361 L1132.5 2361 L1134 2361 L1135.5 2361 L1137 2361 L1138.5 2361 L1140 2361 L1141.5 2361 L1143 2361 L1144.5 2361 L1146 2361 L1147.5 2361 L1149 2361 L1150.5 2361 L1152 2361 L1153.5 2361 L1155 2361 L1156.5 2361 L1158 2361 L1159.5 2361 L1161 2361 L1162.5 2361 L1164 2361 L1165.5 2361 L1167 2361 L1168.5 2361 L1170 2361 L1171.5 2361 L1173 2361 L1174.5 2361 L1176 2361 L1177.5 2361 L1179 2361 L1180.5 2361 L1182 2361 L1183.5 2361 L1185 2361 L1186.5 2361 L1188 2361 L1189.5 2361 L1191 2361 L1192.5 2361 L1194 2361 L1195.5 2361 L1197 2361 L1198.5 2361 L1200 2361 L1201.5 2361 L1203 2361 L1204.5 2361 L1206 2361 L1207.5 2361 L1209 2361 L1210.5 2361 L1212 2361 L1213.5 2361 L1215 2361 L1216.5 2361 L1218 2361 L1219.5 2361 L1221 2361 L1222.5 2361 L1224 2361 L1225.5 2361 L1227 2361 L1228.5 2361 L1230 2361 L1231.5 2361 L1233 2361 L1234.5 2361 L1236 2361 L1237.5 2361 L1239 2361 L1240.5 2361 L1242 2361 L1243.5 2361 L1245 2361 L1246.5 2361 L1248 2361 L1249.5 2361 L1251 2361 L1252.5 2361 L1254 2361 L1255.5 2360.9 L1257 2360.9 L1258.5 2360.9 L1260 2360.9 L1261.5 2360.9 L1263 2360.9 L1264.5 2360.9 L1266 2360.9 L1267.5 2360.9 L1269 2360.9 L1270.5 2360.9 L1272 2360.9 L1273.5 2360.8 L1275 2360.8 L1276.5 2360.8 L1278 2360.8 L1279.5 2360.8 L1281 2360.8 L1282.5 2360.7 L1284 2360.7 L1285.5 2360.7 L1287 2360.6 L1288.5 2360.6 L1290 2360.6 L1291.5 2360.5 L1293 2360.5 L1294.5 2360.5 L1296 2360.4 L1297.5 2360.4 L1299 2360.3 L1300.5 2360.2 L1302 2360.2 L1303.5 2360.1 L1305 2360 L1306.5 2359.9 L1308 2359.9 L1309.5 2359.8 L1311 2359.7 L1312.5 2359.6 L1314 2359.4 L1315.5 2359.3 L1317 2359.2 L1318.5 2359 L1320 2358.9 L1321.5 2358.7 L1323 2358.5 L1324.5 2358.3 L1326 2358.1 L1327.5 2357.9 L1329 2357.7 L1330.5 2357.4 L1332 2357.2 L1333.5 2356.9 L1335 2356.6 L1336.5 2356.3 L1338 2355.9 L1339.5 2355.6 L1341 2355.2 L1342.5 2354.8 L1344 2354.3 L1345.5 2353.9 L1347 2353.4 L1348.5 2352.9 L1350 2352.3 L1351.5 2351.7 L1353 2351.1 L1354.5 2350.5 L1356 2349.8 L1357.5 2349.1 L1359 2348.3 L1360.5 2347.5 L1362 2346.6 L1363.5 2345.7 L1365 2344.8 L1366.5 2343.7 L1368 2342.7 L1369.5 2341.6 L1371 2340.4 L1372.5 2339.2 L1374 2337.9 L1375.5 2336.5 L1377 2335.1 L1378.5 2333.6 L1380 2332.1 L1381.5 2330.4 L1383 2328.7 L1384.5 2327 L1386 2325.1 L1387.5 2323.1 L1389 2321.1 L1390.5 2319 L1392 2316.8 L1393.5 2314.5 L1395 2312.1 L1396.5 2309.6 L1398 2307 L1399.5 2304.3 L1401 2301.5 L1402.5 2298.6 L1404 2295.6 L1405.5 2292.4 L1407 2289.2 L1408.5 2285.9 L1410 2282.4 L1411.5 2278.8 L1413 2275.1 L1414.5 2271.3 L1416 2267.3 L1417.5 2263.2 L1419 2259 L1420.5 2254.7 L1422 2250.3 L1423.5 2245.7 L1425 2241 L1426.5 2236.1 L1428 2231.2 L1429.5 2226.1 L1431 2220.9 L1432.5 2215.5 L1434 2210 L1435.5 2204.4 L1437 2198.7 L1438.5 2192.9 L1440 2186.9 L1441.5 2180.8 L1443 2174.6 L1444.5 2168.3 L1446 2161.8 L1447.5 2155.3 L1449 2148.6 L1450.5 2141.9 L1452 2135 L1453.5 2128.1 L1455 2121.1 L1456.5 2113.9 L1458 2106.7 L1459.5 2099.4 L1461 2092.1 L1462.5 2084.7 L1464 2077.2 L1465.5 2069.7 L1467 2062.1 L1468.5 2054.5 L1470 2046.8 L1471.5 2039.1 L1473 2031.4 L1474.5 2023.7 L1476 2016 L1477.5 2008.3 L1479 2000.6 L1480.5 1992.9 L1482 1985.3 L1483.5 1977.7 L1485 1970.1 L1486.5 1962.6 L1488 1955.2 L1489.5 1947.8 L1491 1940.5 L1492.5 1933.3 L1494 1926.2 L1495.5 1919.2 L1497 1912.3 L1498.5 1905.6 L1500 1899 L1501.5 1892.5 L1503 1886.2 L1504.5 1880 L1506 1874.1 L1507.5 1868.2 L1509 1862.6 L1510.5 1857.2 L1512 1852 L1513.5 1846.9 L1515 1842.1 L1516.5 1837.6 L1518 1833.2 L1519.5 1829.1 L1521 1825.2 L1522.5 1821.6 L1524 1818.2 L1525.5 1815.1 L1527 1812.3 L1528.5 1809.7 L1530 1807.4 L1531.5 1805.4 L1533 1803.6 L1534.5 1802.1 L1536 1800.9 L1537.5 1800 L1539 1799.4 L1540.5 1799.1 L1542 1799 L1543.5 1799.3 L1545 1799.8 L1546.5 1800.6 L1548 1801.7 L1549.5 1803.1 L1551 1804.7 L1552.5 1806.7 L1554 1808.9 L1555.5 1811.4 L1557 1814.2 L1558.5 1817.2 L1560 1820.5 L1561.5 1824 L1563 1827.8 L1564.5 1831.8 L1566 1836.1 L1567.5 1840.6 L1569 1845.3 L1570.5 1850.3 L1572 1855.4 L1573.5 1860.8 L1575 1866.4 L1576.5 1872.1 L1578 1878 L1579.5 1884.1 L1581 1890.4 L1582.5 1896.8 L1584 1903.4 L1585.5 1910.1 L1587 1916.9 L1588.5 1923.9 L1590 1930.9 L1591.5 1938.1 L1593 1945.4 L1594.5 1952.7 L1596 1960.1 L1597.5 1967.6 L1599 1975.2 L1600.5 1982.8 L1602 1990.4 L1603.5 1998.1 L1605 2005.7 L1606.5 2013.4 L1608 2021.2 L1609.5 2028.9 L1611 2036.6 L1612.5 2044.3 L1614 2051.9 L1615.5 2059.5 L1617 2067.1 L1618.5 2074.7 L1620 2082.2 L1621.5 2089.6 L1623 2097 L1624.5 2104.3 L1626 2111.5 L1627.5 2118.7 L1629 2125.8 L1630.5 2132.7 L1632 2139.6 L1633.5 2146.4 L1635 2153.1 L1636.5 2159.7 L1638 2166.1 L1639.5 2172.5 L1641 2178.8 L1642.5 2184.9 L1644 2190.9 L1645.5 2196.8 L1647 2202.5 L1648.5 2208.2 L1650 2213.7 L1651.5 2219.1 L1653 2224.4 L1654.5 2229.5 L1656 2234.5 L1657.5 2239.4 L1659 2244.1 L1660.5 2248.8 L1662 2253.2 L1663.5 2257.6 L1665 2261.9 L1666.5 2266 L1668 2270 L1669.5 2273.8 L1671 2277.6 L1672.5 2281.2 L1674 2284.7 L1675.5 2288.1 L1677 2291.4 L1678.5 2294.5 L1680 2297.6 L1681.5 2300.5 L1683 2303.4 L1684.5 2306.1 L1686 2308.7 L1687.5 2311.3 L1689 2313.7 L1690.5 2316 L1692 2318.3 L1693.5 2320.4 L1695 2322.5 L1696.5 2324.4 L1698 2326.3 L1699.5 2328.2 L1701 2329.9 L1702.5 2331.5 L1704 2333.1 L1705.5 2334.6 L1707 2336.1 L1708.5 2337.4 L1710 2338.8 L1711.5 2340 L1713 2341.2 L1714.5 2342.3 L1716 2343.4 L1717.5 2344.4 L1719 2345.4 L1720.5 2346.3 L1722 2347.2 L1723.5 2348 L1725 2348.8 L1726.5 2349.5 L1728 2350.2 L1729.5 2350.9 L1731 2351.5 L1732.5 2352.1 L1734 2352.7 L1735.5 2353.2 L1737 2353.7 L1738.5 2354.2 L1740 2354.6 L1741.5 2355.1 L1743 2355.5 L1744.5 2355.8 L1746 2356.2 L1747.5 2356.5 L1749 2356.8 L1750.5 2357.1 L1752 2357.4 L1753.5 2357.6 L1755 2357.9 L1756.5 2358.1 L1758 2358.3 L1759.5 2358.5 L1761 2358.7 L1762.5 2358.8 L1764 2359 L1765.5 2359.1 L1767 2359.3 L1768.5 2359.4 L1770 2359.5 L1771.5 2359.6 L1773 2359.7 L1774.5 2359.8 L1776 2359.9 L1777.5 2360 L1779 2360.1 L1780.5 2360.2 L1782 2360.2 L1783.5 2360.3 L1785 2360.3 L1786.5 2360.4 L1788 2360.4 L1789.5 2360.5 L1791 2360.5 L1792.5 2360.6 L1794 2360.6 L1795.5 2360.6 L1797 2360.7 L1798.5 2360.7 L1800 2360.7 L1801.5 2360.7 L1803 2360.8 L1804.5 2360.8 L1806 2360.8 L1807.5 2360.8 L1809 2360.8 L1810.5 2360.9 L1812 2360.9 L1813.5 2360.9 L1815 2360.9 L1816.5 2360.9 L1818 2360.9 L1819.5 2360.9 L1821 2360.9 L1822.5 2360.9 L1824 2360.9 L1825.5 2360.9 L1827 2360.9 L1828.5 2361 L1830 2361 L1831.5 2361 L1833 2361 L1834.5 2361 L1836 2361 L1837.5 2361 L1839 2361 L1840.5 2361 L1842 2361 L1843.5 2361 L1845 2361 L1846.5 2361 L1848 2361 L1849.5 2361 L1851 2361 L1852.5 2361 L1854 2361 L1855.5 2361 L1857 2361 L1858.5 2361 L1860 2361 L1861.5 2361 L1863 2361 L1864.5 2361 L1866 2361 L1867.5 2361 L1869 2361 L1870.5 2361 L1872 2361 L1873.5 2361 L1875 2361 L1876.5 2361 L1878 2361 L1879.5 2361 L1881 2361 L1882.5 2361 L1884 2361 L1885.5 2361 L1887 2361 L1888.5 2361 L1890 2361 L1891.5 2361 L1893 2361 L1894.5 2361 L1896 2361 L1897.5 2361 L1899 2361 L1900.5 2361 L1902 2361 L1903.5 2361 L1905 2361 L1906.5 2361 L1908 2361 L1909.5 2361 L1911 2361 L1912.5 2361 L1914 2361 L1915.5 2361 L1917 2361 L1918.5 2361 L1920 2361 L1921.5 2361 L1923 2361 L1924.5 2361 L1926 2361 L1927.5 2361 L1929 2361 L1930.5 2361 L1932 2361 L1933.5 2361 L1935 2361 L1936.5 2361 L1938 2361 L1939.5 2361 L1941 2361 L1942.5 2361 L1944 2361 L1945.5 2361 L1947 2361 L1948.5 2361 L1950 2361 L1951.5 2361 L1953 2361 L1954.5 2361 L1956 2361 L1957.5 2361 L1959 2361 L1960.5 2361 L1962 2361 L1963.5 2361 L1965 2361 L1966.5 2361 L1968 2361 L1968.5 2361" fill="none" stroke="#0000ff" stroke-width="3.6" stroke-linejoin="round"/>
<path d="M1063.5 2361 H1968.5" fill="none" stroke="#0000ff" stroke-width="4.4"/>
<rect x="1063.5" y="1722.3" width="905" height="669.8" fill="none" stroke="#000" stroke-width="3.7"/>
<path d="M1063.5 2392.1 V2404.6 M1104.6 2392.1 V2398.4 M1145.8 2392.1 V2404.6 M1186.9 2392.1 V2398.4 M1228 2392.1 V2404.6 M1269.2 2392.1 V2398.4 M1310.3 2392.1 V2404.6 M1351.5 2392.1 V2398.4 M1392.6 2392.1 V2404.6 M1433.7 2392.1 V2398.4 M1474.9 2392.1 V2404.6 M1516 2392.1 V2398.4 M1557.1 2392.1 V2404.6 M1598.3 2392.1 V2398.4 M1639.4 2392.1 V2404.6 M1680.5 2392.1 V2398.4 M1721.7 2392.1 V2404.6 M1762.8 2392.1 V2398.4 M1804 2392.1 V2404.6 M1845.1 2392.1 V2398.4 M1886.2 2392.1 V2404.6 M1927.4 2392.1 V2398.4 M1968.5 2392.1 V2404.6" fill="none" stroke="#000" stroke-width="3.7"/>
<g font-size="27.70" text-anchor="middle" stroke="#000" stroke-width="0.6">
<text transform="translate(1063.50,2436.22) scale(1.1306,1)">538</text>
<text transform="translate(1145.77,2436.22) scale(1.1306,1)">537</text>
<text transform="translate(1228.05,2436.22) scale(1.1306,1)">536</text>
<text transform="translate(1310.32,2436.22) scale(1.1306,1)">535</text>
<text transform="translate(1392.59,2436.22) scale(1.1306,1)">534</text>
<text transform="translate(1474.86,2436.22) scale(1.1306,1)">533</text>
<text transform="translate(1557.14,2436.22) scale(1.1306,1)">532</text>
<text transform="translate(1639.41,2436.22) scale(1.1306,1)">531</text>
<text transform="translate(1721.68,2436.22) scale(1.1306,1)">530</text>
<text transform="translate(1803.95,2436.22) scale(1.1306,1)">529</text>
<text transform="translate(1886.23,2436.22) scale(1.1306,1)">528</text>
<text transform="translate(1968.50,2436.22) scale(1.1306,1)">527</text>
</g>
<text transform="translate(1522.78,1785.64) scale(1.0650,1)" font-size="36.04" stroke="#000" stroke-width="0.6">C-O</text>
<text transform="translate(1601.81,2006.75) scale(1.0664,1)" font-size="35.48" stroke="#000" stroke-width="0.6">C=O</text>
<text transform="translate(1448.41,2489.20) scale(1.1000,1)" font-size="35.20" stroke="#000" stroke-width="0.6">B.E(eV)</text>
</g>
</svg>
</body></html>
